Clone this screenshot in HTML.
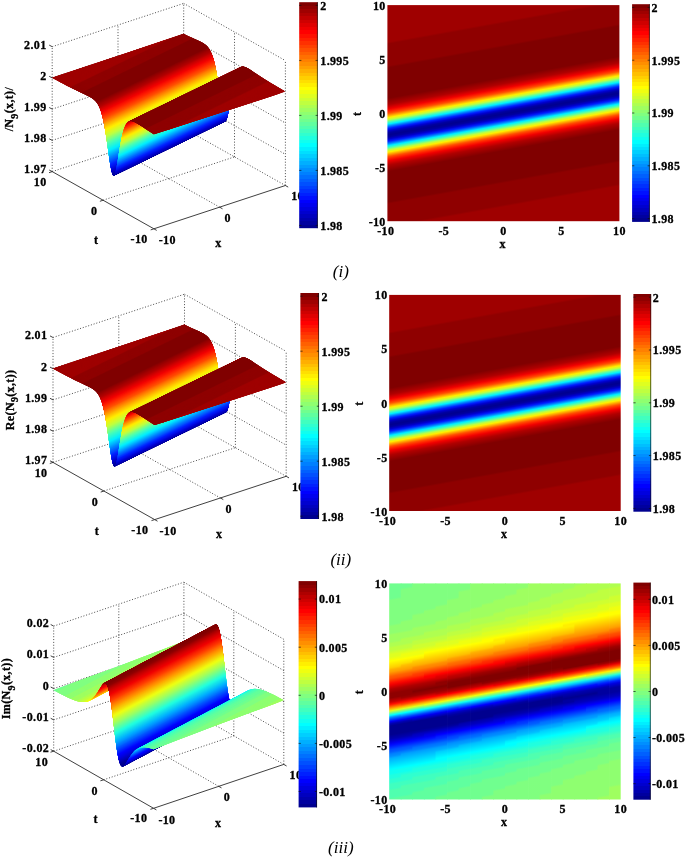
<!DOCTYPE html>
<html lang="en"><head><meta charset="utf-8"><title>Figure</title>
<style>html,body{margin:0;padding:0;background:#fff;overflow:hidden}svg{display:block;filter:blur(.4px)}text{font-family:"Liberation Serif", serif;fill:#000;stroke:#000;stroke-width:.3px;letter-spacing:.35px}.cap{stroke:none;letter-spacing:0}.gr{fill:none;stroke:#383838;stroke-width:.9;stroke-dasharray:1 1.85}.ax{fill:none;stroke:#2a2a2a;stroke-width:0.9}.cb{fill:none;stroke:#111;stroke-opacity:.75;stroke-width:0.9}path{stroke-width:0.6;stroke-linejoin:round}</style></head>
<body>
<svg width="685" height="859" viewBox="0 0 685 859">
<rect width="685" height="859" fill="#fff"/>
<defs><linearGradient id="jet" x1="0" y1="0" x2="0" y2="1"><stop offset="0.00000" stop-color="#800000"/><stop offset="0.01562" stop-color="#800000"/><stop offset="0.01562" stop-color="#8f0000"/><stop offset="0.03125" stop-color="#8f0000"/><stop offset="0.03125" stop-color="#9f0000"/><stop offset="0.04688" stop-color="#9f0000"/><stop offset="0.04688" stop-color="#af0000"/><stop offset="0.06250" stop-color="#af0000"/><stop offset="0.06250" stop-color="#bf0000"/><stop offset="0.07812" stop-color="#bf0000"/><stop offset="0.07812" stop-color="#cf0000"/><stop offset="0.09375" stop-color="#cf0000"/><stop offset="0.09375" stop-color="#df0000"/><stop offset="0.10938" stop-color="#df0000"/><stop offset="0.10938" stop-color="#ef0000"/><stop offset="0.12500" stop-color="#ef0000"/><stop offset="0.12500" stop-color="#ff0000"/><stop offset="0.14062" stop-color="#ff0000"/><stop offset="0.14062" stop-color="#ff1000"/><stop offset="0.15625" stop-color="#ff1000"/><stop offset="0.15625" stop-color="#ff2000"/><stop offset="0.17188" stop-color="#ff2000"/><stop offset="0.17188" stop-color="#ff3000"/><stop offset="0.18750" stop-color="#ff3000"/><stop offset="0.18750" stop-color="#ff4000"/><stop offset="0.20312" stop-color="#ff4000"/><stop offset="0.20312" stop-color="#ff5000"/><stop offset="0.21875" stop-color="#ff5000"/><stop offset="0.21875" stop-color="#ff6000"/><stop offset="0.23438" stop-color="#ff6000"/><stop offset="0.23438" stop-color="#ff7000"/><stop offset="0.25000" stop-color="#ff7000"/><stop offset="0.25000" stop-color="#ff8000"/><stop offset="0.26562" stop-color="#ff8000"/><stop offset="0.26562" stop-color="#ff8f00"/><stop offset="0.28125" stop-color="#ff8f00"/><stop offset="0.28125" stop-color="#ff9f00"/><stop offset="0.29688" stop-color="#ff9f00"/><stop offset="0.29688" stop-color="#ffaf00"/><stop offset="0.31250" stop-color="#ffaf00"/><stop offset="0.31250" stop-color="#ffbf00"/><stop offset="0.32812" stop-color="#ffbf00"/><stop offset="0.32812" stop-color="#ffcf00"/><stop offset="0.34375" stop-color="#ffcf00"/><stop offset="0.34375" stop-color="#ffdf00"/><stop offset="0.35938" stop-color="#ffdf00"/><stop offset="0.35938" stop-color="#ffef00"/><stop offset="0.37500" stop-color="#ffef00"/><stop offset="0.37500" stop-color="#ffff00"/><stop offset="0.39062" stop-color="#ffff00"/><stop offset="0.39062" stop-color="#efff10"/><stop offset="0.40625" stop-color="#efff10"/><stop offset="0.40625" stop-color="#dfff20"/><stop offset="0.42188" stop-color="#dfff20"/><stop offset="0.42188" stop-color="#cfff30"/><stop offset="0.43750" stop-color="#cfff30"/><stop offset="0.43750" stop-color="#bfff40"/><stop offset="0.45312" stop-color="#bfff40"/><stop offset="0.45312" stop-color="#afff50"/><stop offset="0.46875" stop-color="#afff50"/><stop offset="0.46875" stop-color="#9fff60"/><stop offset="0.48438" stop-color="#9fff60"/><stop offset="0.48438" stop-color="#8fff70"/><stop offset="0.50000" stop-color="#8fff70"/><stop offset="0.50000" stop-color="#80ff80"/><stop offset="0.51562" stop-color="#80ff80"/><stop offset="0.51562" stop-color="#70ff8f"/><stop offset="0.53125" stop-color="#70ff8f"/><stop offset="0.53125" stop-color="#60ff9f"/><stop offset="0.54688" stop-color="#60ff9f"/><stop offset="0.54688" stop-color="#50ffaf"/><stop offset="0.56250" stop-color="#50ffaf"/><stop offset="0.56250" stop-color="#40ffbf"/><stop offset="0.57812" stop-color="#40ffbf"/><stop offset="0.57812" stop-color="#30ffcf"/><stop offset="0.59375" stop-color="#30ffcf"/><stop offset="0.59375" stop-color="#20ffdf"/><stop offset="0.60938" stop-color="#20ffdf"/><stop offset="0.60938" stop-color="#10ffef"/><stop offset="0.62500" stop-color="#10ffef"/><stop offset="0.62500" stop-color="#00ffff"/><stop offset="0.64062" stop-color="#00ffff"/><stop offset="0.64062" stop-color="#00efff"/><stop offset="0.65625" stop-color="#00efff"/><stop offset="0.65625" stop-color="#00dfff"/><stop offset="0.67188" stop-color="#00dfff"/><stop offset="0.67188" stop-color="#00cfff"/><stop offset="0.68750" stop-color="#00cfff"/><stop offset="0.68750" stop-color="#00bfff"/><stop offset="0.70312" stop-color="#00bfff"/><stop offset="0.70312" stop-color="#00afff"/><stop offset="0.71875" stop-color="#00afff"/><stop offset="0.71875" stop-color="#009fff"/><stop offset="0.73438" stop-color="#009fff"/><stop offset="0.73438" stop-color="#008fff"/><stop offset="0.75000" stop-color="#008fff"/><stop offset="0.75000" stop-color="#0080ff"/><stop offset="0.76562" stop-color="#0080ff"/><stop offset="0.76562" stop-color="#0070ff"/><stop offset="0.78125" stop-color="#0070ff"/><stop offset="0.78125" stop-color="#0060ff"/><stop offset="0.79688" stop-color="#0060ff"/><stop offset="0.79688" stop-color="#0050ff"/><stop offset="0.81250" stop-color="#0050ff"/><stop offset="0.81250" stop-color="#0040ff"/><stop offset="0.82812" stop-color="#0040ff"/><stop offset="0.82812" stop-color="#0030ff"/><stop offset="0.84375" stop-color="#0030ff"/><stop offset="0.84375" stop-color="#0020ff"/><stop offset="0.85938" stop-color="#0020ff"/><stop offset="0.85938" stop-color="#0010ff"/><stop offset="0.87500" stop-color="#0010ff"/><stop offset="0.87500" stop-color="#0000ff"/><stop offset="0.89062" stop-color="#0000ff"/><stop offset="0.89062" stop-color="#0000ef"/><stop offset="0.90625" stop-color="#0000ef"/><stop offset="0.90625" stop-color="#0000df"/><stop offset="0.92188" stop-color="#0000df"/><stop offset="0.92188" stop-color="#0000cf"/><stop offset="0.93750" stop-color="#0000cf"/><stop offset="0.93750" stop-color="#0000bf"/><stop offset="0.95312" stop-color="#0000bf"/><stop offset="0.95312" stop-color="#0000af"/><stop offset="0.96875" stop-color="#0000af"/><stop offset="0.96875" stop-color="#00009f"/><stop offset="0.98438" stop-color="#00009f"/><stop offset="0.98438" stop-color="#00008f"/><stop offset="1.00000" stop-color="#00008f"/></linearGradient></defs>
<g>
<path class="gr" d="M52.2 171.6L52.2 46.7M285.4 185.5L285.4 60.6M219.7 207.2L118 150M103.1 200.2L234.5 156.9M118 150L118 25M234.5 156.9L234.5 32M285.4 185.5L183.7 128.3M52.2 171.6L183.7 128.3M183.7 128.3L183.7 3.4M52.2 140.4L183.7 97.1M183.7 97.1L285.4 154.3M52.2 109.1L183.7 65.8M183.7 65.8L285.4 123M52.2 77.9L183.7 34.6M183.7 34.6L285.4 91.8M52.2 46.7L183.7 3.4M183.7 3.4L285.4 60.6"/>
<path fill="#9f0000" d="M52.7 77.6L52.2 77.7L52.3 77.8Z"/>
<path fill="#9f0000" d="M56.1 76.5L52.2 77.7L52.8 78.1Z"/>
<path fill="#9f0000" d="M59.5 75.3L52.2 77.7L53.3 78.3Z"/>
<path fill="#9f0000" d="M62.9 74.2L52.2 77.7L53.8 78.6Z"/>
<path fill="#9f0000" d="M66.3 73.1L52.7 77.6L52.3 77.8L54.3 78.9Z"/>
<path fill="#9f0000" d="M69.7 72L56.1 76.5L52.8 78.1L54.8 79.2Z"/>
<path fill="#9f0000" d="M73 70.8L59.5 75.3L53.3 78.3L55.3 79.5Z"/>
<path fill="#9f0000" d="M76.4 69.7L62.9 74.2L53.8 78.6L55.8 79.7Z"/>
<path fill="#9f0000" d="M79.8 68.6L66.3 73.1L54.3 78.9L56.3 80Z"/>
<path fill="#9f0000" d="M83.2 67.5L69.7 72L54.8 79.2L56.9 80.3Z"/>
<path fill="#9f0000" d="M86.6 66.3L73 70.8L55.3 79.5L57.4 80.6Z"/>
<path fill="#9f0000" d="M90 65.2L76.4 69.7L55.8 79.7L57.9 80.8Z"/>
<path fill="#9f0000" d="M93.4 64.1L79.8 68.6L56.3 80L58.4 81.1Z"/>
<path fill="#9f0000" d="M96.8 63L83.2 67.5L56.9 80.3L58.9 81.4Z"/>
<path fill="#9f0000" d="M100.2 61.8L86.6 66.3L57.4 80.6L59.4 81.7Z"/>
<path fill="#9f0000" d="M103.5 60.7L90 65.2L57.9 80.8L59.9 81.9Z"/>
<path fill="#9f0000" d="M106.9 59.6L93.4 64.1L58.4 81.1L60.4 82.2Z"/>
<path fill="#9f0000" d="M110.3 58.4L96.8 63L58.9 81.4L60.9 82.5Z"/>
<path fill="#9f0000" d="M113.7 57.3L100.2 61.8L59.4 81.7L61.4 82.8Z"/>
<path fill="#9f0000" d="M117.1 56.2L103.5 60.7L59.9 81.9L61.9 83Z"/>
<path fill="#9f0000" d="M120.5 55L106.9 59.6L60.4 82.2L62.4 83.3Z"/>
<path fill="#9f0000" d="M123.9 53.9L110.3 58.4L60.9 82.5L63 83.6Z"/>
<path fill="#9f0000" d="M127.3 52.8L113.7 57.3L61.4 82.8L63.5 83.8Z"/>
<path fill="#9f0000" d="M130.7 51.7L117.1 56.2L61.9 83L64 84.1Z"/>
<path fill="#9f0000" d="M134 50.5L120.5 55L62.4 83.3L64.5 84.4Z"/>
<path fill="#9f0000" d="M137.4 49.4L123.9 53.9L63 83.6L65 84.6Z"/>
<path fill="#9f0000" d="M140.8 48.3L127.3 52.8L63.5 83.8L65.5 84.9Z"/>
<path fill="#9f0000" d="M144.2 47.1L130.7 51.7L64 84.1L66 85.2Z"/>
<path fill="#9f0000" d="M147.6 46L134 50.5L64.5 84.4L66.5 85.4Z"/>
<path fill="#9f0000" d="M151 44.8L137.4 49.4L65 84.6L67 85.7Z"/>
<path fill="#9f0000" d="M154.4 43.7L140.8 48.3L65.5 84.9L67.5 86Z"/>
<path fill="#9f0000" d="M157.8 42.6L144.2 47.1L66 85.2L68 86.2Z"/>
<path fill="#9f0000" d="M161.2 41.4L147.6 46L66.5 85.4L68.5 86.5Z"/>
<path fill="#9f0000" d="M164.6 40.3L151 44.8L67 85.7L69.1 86.8Z"/>
<path fill="#9f0000" d="M167.9 39.1L154.4 43.7L67.5 86L69.6 87Z"/>
<path fill="#9f0000" d="M171.3 38L157.8 42.6L68 86.2L70.1 87.3Z"/>
<path fill="#9f0000" d="M174.7 36.9L161.2 41.4L68.5 86.5L70.6 87.5Z"/>
<path fill="#9f0000" d="M178.1 35.7L164.6 40.3L69.1 86.8L71.1 87.8Z"/>
<path fill="#9c0000" d="M181.5 34.6L167.9 39.1L69.6 87L71.6 88.1Z"/>
<path fill="#940000" d="M183.9 33.9L183.7 33.8L171.3 38L70.1 87.3L72.1 88.3Z"/>
<path fill="#8f0000" d="M184.4 34.2L183.7 33.8L174.7 36.9L70.6 87.5L72.6 88.6Z"/>
<path fill="#8f0000" d="M184.9 34.4L183.7 33.8L178.1 35.7L71.1 87.8L73.1 88.8Z"/>
<path fill="#8f0000" d="M185.4 34.7L183.7 33.8L181.5 34.6L71.6 88.1L73.6 89.1Z"/>
<path fill="#8f0000" d="M185.9 34.9L183.9 33.9L72.1 88.3L74.1 89.3Z"/>
<path fill="#8f0000" d="M186.4 35.2L184.4 34.2L72.6 88.6L74.7 89.6Z"/>
<path fill="#8f0000" d="M186.9 35.4L184.9 34.4L73.1 88.8L75.2 89.8Z"/>
<path fill="#8f0000" d="M187.4 35.7L185.4 34.7L73.6 89.1L75.7 90.1Z"/>
<path fill="#8f0000" d="M187.9 35.9L185.9 34.9L74.1 89.3L76.2 90.3Z"/>
<path fill="#8f0000" d="M188.5 36.2L186.4 35.2L74.7 89.6L76.7 90.6Z"/>
<path fill="#8f0000" d="M189 36.4L186.9 35.4L75.2 89.8L77.2 90.8Z"/>
<path fill="#8f0000" d="M189.5 36.7L187.4 35.7L75.7 90.1L77.7 91Z"/>
<path fill="#8f0000" d="M190 36.9L187.9 35.9L76.2 90.3L78.2 91.3Z"/>
<path fill="#8f0000" d="M190.5 37.1L188.5 36.2L76.7 90.6L78.7 91.5Z"/>
<path fill="#8f0000" d="M191 37.4L189 36.4L77.2 90.8L79.2 91.8Z"/>
<path fill="#8f0000" d="M191.5 37.6L189.5 36.7L77.7 91L79.7 92Z"/>
<path fill="#8f0000" d="M192 37.8L190 36.9L78.2 91.3L80.2 92.2Z"/>
<path fill="#8f0000" d="M192.5 38.1L190.5 37.1L78.7 91.5L80.8 92.5Z"/>
<path fill="#8f0000" d="M193 38.3L191 37.4L79.2 91.8L81.3 92.7Z"/>
<path fill="#8f0000" d="M193.5 38.6L191.5 37.6L79.7 92L81.8 92.9Z"/>
<path fill="#8f0000" d="M194 38.8L192 37.8L80.2 92.2L82.3 93.2Z"/>
<path fill="#8c0000" d="M194.6 39L192.5 38.1L80.8 92.5L82.8 93.4Z"/>
<path fill="#840000" d="M195.1 39.2L193 38.3L81.3 92.7L83.3 93.6Z"/>
<path fill="#800000" d="M195.6 39.5L193.5 38.6L81.8 92.9L83.8 93.9Z"/>
<path fill="#800000" d="M196.1 39.7L194 38.8L82.3 93.2L84.3 94.1Z"/>
<path fill="#800000" d="M196.6 39.9L194.6 39L82.8 93.4L84.8 94.3Z"/>
<path fill="#800000" d="M197.1 40.2L195.1 39.2L83.3 93.6L85.3 94.6Z"/>
<path fill="#800000" d="M197.4 40.3L195.6 39.5L83.8 93.9L85.6 94.7Z"/>
<path fill="#800000" d="M197.6 40.4L195.8 39.6L84.1 94L85.8 94.8Z"/>
<path fill="#800000" d="M197.9 40.5L196.1 39.7L84.3 94.1L86.1 94.9Z"/>
<path fill="#800000" d="M198.1 40.7L196.3 39.8L84.6 94.2L86.3 95Z"/>
<path fill="#800000" d="M198.4 40.8L196.6 39.9L84.8 94.3L86.6 95.2Z"/>
<path fill="#800000" d="M198.6 40.9L196.8 40.1L85.1 94.5L86.9 95.3Z"/>
<path fill="#800000" d="M198.9 41L197.1 40.2L85.3 94.6L87.1 95.4Z"/>
<path fill="#800000" d="M199.1 41.1L197.4 40.3L85.6 94.7L87.4 95.5Z"/>
<path fill="#800000" d="M199.4 41.3L197.6 40.4L85.8 94.8L87.6 95.7Z"/>
<path fill="#800000" d="M199.6 41.4L197.9 40.5L86.1 94.9L87.9 95.8Z"/>
<path fill="#800000" d="M199.9 41.5L198.1 40.7L86.3 95L88.1 95.9Z"/>
<path fill="#800000" d="M200.1 41.6L198.4 40.8L86.6 95.2L88.4 96Z"/>
<path fill="#800000" d="M200.4 41.8L198.6 40.9L86.9 95.3L88.6 96.2Z"/>
<path fill="#800000" d="M200.7 41.9L198.9 41L87.1 95.4L88.9 96.3Z"/>
<path fill="#800000" d="M200.9 42L199.1 41.1L87.4 95.5L89.1 96.4Z"/>
<path fill="#800000" d="M201.2 42.1L199.4 41.3L87.6 95.7L89.4 96.5Z"/>
<path fill="#800000" d="M201.4 42.3L199.6 41.4L87.9 95.8L89.7 96.7Z"/>
<path fill="#800000" d="M201.7 42.4L199.9 41.5L88.1 95.9L89.9 96.8Z"/>
<path fill="#800000" d="M201.9 42.6L200.1 41.6L88.4 96L90.2 97Z"/>
<path fill="#800000" d="M202.2 42.7L200.4 41.8L88.6 96.2L90.4 97.1Z"/>
<path fill="#800000" d="M202.4 42.8L200.7 41.9L88.9 96.3L90.7 97.2Z"/>
<path fill="#800000" d="M202.7 43L200.9 42L89.1 96.4L90.9 97.4Z"/>
<path fill="#800000" d="M202.9 43.1L201.2 42.1L89.4 96.5L91.2 97.5Z"/>
<path fill="#800000" d="M203.2 43.3L201.4 42.3L89.7 96.7L91.4 97.7Z"/>
<path fill="#800000" d="M203.5 43.5L201.7 42.4L89.9 96.8L91.7 97.9Z"/>
<path fill="#800000" d="M203.7 43.6L201.9 42.6L90.2 97L91.9 98Z"/>
<path fill="#800000" d="M204 43.8L202.2 42.7L90.4 97.1L92.2 98.2Z"/>
<path fill="#800000" d="M204.2 44L202.4 42.8L90.7 97.2L92.4 98.4Z"/>
<path fill="#800000" d="M204.5 44.1L202.7 43L90.9 97.4L92.7 98.5Z"/>
<path fill="#800000" d="M204.7 44.3L202.9 43.1L91.2 97.5L93 98.7Z"/>
<path fill="#800000" d="M205 44.5L203.2 43.3L91.4 97.7L93.2 98.9Z"/>
<path fill="#800000" d="M205.2 44.7L203.5 43.5L91.7 97.9L93.5 99.1Z"/>
<path fill="#800000" d="M205.5 44.9L203.7 43.6L91.9 98L93.7 99.3Z"/>
<path fill="#800000" d="M205.7 45.1L204 43.8L92.2 98.2L94 99.5Z"/>
<path fill="#800000" d="M206 45.3L204.2 44L92.4 98.4L94.2 99.7Z"/>
<path fill="#800000" d="M206.3 45.6L204.5 44.1L92.7 98.5L94.5 100Z"/>
<path fill="#800000" d="M206.5 45.8L204.7 44.3L93 98.7L94.7 100.2Z"/>
<path fill="#800000" d="M206.8 46L205 44.5L93.2 98.9L95 100.4Z"/>
<path fill="#800000" d="M207 46.3L205.2 44.7L93.5 99.1L95.2 100.7Z"/>
<path fill="#800000" d="M207.3 46.6L205.5 44.9L93.7 99.3L95.5 101Z"/>
<path fill="#800000" d="M207.5 46.8L205.7 45.1L94 99.5L95.8 101.2Z"/>
<path fill="#800000" d="M207.8 47.1L206 45.3L94.2 99.7L96 101.5Z"/>
<path fill="#800000" d="M208 47.4L206.3 45.6L94.5 100L96.3 101.8Z"/>
<path fill="#800000" d="M208.3 47.8L206.5 45.8L94.7 100.2L96.5 102.1Z"/>
<path fill="#800000" d="M208.5 48.1L206.8 46L95 100.4L96.8 102.5Z"/>
<path fill="#800000" d="M208.8 48.4L207 46.3L95.2 100.7L97 102.8Z"/>
<path fill="#800000" d="M209 48.8L207.3 46.6L95.5 101L97.3 103.2Z"/>
<path fill="#800000" d="M209.3 49.2L207.5 46.8L95.8 101.2L97.5 103.6Z"/>
<path fill="#810000" d="M209.6 49.6L207.8 47.1L96 101.5L97.8 104Z"/>
<path fill="#850000" d="M209.8 50L208 47.4L96.3 101.8L98 104.4Z"/>
<path fill="#890000" d="M210.1 50.5L208.3 47.8L96.5 102.1L98.3 104.8Z"/>
<path fill="#8d0000" d="M210.3 50.9L208.5 48.1L96.8 102.5L98.5 105.3Z"/>
<path fill="#910000" d="M210.6 51.4L208.8 48.4L97 102.8L98.8 105.8Z"/>
<path fill="#950000" d="M210.8 51.9L209 48.8L97.3 103.2L99.1 106.3Z"/>
<path fill="#990000" d="M211.1 52.5L209.3 49.2L97.5 103.6L99.3 106.9Z"/>
<path fill="#9d0000" d="M211.3 53L209.6 49.6L97.8 104L99.6 107.4Z"/>
<path fill="#a10000" d="M211.6 53.6L209.8 50L98 104.4L99.8 108Z"/>
<path fill="#a50000" d="M211.8 54.3L210.1 50.5L98.3 104.8L100.1 108.7Z"/>
<path fill="#a90000" d="M212.1 54.9L210.3 50.9L98.5 105.3L100.3 109.3Z"/>
<path fill="#ad0000" d="M212.4 55.6L210.6 51.4L98.8 105.8L100.6 110Z"/>
<path fill="#b30000" d="M212.6 56.3L210.8 51.9L99.1 106.3L100.8 110.7Z"/>
<path fill="#ba0000" d="M212.9 57.1L211.1 52.5L99.3 106.9L101.1 111.5Z"/>
<path fill="#c20000" d="M213.1 57.9L211.3 53L99.6 107.4L101.3 112.3Z"/>
<path fill="#ca0000" d="M213.4 58.7L211.6 53.6L99.8 108L101.6 113.1Z"/>
<path fill="#d20000" d="M213.6 59.6L211.8 54.3L100.1 108.7L101.9 114Z"/>
<path fill="#da0000" d="M213.9 60.5L212.1 54.9L100.3 109.3L102.1 114.9Z"/>
<path fill="#e00000" d="M214 61L212.4 55.6L100.6 110L102.2 115.4Z"/>
<path fill="#e40000" d="M214.1 61.5L212.5 56L100.7 110.4L102.4 115.9Z"/>
<path fill="#e80000" d="M214.3 62L212.6 56.3L100.8 110.7L102.5 116.4Z"/>
<path fill="#ec0000" d="M214.4 62.5L212.7 56.7L101 111.1L102.6 116.9Z"/>
<path fill="#f00100" d="M214.5 63L212.9 57.1L101.1 111.5L102.7 117.4Z"/>
<path fill="#f20500" d="M214.6 63.6L213 57.5L101.2 111.9L102.9 118Z"/>
<path fill="#f40900" d="M214.8 64.1L213.1 57.9L101.3 112.3L103 118.5Z"/>
<path fill="#f60d00" d="M214.9 64.7L213.2 58.3L101.5 112.7L103.1 119.1Z"/>
<path fill="#f81100" d="M215 65.2L213.4 58.7L101.6 113.1L103.3 119.6Z"/>
<path fill="#fa1500" d="M215.2 65.8L213.5 59.2L101.7 113.6L103.4 120.2Z"/>
<path fill="#fc1900" d="M215.3 66.4L213.6 59.6L101.9 114L103.5 120.8Z"/>
<path fill="#fe1d00" d="M215.4 67L213.8 60.1L102 114.5L103.6 121.4Z"/>
<path fill="#ff2200" d="M215.5 67.6L213.9 60.5L102.1 114.9L103.8 122Z"/>
<path fill="#ff2800" d="M215.7 68.3L214 61L102.2 115.4L103.9 122.7Z"/>
<path fill="#ff2e00" d="M215.8 68.9L214.1 61.5L102.4 115.9L104 123.3Z"/>
<path fill="#ff3400" d="M215.9 69.6L214.3 62L102.5 116.4L104.1 124Z"/>
<path fill="#ff3a00" d="M216 70.2L214.4 62.5L102.6 116.9L104.3 124.6Z"/>
<path fill="#ff4000" d="M216.2 70.9L214.5 63L102.7 117.4L104.4 125.3Z"/>
<path fill="#ff4600" d="M216.3 71.6L214.6 63.6L102.9 118L104.5 126Z"/>
<path fill="#ff4c00" d="M216.4 72.3L214.8 64.1L103 118.5L104.7 126.7Z"/>
<path fill="#ff5300" d="M216.5 73L214.9 64.7L103.1 119.1L104.8 127.4Z"/>
<path fill="#ff5d00" d="M216.7 73.7L215 65.2L103.3 119.6L104.9 128.1Z"/>
<path fill="#ff6700" d="M216.8 74.5L215.2 65.8L103.4 120.2L105 128.9Z"/>
<path fill="#ff7100" d="M216.9 75.2L215.3 66.4L103.5 120.8L105.2 129.6Z"/>
<path fill="#ff7b00" d="M217.1 76L215.4 67L103.6 121.4L105.3 130.4Z"/>
<path fill="#ff8400" d="M217.2 76.8L215.5 67.6L103.8 122L105.4 131.2Z"/>
<path fill="#ff8e00" d="M217.3 77.6L215.7 68.3L103.9 122.7L105.5 132Z"/>
<path fill="#ff9800" d="M217.4 78.4L215.8 68.9L104 123.3L105.7 132.8Z"/>
<path fill="#ffa200" d="M217.6 79.2L215.9 69.6L104.1 124L105.8 133.6Z"/>
<path fill="#ffac00" d="M217.7 80L216 70.2L104.3 124.6L105.9 134.4Z"/>
<path fill="#ffb600" d="M217.8 80.8L216.2 70.9L104.4 125.3L106.1 135.2Z"/>
<path fill="#ffc000" d="M217.9 81.7L216.3 71.6L104.5 126L106.2 136.1Z"/>
<path fill="#ffca00" d="M218.1 82.5L216.4 72.3L104.7 126.7L106.3 136.9Z"/>
<path fill="#ffd400" d="M218.2 83.4L216.5 73L104.8 127.4L106.4 137.8Z"/>
<path fill="#ffde00" d="M218.3 84.2L216.7 73.7L104.9 128.1L106.6 138.6Z"/>
<path fill="#ffe800" d="M218.5 85.1L216.8 74.5L105 128.9L106.7 139.5Z"/>
<path fill="#fdf002" d="M218.6 86L216.9 75.2L105.2 129.6L106.8 140.4Z"/>
<path fill="#f5f20a" d="M218.7 86.9L217.1 76L105.3 130.4L106.9 141.3Z"/>
<path fill="#edf412" d="M218.8 87.8L217.2 76.8L105.4 131.2L107.1 142.2Z"/>
<path fill="#e5f61a" d="M219 88.7L217.3 77.6L105.5 132L107.2 143.1Z"/>
<path fill="#ddf822" d="M219.1 89.6L217.4 78.4L105.7 132.8L107.3 144Z"/>
<path fill="#d5fa2a" d="M219.2 90.5L217.6 79.2L105.8 133.6L107.4 144.9Z"/>
<path fill="#cdfc32" d="M219.3 91.4L217.7 80L105.9 134.4L107.6 145.8Z"/>
<path fill="#c5fe3a" d="M219.5 92.4L217.8 80.8L106.1 135.2L107.7 146.8Z"/>
<path fill="#bbff44" d="M219.6 93.3L217.9 81.7L106.2 136.1L107.8 147.7Z"/>
<path fill="#adff52" d="M219.7 94.2L218.1 82.5L106.3 136.9L108 148.6Z"/>
<path fill="#9fff60" d="M219.9 95.1L218.2 83.4L106.4 137.8L108.1 149.5Z"/>
<path fill="#91ff6e" d="M220 96.1L218.3 84.2L106.6 138.6L108.2 150.5Z"/>
<path fill="#83ff7c" d="M220.1 97L218.5 85.1L106.7 139.5L108.3 151.4Z"/>
<path fill="#75ff8a" d="M220.2 97.9L218.6 86L106.8 140.4L108.5 152.3Z"/>
<path fill="#67ff98" d="M220.4 98.8L218.7 86.9L106.9 141.3L108.6 153.2Z"/>
<path fill="#59ffa6" d="M220.5 99.8L218.8 87.8L107.1 142.2L108.7 154.2Z"/>
<path fill="#4dfeb2" d="M220.6 100.7L219 88.7L107.2 143.1L108.8 155.1Z"/>
<path fill="#43fcbc" d="M220.7 101.6L219.1 89.6L107.3 144L109 156Z"/>
<path fill="#39fac6" d="M220.9 102.5L219.2 90.5L107.4 144.9L109.1 156.9Z"/>
<path fill="#2ff8d0" d="M221 103.4L219.3 91.4L107.6 145.8L109.2 157.8Z"/>
<path fill="#25f6da" d="M221.1 104.3L219.5 92.4L107.7 146.8L109.4 158.7Z"/>
<path fill="#1bf4e4" d="M221.3 105.1L219.6 93.3L107.8 147.7L109.5 159.5Z"/>
<path fill="#11f2ee" d="M221.4 106L219.7 94.2L108 148.6L109.6 160.4Z"/>
<path fill="#07f0f8" d="M221.5 106.8L219.9 95.1L108.1 149.5L109.7 161.2Z"/>
<path fill="#00ebff" d="M221.6 107.7L220 96.1L108.2 150.5L109.9 162.1Z"/>
<path fill="#00ddff" d="M221.8 108.5L220.1 97L108.3 151.4L110 162.9Z"/>
<path fill="#00cfff" d="M221.9 109.3L220.2 97.9L108.5 152.3L110.1 163.7Z"/>
<path fill="#00c1ff" d="M222 110.1L220.4 98.8L108.6 153.2L110.2 164.5Z"/>
<path fill="#00b3ff" d="M222.1 110.9L220.5 99.8L108.7 154.2L110.4 165.3Z"/>
<path fill="#00a5ff" d="M222.3 111.6L220.6 100.7L108.8 155.1L110.5 166Z"/>
<path fill="#0097ff" d="M222.4 112.4L220.7 101.6L109 156L110.6 166.8Z"/>
<path fill="#0089ff" d="M222.5 113.1L220.9 102.5L109.1 156.9L110.8 167.5Z"/>
<path fill="#007cff" d="M222.7 113.8L221 103.4L109.2 157.8L110.9 168.1Z"/>
<path fill="#0070ff" d="M222.8 114.4L221.1 104.3L109.4 158.7L111 168.8Z"/>
<path fill="#0064ff" d="M222.9 115.1L221.3 105.1L109.5 159.5L111.1 169.5Z"/>
<path fill="#0058ff" d="M223 115.7L221.4 106L109.6 160.4L111.3 170.1Z"/>
<path fill="#004cff" d="M223.2 116.3L221.5 106.8L109.7 161.2L111.4 170.6Z"/>
<path fill="#0040ff" d="M223.3 116.8L221.6 107.7L109.9 162.1L111.5 171.2Z"/>
<path fill="#0034ff" d="M223.4 117.3L221.8 108.5L110 162.9L111.6 171.7Z"/>
<path fill="#0028ff" d="M223.5 117.8L221.9 109.3L110.1 163.7L111.8 172.2Z"/>
<path fill="#001ffd" d="M223.7 118.3L222 110.1L110.2 164.5L111.9 172.7Z"/>
<path fill="#001bf7" d="M223.8 118.7L222.1 110.9L110.4 165.3L112 173.1Z"/>
<path fill="#0017f1" d="M223.9 119.1L222.3 111.6L110.5 166L112.2 173.5Z"/>
<path fill="#0013eb" d="M224 119.5L222.4 112.4L110.6 166.8L112.3 173.9Z"/>
<path fill="#000fe5" d="M224.2 119.9L222.5 113.1L110.8 167.5L112.4 174.3Z"/>
<path fill="#000bdf" d="M224.3 120.2L222.7 113.8L110.9 168.1L112.5 174.6Z"/>
<path fill="#0007d9" d="M224.4 120.4L222.8 114.4L111 168.8L112.7 174.8Z"/>
<path fill="#0003d3" d="M224.6 120.7L222.9 115.1L111.1 169.5L112.8 175.1Z"/>
<path fill="#0000cd" d="M224.7 120.9L223 115.7L111.3 170.1L112.9 175.3Z"/>
<path fill="#0000c7" d="M224.8 121L223.2 116.3L111.4 170.6L113 175.4Z"/>
<path fill="#0000c1" d="M224.9 121.2L223.3 116.8L111.5 171.2L113.2 175.6Z"/>
<path fill="#0000bb" d="M225.1 121.3L223.4 117.3L111.6 171.7L113.3 175.7Z"/>
<path fill="#0000b5" d="M225.2 121.3L223.5 117.8L111.8 172.2L113.4 175.7Z"/>
<path fill="#0000b0" d="M225.3 121.4L223.7 118.3L111.9 172.7L113.6 175.8Z"/>
<path fill="#0000aa" d="M225.4 121.3L223.8 118.7L112 173.1L113.7 175.7Z"/>
<path fill="#0000a4" d="M225.6 121.3L223.9 119.1L112.2 173.5L113.8 175.7Z"/>
<path fill="#00009f" d="M225.7 121.2L224 119.5L112.3 173.9L113.9 175.6Z"/>
<path fill="#00009d" d="M225.8 121.1L224.2 119.9L112.4 174.3L114.1 175.5Z"/>
<path fill="#00009b" d="M226 121L224.3 120.2L112.5 174.6L114.2 175.4Z"/>
<path fill="#000099" d="M226.1 120.8L224.4 120.4L112.7 174.8L114.3 175.2Z"/>
<path fill="#000097" d="M226.2 120.6L224.6 120.7L112.8 175.1L114.4 175Z"/>
<path fill="#000095" d="M226.3 120.3L224.7 120.9L112.9 175.3L114.6 174.7Z"/>
<path fill="#000093" d="M226.5 120L224.8 121L113 175.4L114.7 174.4Z"/>
<path fill="#000091" d="M226.6 119.7L224.9 121.2L113.2 175.6L114.8 174.1Z"/>
<path fill="#000090" d="M226.7 119.4L225.1 121.3L113.3 175.7L114.9 173.8Z"/>
<path fill="#000092" d="M226.8 119L225.2 121.3L113.4 175.7L115.1 173.4Z"/>
<path fill="#000094" d="M227 118.6L225.3 121.4L113.6 175.8L115.2 173Z"/>
<path fill="#000096" d="M227.1 118.2L225.4 121.3L113.7 175.7L115.3 172.6Z"/>
<path fill="#000098" d="M227.2 117.7L225.6 121.3L113.8 175.7L115.5 172.1Z"/>
<path fill="#00009a" d="M227.4 117.2L225.7 121.2L113.9 175.6L115.6 171.6Z"/>
<path fill="#00009c" d="M227.5 116.7L225.8 121.1L114.1 175.5L115.7 171.1Z"/>
<path fill="#00009e" d="M227.6 116.2L226 121L114.2 175.4L115.8 170.6Z"/>
<path fill="#0000a1" d="M227.7 115.6L226.1 120.8L114.3 175.2L116 170Z"/>
<path fill="#0000a7" d="M227.9 115L226.2 120.6L114.4 175L116.1 169.4Z"/>
<path fill="#0000ad" d="M228 114.4L226.3 120.3L114.6 174.7L116.2 168.8Z"/>
<path fill="#0000b3" d="M228.1 113.8L226.5 120L114.7 174.4L116.3 168.2Z"/>
<path fill="#0000b9" d="M228.2 113.2L226.6 119.7L114.8 174.1L116.5 167.6Z"/>
<path fill="#0000bf" d="M228.4 112.5L226.7 119.4L114.9 173.8L116.6 166.9Z"/>
<path fill="#0000c5" d="M228.5 111.8L226.8 119L115.1 173.4L116.7 166.2Z"/>
<path fill="#0000cb" d="M228.6 111.2L227 118.6L115.2 173L116.9 165.6Z"/>
<path fill="#0001d1" d="M228.8 110.5L227.1 118.2L115.3 172.6L117 164.9Z"/>
<path fill="#0005d7" d="M228.9 109.7L227.2 117.7L115.5 172.1L117.1 164.1Z"/>
<path fill="#0009dd" d="M229 109L227.4 117.2L115.6 171.6L117.2 163.4Z"/>
<path fill="#000de3" d="M229.1 108.3L227.5 116.7L115.7 171.1L117.4 162.7Z"/>
<path fill="#0011e9" d="M229.3 107.5L227.6 116.2L115.8 170.6L117.5 161.9Z"/>
<path fill="#0015ef" d="M229.4 106.8L227.7 115.6L116 170L117.6 161.2Z"/>
<path fill="#0019f5" d="M229.5 106L227.9 115L116.1 169.4L117.7 160.4Z"/>
<path fill="#001dfb" d="M229.6 105.2L228 114.4L116.2 168.8L117.9 159.6Z"/>
<path fill="#0023ff" d="M229.8 104.5L228.1 113.8L116.3 168.2L118 158.9Z"/>
<path fill="#002fff" d="M229.9 103.7L228.2 113.2L116.5 167.6L118.1 158.1Z"/>
<path fill="#003bff" d="M230 102.9L228.4 112.5L116.6 166.9L118.3 157.3Z"/>
<path fill="#0047ff" d="M230.2 102.1L228.5 111.8L116.7 166.2L118.4 156.5Z"/>
<path fill="#0053ff" d="M230.3 101.3L228.6 111.2L116.9 165.6L118.5 155.7Z"/>
<path fill="#005fff" d="M230.4 100.6L228.8 110.5L117 164.9L118.6 155Z"/>
<path fill="#006bff" d="M230.5 99.8L228.9 109.7L117.1 164.1L118.8 154.2Z"/>
<path fill="#0077ff" d="M230.7 99L229 109L117.2 163.4L118.9 153.4Z"/>
<path fill="#0084ff" d="M230.8 98.2L229.1 108.3L117.4 162.7L119 152.6Z"/>
<path fill="#0092ff" d="M230.9 97.4L229.3 107.5L117.5 161.9L119.1 151.8Z"/>
<path fill="#00a0ff" d="M231 96.7L229.4 106.8L117.6 161.2L119.3 151.1Z"/>
<path fill="#00aeff" d="M231.2 95.9L229.5 106L117.7 160.4L119.4 150.3Z"/>
<path fill="#00bbff" d="M231.3 95.1L229.6 105.2L117.9 159.6L119.5 149.5Z"/>
<path fill="#00c9ff" d="M231.4 94.4L229.8 104.5L118 158.9L119.7 148.8Z"/>
<path fill="#00d7ff" d="M231.5 93.6L229.9 103.7L118.1 158.1L119.8 148Z"/>
<path fill="#00e5ff" d="M231.7 92.9L230 102.9L118.3 157.3L119.9 147.3Z"/>
<path fill="#03f0fc" d="M231.8 92.1L230.2 102.1L118.4 156.5L120 146.5Z"/>
<path fill="#0df2f2" d="M231.9 91.4L230.3 101.3L118.5 155.7L120.2 145.8Z"/>
<path fill="#17f4e8" d="M232.1 90.7L230.4 100.6L118.6 155L120.3 145.1Z"/>
<path fill="#21f6de" d="M232.2 90L230.5 99.8L118.8 154.2L120.4 144.4Z"/>
<path fill="#2bf8d4" d="M232.3 89.3L230.7 99L118.9 153.4L120.5 143.7Z"/>
<path fill="#35faca" d="M232.4 88.6L230.8 98.2L119 152.6L120.7 143Z"/>
<path fill="#3ffcc0" d="M232.6 87.9L230.9 97.4L119.1 151.8L120.8 142.3Z"/>
<path fill="#49feb6" d="M232.7 87.2L231 96.7L119.3 151.1L120.9 141.6Z"/>
<path fill="#54ffab" d="M232.8 86.6L231.2 95.9L119.4 150.3L121.1 141Z"/>
<path fill="#62ff9d" d="M232.9 85.9L231.3 95.1L119.5 149.5L121.2 140.3Z"/>
<path fill="#70ff8f" d="M233.1 85.3L231.4 94.4L119.7 148.8L121.3 139.7Z"/>
<path fill="#7eff81" d="M233.2 84.7L231.5 93.6L119.8 148L121.4 139.1Z"/>
<path fill="#8cff73" d="M233.3 84L231.7 92.9L119.9 147.3L121.6 138.4Z"/>
<path fill="#9aff65" d="M233.5 83.4L231.8 92.1L120 146.5L121.7 137.8Z"/>
<path fill="#a8ff57" d="M233.6 82.9L231.9 91.4L120.2 145.8L121.8 137.3Z"/>
<path fill="#b5ff4a" d="M233.7 82.3L232.1 90.7L120.3 145.1L121.9 136.7Z"/>
<path fill="#c2fe3d" d="M233.8 81.7L232.2 90L120.4 144.4L122.1 136.1Z"/>
<path fill="#cafc35" d="M234 81.2L232.3 89.3L120.5 143.7L122.2 135.6Z"/>
<path fill="#d2fa2d" d="M234.1 80.6L232.4 88.6L120.7 143L122.3 135Z"/>
<path fill="#daf825" d="M234.2 80.1L232.6 87.9L120.8 142.3L122.4 134.5Z"/>
<path fill="#e2f61d" d="M234.3 79.6L232.7 87.2L120.9 141.6L122.6 134Z"/>
<path fill="#e9f416" d="M234.5 79.1L232.8 86.6L121.1 141L122.7 133.5Z"/>
<path fill="#f1f20e" d="M234.6 78.6L232.9 85.9L121.2 140.3L122.8 133Z"/>
<path fill="#f9f006" d="M234.7 78.1L233.1 85.3L121.3 139.7L123 132.5Z"/>
<path fill="#ffec00" d="M234.9 77.6L233.2 84.7L121.4 139.1L123.1 132Z"/>
<path fill="#ffe200" d="M235 77.2L233.3 84L121.6 138.4L123.2 131.6Z"/>
<path fill="#ffd800" d="M235.1 76.7L233.5 83.4L121.7 137.8L123.3 131.1Z"/>
<path fill="#ffce00" d="M235.2 76.3L233.6 82.9L121.8 137.3L123.5 130.7Z"/>
<path fill="#ffc400" d="M235.4 75.9L233.7 82.3L121.9 136.7L123.6 130.3Z"/>
<path fill="#ffba00" d="M235.5 75.5L233.8 81.7L122.1 136.1L123.7 129.9Z"/>
<path fill="#ffb000" d="M235.6 75.1L234 81.2L122.2 135.6L123.8 129.5Z"/>
<path fill="#ffa600" d="M235.7 74.7L234.1 80.6L122.3 135L124 129.1Z"/>
<path fill="#ff9c00" d="M235.9 74.3L234.2 80.1L122.4 134.5L124.1 128.7Z"/>
<path fill="#ff9200" d="M236 74L234.3 79.6L122.6 134L124.2 128.4Z"/>
<path fill="#ff8800" d="M236.1 73.6L234.5 79.1L122.7 133.5L124.4 128Z"/>
<path fill="#ff7a00" d="M236.4 73L234.6 78.6L122.8 133L124.6 127.4Z"/>
<path fill="#ff6600" d="M236.6 72.3L234.9 77.6L123.1 132L124.9 126.7Z"/>
<path fill="#ff5200" d="M236.9 71.8L235.1 76.7L123.3 131.1L125.1 126.1Z"/>
<path fill="#ff4500" d="M237.1 71.2L235.4 75.9L123.6 130.3L125.4 125.6Z"/>
<path fill="#ff3900" d="M237.4 70.7L235.6 75.1L123.8 129.5L125.6 125.1Z"/>
<path fill="#ff2d00" d="M237.7 70.2L235.9 74.3L124.1 128.7L125.9 124.6Z"/>
<path fill="#ff2100" d="M237.9 69.8L236.1 73.6L124.4 128L126.1 124.2Z"/>
<path fill="#fb1900" d="M238.2 69.4L236.4 73L124.6 127.4L126.4 123.8Z"/>
<path fill="#f71100" d="M238.4 69.1L236.6 72.3L124.9 126.7L126.6 123.4Z"/>
<path fill="#f30900" d="M238.7 68.7L236.9 71.8L125.1 126.1L126.9 123.1Z"/>
<path fill="#ef0100" d="M238.9 68.4L237.1 71.2L125.4 125.6L127.2 122.8Z"/>
<path fill="#e80000" d="M239.2 68.1L237.4 70.7L125.6 125.1L127.4 122.5Z"/>
<path fill="#e00000" d="M239.4 67.9L237.7 70.2L125.9 124.6L127.7 122.3Z"/>
<path fill="#d80000" d="M239.7 67.7L237.9 69.8L126.1 124.2L127.9 122.1Z"/>
<path fill="#d00000" d="M239.9 67.5L238.2 69.4L126.4 123.8L128.2 121.9Z"/>
<path fill="#c80000" d="M240.2 67.3L238.4 69.1L126.6 123.4L128.4 121.7Z"/>
<path fill="#c00000" d="M240.4 67.2L238.7 68.7L126.9 123.1L128.7 121.5Z"/>
<path fill="#b80000" d="M240.7 67L238.9 68.4L127.2 122.8L128.9 121.4Z"/>
<path fill="#b00000" d="M241 66.9L239.2 68.1L127.4 122.5L129.2 121.3Z"/>
<path fill="#ac0000" d="M241.2 66.8L239.4 67.9L127.7 122.3L129.4 121.2Z"/>
<path fill="#a80000" d="M241.5 66.7L239.7 67.7L127.9 122.1L129.7 121.1Z"/>
<path fill="#a40000" d="M241.7 66.7L239.9 67.5L128.2 121.9L129.9 121.1Z"/>
<path fill="#a00000" d="M242 66.6L240.2 67.3L128.4 121.7L130.2 121Z"/>
<path fill="#9c0000" d="M242.2 66.6L240.4 67.2L128.7 121.5L130.5 121Z"/>
<path fill="#980000" d="M242.5 66.6L240.7 67L128.9 121.4L130.7 121Z"/>
<path fill="#940000" d="M242.7 66.6L241 66.9L129.2 121.3L131 121Z"/>
<path fill="#900000" d="M243 66.6L241.2 66.8L129.4 121.2L131.2 121Z"/>
<path fill="#8c0000" d="M243.2 66.6L241.5 66.7L129.7 121.1L131.5 121Z"/>
<path fill="#880000" d="M243.5 66.7L241.7 66.7L129.9 121.1L131.7 121.1Z"/>
<path fill="#840000" d="M243.8 66.7L242 66.6L130.2 121L132 121.1Z"/>
<path fill="#800000" d="M244 66.8L242.2 66.6L130.5 121L132.2 121.2Z"/>
<path fill="#800000" d="M244.3 66.8L242.5 66.6L130.7 121L132.5 121.2Z"/>
<path fill="#800000" d="M244.5 66.9L242.7 66.6L131 121L132.7 121.3Z"/>
<path fill="#800000" d="M244.8 67L243 66.6L131.2 121L133 121.4Z"/>
<path fill="#800000" d="M245 67.1L243.2 66.6L131.5 121L133.3 121.5Z"/>
<path fill="#800000" d="M245.3 67.2L243.5 66.7L131.7 121.1L133.5 121.6Z"/>
<path fill="#800000" d="M245.5 67.3L243.8 66.7L132 121.1L133.8 121.7Z"/>
<path fill="#800000" d="M245.8 67.4L244 66.8L132.2 121.2L134 121.8Z"/>
<path fill="#800000" d="M246 67.5L244.3 66.8L132.5 121.2L134.3 121.9Z"/>
<path fill="#800000" d="M246.3 67.6L244.5 66.9L132.7 121.3L134.5 122Z"/>
<path fill="#800000" d="M246.6 67.7L244.8 67L133 121.4L134.8 122.1Z"/>
<path fill="#800000" d="M246.8 67.8L245 67.1L133.3 121.5L135 122.2Z"/>
<path fill="#800000" d="M247.1 68L245.3 67.2L133.5 121.6L135.3 122.4Z"/>
<path fill="#800000" d="M247.3 68.1L245.5 67.3L133.8 121.7L135.5 122.5Z"/>
<path fill="#800000" d="M247.6 68.2L245.8 67.4L134 121.8L135.8 122.6Z"/>
<path fill="#800000" d="M247.8 68.4L246 67.5L134.3 121.9L136.1 122.8Z"/>
<path fill="#800000" d="M248.1 68.5L246.3 67.6L134.5 122L136.3 122.9Z"/>
<path fill="#800000" d="M248.3 68.7L246.6 67.7L134.8 122.1L136.6 123.1Z"/>
<path fill="#800000" d="M248.6 68.8L246.8 67.8L135 122.2L136.8 123.2Z"/>
<path fill="#800000" d="M248.8 69L247.1 68L135.3 122.4L137.1 123.4Z"/>
<path fill="#800000" d="M249.1 69.1L247.3 68.1L135.5 122.5L137.3 123.5Z"/>
<path fill="#800000" d="M249.3 69.3L247.6 68.2L135.8 122.6L137.6 123.7Z"/>
<path fill="#800000" d="M249.6 69.4L247.8 68.4L136.1 122.8L137.8 123.8Z"/>
<path fill="#800000" d="M249.9 69.6L248.1 68.5L136.3 122.9L138.1 124Z"/>
<path fill="#800000" d="M250.1 69.7L248.3 68.7L136.6 123.1L138.3 124.1Z"/>
<path fill="#800000" d="M250.4 69.9L248.6 68.8L136.8 123.2L138.6 124.3Z"/>
<path fill="#800000" d="M250.6 70.1L248.8 69L137.1 123.4L138.8 124.5Z"/>
<path fill="#800000" d="M250.9 70.2L249.1 69.1L137.3 123.5L139.1 124.6Z"/>
<path fill="#800000" d="M251.1 70.4L249.3 69.3L137.6 123.7L139.4 124.8Z"/>
<path fill="#800000" d="M251.4 70.5L249.6 69.4L137.8 123.8L139.6 124.9Z"/>
<path fill="#800000" d="M251.6 70.7L249.9 69.6L138.1 124L139.9 125.1Z"/>
<path fill="#800000" d="M251.9 70.9L250.1 69.7L138.3 124.1L140.1 125.3Z"/>
<path fill="#800000" d="M252.1 71L250.4 69.9L138.6 124.3L140.4 125.4Z"/>
<path fill="#800000" d="M252.4 71.2L250.6 70.1L138.8 124.5L140.6 125.6Z"/>
<path fill="#800000" d="M252.7 71.4L250.9 70.2L139.1 124.6L140.9 125.8Z"/>
<path fill="#800000" d="M252.9 71.6L251.1 70.4L139.4 124.8L141.1 125.9Z"/>
<path fill="#800000" d="M253.4 71.9L251.4 70.5L139.6 124.9L141.6 126.3Z"/>
<path fill="#800000" d="M253.9 72.2L251.9 70.9L140.1 125.3L142.2 126.6Z"/>
<path fill="#800000" d="M254.4 72.6L252.4 71.2L140.6 125.6L142.7 127Z"/>
<path fill="#800000" d="M254.9 72.9L252.9 71.6L141.1 125.9L143.2 127.3Z"/>
<path fill="#800000" d="M255.4 73.2L253.4 71.9L141.6 126.3L143.7 127.6Z"/>
<path fill="#800000" d="M256 73.6L253.9 72.2L142.2 126.6L144.2 128Z"/>
<path fill="#800000" d="M256.5 73.9L254.4 72.6L142.7 127L144.7 128.3Z"/>
<path fill="#800000" d="M257 74.3L254.9 72.9L143.2 127.3L145.2 128.7Z"/>
<path fill="#800000" d="M257.5 74.6L255.4 73.2L143.7 127.6L145.7 129Z"/>
<path fill="#800000" d="M258 74.9L256 73.6L144.2 128L146.2 129.3Z"/>
<path fill="#810000" d="M258.5 75.3L256.5 73.9L144.7 128.3L146.7 129.7Z"/>
<path fill="#890000" d="M259 75.6L257 74.3L145.2 128.7L147.2 130Z"/>
<path fill="#8f0000" d="M259.5 75.9L257.5 74.6L145.7 129L147.7 130.3Z"/>
<path fill="#8f0000" d="M260 76.3L258 74.9L146.2 129.3L148.3 130.7Z"/>
<path fill="#8f0000" d="M260.5 76.6L258.5 75.3L146.7 129.7L148.8 131Z"/>
<path fill="#8f0000" d="M261 76.9L259 75.6L147.2 130L149.3 131.3Z"/>
<path fill="#8f0000" d="M261.6 77.3L259.5 75.9L147.7 130.3L149.8 131.7Z"/>
<path fill="#8f0000" d="M262.1 77.6L260 76.3L148.3 130.7L150.3 132Z"/>
<path fill="#8f0000" d="M262.6 77.9L260.5 76.6L148.8 131L150.8 132.3Z"/>
<path fill="#8f0000" d="M263.1 78.2L261 76.9L149.3 131.3L151.3 132.6Z"/>
<path fill="#8f0000" d="M263.6 78.6L261.6 77.3L149.8 131.7L151.8 133Z"/>
<path fill="#8f0000" d="M264.1 78.9L262.1 77.6L150.3 132L152.3 133.3Z"/>
<path fill="#8f0000" d="M264.6 79.2L262.6 77.9L150.8 132.3L152.8 133.6Z"/>
<path fill="#8f0000" d="M265.1 79.5L263.1 78.2L151.3 132.6L153.3 133.9Z"/>
<path fill="#8f0000" d="M265.6 79.8L263.6 78.6L151.8 133L153.8 134.2Z"/>
<path fill="#8f0000" d="M153.9 134.3L157 133.3L266.1 80.2L264.1 78.9L152.3 133.3Z"/>
<path fill="#8f0000" d="M153.9 134.3L160.3 132.2L266.6 80.5L264.6 79.2L152.8 133.6Z"/>
<path fill="#8f0000" d="M153.9 134.3L163.7 131.1L267.1 80.8L265.1 79.5L153.3 133.9Z"/>
<path fill="#8f0000" d="M153.9 134.3L167.1 130L267.7 81.1L265.6 79.8L153.8 134.2Z"/>
<path fill="#8f0000" d="M157 133.3L170.5 129L268.2 81.4L266.1 80.2Z"/>
<path fill="#8f0000" d="M160.3 132.2L173.9 127.9L268.7 81.7L266.6 80.5Z"/>
<path fill="#8f0000" d="M163.7 131.1L177.3 126.8L269.2 82L267.1 80.8Z"/>
<path fill="#910000" d="M167.1 130L180.7 125.7L269.7 82.4L267.7 81.1Z"/>
<path fill="#990000" d="M170.5 129L184.1 124.6L270.2 82.7L268.2 81.4Z"/>
<path fill="#9f0000" d="M173.9 127.9L187.5 123.5L270.7 83L268.7 81.7Z"/>
<path fill="#9f0000" d="M177.3 126.8L190.8 122.4L271.2 83.3L269.2 82Z"/>
<path fill="#9f0000" d="M180.7 125.7L194.2 121.3L271.7 83.6L269.7 82.4Z"/>
<path fill="#9f0000" d="M184.1 124.6L197.6 120.2L272.2 83.9L270.2 82.7Z"/>
<path fill="#9f0000" d="M187.5 123.5L201 119.1L272.7 84.2L270.7 83Z"/>
<path fill="#9f0000" d="M190.8 122.4L204.4 118L273.2 84.5L271.2 83.3Z"/>
<path fill="#9f0000" d="M194.2 121.3L207.8 116.9L273.8 84.8L271.7 83.6Z"/>
<path fill="#9f0000" d="M197.6 120.2L211.2 115.8L274.3 85.1L272.2 83.9Z"/>
<path fill="#9f0000" d="M201 119.1L214.6 114.7L274.8 85.4L272.7 84.2Z"/>
<path fill="#9f0000" d="M204.4 118L218 113.6L275.3 85.7L273.2 84.5Z"/>
<path fill="#9f0000" d="M207.8 116.9L221.3 112.5L275.8 86L273.8 84.8Z"/>
<path fill="#9f0000" d="M211.2 115.8L224.7 111.4L276.3 86.3L274.3 85.1Z"/>
<path fill="#9f0000" d="M214.6 114.7L228.1 110.3L276.8 86.6L274.8 85.4Z"/>
<path fill="#9f0000" d="M218 113.6L231.5 109.2L277.3 86.9L275.3 85.7Z"/>
<path fill="#9f0000" d="M221.3 112.5L234.9 108.1L277.8 87.2L275.8 86Z"/>
<path fill="#9f0000" d="M224.7 111.4L238.3 107L278.3 87.5L276.3 86.3Z"/>
<path fill="#9f0000" d="M228.1 110.3L241.7 105.9L278.8 87.8L276.8 86.6Z"/>
<path fill="#9f0000" d="M231.5 109.2L245.1 104.8L279.3 88.1L277.3 86.9Z"/>
<path fill="#9f0000" d="M234.9 108.1L248.5 103.7L279.9 88.4L277.8 87.2Z"/>
<path fill="#9f0000" d="M238.3 107L251.8 102.6L280.4 88.7L278.3 87.5Z"/>
<path fill="#9f0000" d="M241.7 105.9L255.2 101.5L280.9 89L278.8 87.8Z"/>
<path fill="#9f0000" d="M245.1 104.8L258.6 100.4L281.4 89.3L279.3 88.1Z"/>
<path fill="#9f0000" d="M248.5 103.7L262 99.3L281.9 89.6L279.9 88.4Z"/>
<path fill="#9f0000" d="M251.8 102.6L265.4 98.2L282.4 89.9L280.4 88.7Z"/>
<path fill="#9f0000" d="M255.2 101.5L268.8 97.1L282.9 90.2L280.9 89Z"/>
<path fill="#9f0000" d="M258.6 100.4L272.2 96L283.4 90.5L281.4 89.3Z"/>
<path fill="#9f0000" d="M262 99.3L275.6 94.8L283.9 90.8L281.9 89.6Z"/>
<path fill="#9f0000" d="M265.4 98.2L279 93.7L284.4 91.1L282.4 89.9Z"/>
<path fill="#9f0000" d="M268.8 97.1L282.3 92.6L284.9 91.4L282.9 90.2Z"/>
<path fill="#9f0000" d="M272.2 96L285.4 91.6L283.4 90.5Z"/>
<path class="ax" d="M52.2 171.6L153.9 228.8"/>
<path class="ax" d="M153.9 228.8L285.4 185.5"/>
<path class="ax" d="M153.9 228.8L150.7 229.9M153.9 228.8L156.7 230.4M103.1 200.2L99.9 201.3M219.7 207.2L222.5 208.8M52.2 171.6L49 172.7M285.4 185.5L288.2 187.1M52.2 171.6L49.2 170M52.2 140.4L49.2 138.8M52.2 109.1L49.2 107.5M52.2 77.9L49.2 76.3M52.2 46.7L49.2 45.1"/>
<text x="46.5" y="173.4" font-size="12" text-anchor="end" font-weight="bold" font-style="normal">1.97</text>
<text x="46.5" y="142.2" font-size="12" text-anchor="end" font-weight="bold" font-style="normal">1.98</text>
<text x="46.5" y="110.9" font-size="12" text-anchor="end" font-weight="bold" font-style="normal">1.99</text>
<text x="46.5" y="79.7" font-size="12" text-anchor="end" font-weight="bold" font-style="normal">2</text>
<text x="46.5" y="48.5" font-size="12" text-anchor="end" font-weight="bold" font-style="normal">2.01</text>
<text x="40.2" y="185.9" font-size="12" text-anchor="middle" font-weight="bold" font-style="normal">10</text>
<text x="94.1" y="214.9" font-size="12" text-anchor="middle" font-weight="bold" font-style="normal">0</text>
<text x="147.6" y="242.8" font-size="12" text-anchor="end" font-weight="bold" font-style="normal">-10</text>
<text x="158.7" y="244.3" font-size="12" text-anchor="start" font-weight="bold" font-style="normal">-10</text>
<text x="227.8" y="222.2" font-size="12" text-anchor="middle" font-weight="bold" font-style="normal">0</text>
<text x="291.2" y="200.3" font-size="12" text-anchor="start" font-weight="bold" font-style="normal">10</text>
<text x="96.1" y="243.8" font-size="12" text-anchor="middle" font-weight="bold" font-style="normal">t</text>
<text x="218.5" y="247.3" font-size="12" text-anchor="middle" font-weight="bold" font-style="normal">x</text>
<text transform="translate(12.9 109.1) rotate(-90)" font-size="12" text-anchor="middle" font-weight="bold"><tspan font-weight="normal">/</tspan>N<tspan font-size="10" dy="4.6">9</tspan><tspan dy="-4.6">(x,t)</tspan><tspan font-weight="normal">/</tspan></text>
<rect x="299.2" y="2.2" width="18.6" height="226" fill="url(#jet)"/>
<path class="cb" d="M317.4 2.2V228.2"/>
<text x="320.3" y="9.7" font-size="12" text-anchor="start" font-weight="bold" font-style="normal">2</text>
<text x="320.3" y="64.7" font-size="12" text-anchor="start" font-weight="bold" font-style="normal">1.995</text>
<text x="320.3" y="119.7" font-size="12" text-anchor="start" font-weight="bold" font-style="normal">1.99</text>
<text x="320.3" y="174.7" font-size="12" text-anchor="start" font-weight="bold" font-style="normal">1.985</text>
<text x="320.3" y="229.7" font-size="12" text-anchor="start" font-weight="bold" font-style="normal">1.98</text>
<path class="cb" d="M299.2 5.4h2.2M317.8 5.4h-2.2M299.2 60.4h2.2M317.8 60.4h-2.2M299.2 115.4h2.2M317.8 115.4h-2.2M299.2 170.4h2.2M317.8 170.4h-2.2M299.2 225.4h2.2M317.8 225.4h-2.2"/>
<linearGradient id="hm0_0" gradientUnits="userSpaceOnUse" x1="526.62" y1="241.64" x2="480.11" y2="-15.76">
<stop offset="0.0000" stop-color="#9f0000"/>
<stop offset="0.1463" stop-color="#9f0000"/>
<stop offset="0.1545" stop-color="#8f0000"/>
<stop offset="0.2358" stop-color="#8f0000"/>
<stop offset="0.2439" stop-color="#800000"/>
<stop offset="0.3577" stop-color="#800000"/>
<stop offset="0.3821" stop-color="#af0000"/>
<stop offset="0.3984" stop-color="#ef0000"/>
<stop offset="0.4065" stop-color="#ff2000"/>
<stop offset="0.4146" stop-color="#ff5000"/>
<stop offset="0.4309" stop-color="#ffef00"/>
<stop offset="0.4390" stop-color="#bfff40"/>
<stop offset="0.4472" stop-color="#50ffaf"/>
<stop offset="0.4553" stop-color="#00efff"/>
<stop offset="0.4634" stop-color="#0080ff"/>
<stop offset="0.4715" stop-color="#0020ff"/>
<stop offset="0.4797" stop-color="#0000cf"/>
<stop offset="0.4878" stop-color="#00009f"/>
<stop offset="0.4959" stop-color="#00008f"/>
<stop offset="0.5041" stop-color="#00009f"/>
<stop offset="0.5122" stop-color="#0000cf"/>
<stop offset="0.5203" stop-color="#0020ff"/>
<stop offset="0.5285" stop-color="#0080ff"/>
<stop offset="0.5366" stop-color="#00efff"/>
<stop offset="0.5447" stop-color="#50ffaf"/>
<stop offset="0.5528" stop-color="#bfff40"/>
<stop offset="0.5610" stop-color="#ffef00"/>
<stop offset="0.5772" stop-color="#ff5000"/>
<stop offset="0.5854" stop-color="#ff2000"/>
<stop offset="0.5935" stop-color="#ef0000"/>
<stop offset="0.6098" stop-color="#af0000"/>
<stop offset="0.6341" stop-color="#800000"/>
<stop offset="0.7480" stop-color="#800000"/>
<stop offset="0.7561" stop-color="#8f0000"/>
<stop offset="0.8374" stop-color="#8f0000"/>
<stop offset="0.8455" stop-color="#9f0000"/>
<stop offset="1.0000" stop-color="#9f0000"/>
</linearGradient>
<rect x="387.40" y="5.1" width="232.00" height="216.1" fill="url(#hm0_0)"/>
<text x="385.7" y="225.7" font-size="12" text-anchor="end" font-weight="bold" font-style="normal">-10</text>
<text x="385.8" y="234.8" font-size="12" text-anchor="middle" font-weight="bold" font-style="normal">-10</text>
<text x="385.7" y="171.7" font-size="12" text-anchor="end" font-weight="bold" font-style="normal">-5</text>
<text x="443.8" y="234.8" font-size="12" text-anchor="middle" font-weight="bold" font-style="normal">-5</text>
<text x="385.7" y="117.6" font-size="12" text-anchor="end" font-weight="bold" font-style="normal">0</text>
<text x="503.4" y="234.8" font-size="12" text-anchor="middle" font-weight="bold" font-style="normal">0</text>
<text x="385.7" y="63.6" font-size="12" text-anchor="end" font-weight="bold" font-style="normal">5</text>
<text x="561.4" y="234.8" font-size="12" text-anchor="middle" font-weight="bold" font-style="normal">5</text>
<text x="385.7" y="9.6" font-size="12" text-anchor="end" font-weight="bold" font-style="normal">10</text>
<text x="619.4" y="234.8" font-size="12" text-anchor="middle" font-weight="bold" font-style="normal">10</text>
<text x="502.7" y="248" font-size="12" text-anchor="middle" font-weight="bold" font-style="normal">x</text>
<text transform="translate(361.4 113.8) rotate(-90)" font-size="12" text-anchor="middle" font-weight="bold">t</text>
<rect x="632.1" y="4.2" width="17.7" height="217.7" fill="url(#jet)"/>
<path class="cb" d="M649.4 4.2V221.9"/>
<text x="651.5" y="11.7" font-size="12" text-anchor="start" font-weight="bold" font-style="normal">2</text>
<text x="651.5" y="64.5" font-size="12" text-anchor="start" font-weight="bold" font-style="normal">1.995</text>
<text x="651.5" y="117.3" font-size="12" text-anchor="start" font-weight="bold" font-style="normal">1.99</text>
<text x="651.5" y="170.1" font-size="12" text-anchor="start" font-weight="bold" font-style="normal">1.985</text>
<text x="651.5" y="222.9" font-size="12" text-anchor="start" font-weight="bold" font-style="normal">1.98</text>
<path class="cb" d="M632.1 7.4h2.2M649.8 7.4h-2.2M632.1 60.2h2.2M649.8 60.2h-2.2M632.1 113h2.2M649.8 113h-2.2M632.1 165.8h2.2M649.8 165.8h-2.2M632.1 218.6h2.2M649.8 218.6h-2.2"/>
<text x="340.8" y="276.7" font-size="17" text-anchor="middle" font-weight="normal" font-style="italic" class="cap">(i)</text>
</g>
<g>
<path class="gr" d="M53 462.4L53 337.5M286.2 476.3L286.2 351.4M220.5 498L118.8 440.8M103.9 491L235.4 447.7M118.8 440.8L118.8 315.8M235.4 447.7L235.4 322.8M286.2 476.3L184.5 419.1M53 462.4L184.5 419.1M184.5 419.1L184.5 294.2M53 431.2L184.5 387.9M184.5 387.9L286.2 445.1M53 399.9L184.5 356.6M184.5 356.6L286.2 413.8M53 368.7L184.5 325.4M184.5 325.4L286.2 382.6M53 337.5L184.5 294.2M184.5 294.2L286.2 351.4"/>
<path fill="#9f0000" d="M53.5 368.4L53 368.5L53.1 368.6Z"/>
<path fill="#9f0000" d="M56.9 367.3L53 368.5L53.6 368.9Z"/>
<path fill="#9f0000" d="M60.3 366.1L53 368.5L54.1 369.1Z"/>
<path fill="#9f0000" d="M63.7 365L53 368.5L54.6 369.4Z"/>
<path fill="#9f0000" d="M67.1 363.9L53.5 368.4L53.1 368.6L55.1 369.7Z"/>
<path fill="#9f0000" d="M70.5 362.8L56.9 367.3L53.6 368.9L55.6 370Z"/>
<path fill="#9f0000" d="M73.8 361.6L60.3 366.1L54.1 369.1L56.1 370.3Z"/>
<path fill="#9f0000" d="M77.2 360.5L63.7 365L54.6 369.4L56.6 370.5Z"/>
<path fill="#9f0000" d="M80.6 359.4L67.1 363.9L55.1 369.7L57.1 370.8Z"/>
<path fill="#9f0000" d="M84 358.3L70.5 362.8L55.6 370L57.7 371.1Z"/>
<path fill="#9f0000" d="M87.4 357.1L73.8 361.6L56.1 370.3L58.2 371.4Z"/>
<path fill="#9f0000" d="M90.8 356L77.2 360.5L56.6 370.5L58.7 371.6Z"/>
<path fill="#9f0000" d="M94.2 354.9L80.6 359.4L57.1 370.8L59.2 371.9Z"/>
<path fill="#9f0000" d="M97.6 353.8L84 358.3L57.7 371.1L59.7 372.2Z"/>
<path fill="#9f0000" d="M101 352.6L87.4 357.1L58.2 371.4L60.2 372.5Z"/>
<path fill="#9f0000" d="M104.3 351.5L90.8 356L58.7 371.6L60.7 372.7Z"/>
<path fill="#9f0000" d="M107.7 350.4L94.2 354.9L59.2 371.9L61.2 373Z"/>
<path fill="#9f0000" d="M111.1 349.2L97.6 353.8L59.7 372.2L61.7 373.3Z"/>
<path fill="#9f0000" d="M114.5 348.1L101 352.6L60.2 372.5L62.2 373.6Z"/>
<path fill="#9f0000" d="M117.9 347L104.3 351.5L60.7 372.7L62.7 373.8Z"/>
<path fill="#9f0000" d="M121.3 345.8L107.7 350.4L61.2 373L63.2 374.1Z"/>
<path fill="#9f0000" d="M124.7 344.7L111.1 349.2L61.7 373.3L63.8 374.4Z"/>
<path fill="#9f0000" d="M128.1 343.6L114.5 348.1L62.2 373.6L64.3 374.6Z"/>
<path fill="#9f0000" d="M131.5 342.5L117.9 347L62.7 373.8L64.8 374.9Z"/>
<path fill="#9f0000" d="M134.8 341.3L121.3 345.8L63.2 374.1L65.3 375.2Z"/>
<path fill="#9f0000" d="M138.2 340.2L124.7 344.7L63.8 374.4L65.8 375.4Z"/>
<path fill="#9f0000" d="M141.6 339.1L128.1 343.6L64.3 374.6L66.3 375.7Z"/>
<path fill="#9f0000" d="M145 337.9L131.5 342.5L64.8 374.9L66.8 376Z"/>
<path fill="#9f0000" d="M148.4 336.8L134.8 341.3L65.3 375.2L67.3 376.2Z"/>
<path fill="#9f0000" d="M151.8 335.6L138.2 340.2L65.8 375.4L67.8 376.5Z"/>
<path fill="#9f0000" d="M155.2 334.5L141.6 339.1L66.3 375.7L68.3 376.8Z"/>
<path fill="#9f0000" d="M158.6 333.4L145 337.9L66.8 376L68.8 377Z"/>
<path fill="#9f0000" d="M162 332.2L148.4 336.8L67.3 376.2L69.3 377.3Z"/>
<path fill="#9f0000" d="M165.4 331.1L151.8 335.6L67.8 376.5L69.9 377.6Z"/>
<path fill="#9f0000" d="M168.7 329.9L155.2 334.5L68.3 376.8L70.4 377.8Z"/>
<path fill="#9f0000" d="M172.1 328.8L158.6 333.4L68.8 377L70.9 378.1Z"/>
<path fill="#9f0000" d="M175.5 327.7L162 332.2L69.3 377.3L71.4 378.3Z"/>
<path fill="#9f0000" d="M178.9 326.5L165.4 331.1L69.9 377.6L71.9 378.6Z"/>
<path fill="#9c0000" d="M182.3 325.4L168.7 329.9L70.4 377.8L72.4 378.9Z"/>
<path fill="#940000" d="M184.7 324.7L184.5 324.6L172.1 328.8L70.9 378.1L72.9 379.1Z"/>
<path fill="#8f0000" d="M185.2 325L184.5 324.6L175.5 327.7L71.4 378.3L73.4 379.4Z"/>
<path fill="#8f0000" d="M185.7 325.2L184.5 324.6L178.9 326.5L71.9 378.6L73.9 379.6Z"/>
<path fill="#8f0000" d="M186.2 325.5L184.5 324.6L182.3 325.4L72.4 378.9L74.4 379.9Z"/>
<path fill="#8f0000" d="M186.7 325.7L184.7 324.7L72.9 379.1L74.9 380.1Z"/>
<path fill="#8f0000" d="M187.2 326L185.2 325L73.4 379.4L75.5 380.4Z"/>
<path fill="#8f0000" d="M187.7 326.2L185.7 325.2L73.9 379.6L76 380.6Z"/>
<path fill="#8f0000" d="M188.2 326.5L186.2 325.5L74.4 379.9L76.5 380.9Z"/>
<path fill="#8f0000" d="M188.7 326.7L186.7 325.7L74.9 380.1L77 381.1Z"/>
<path fill="#8f0000" d="M189.3 327L187.2 326L75.5 380.4L77.5 381.4Z"/>
<path fill="#8f0000" d="M189.8 327.2L187.7 326.2L76 380.6L78 381.6Z"/>
<path fill="#8f0000" d="M190.3 327.5L188.2 326.5L76.5 380.9L78.5 381.8Z"/>
<path fill="#8f0000" d="M190.8 327.7L188.7 326.7L77 381.1L79 382.1Z"/>
<path fill="#8f0000" d="M191.3 327.9L189.3 327L77.5 381.4L79.5 382.3Z"/>
<path fill="#8f0000" d="M191.8 328.2L189.8 327.2L78 381.6L80 382.6Z"/>
<path fill="#8f0000" d="M192.3 328.4L190.3 327.5L78.5 381.8L80.5 382.8Z"/>
<path fill="#8f0000" d="M192.8 328.6L190.8 327.7L79 382.1L81 383Z"/>
<path fill="#8f0000" d="M193.3 328.9L191.3 327.9L79.5 382.3L81.6 383.3Z"/>
<path fill="#8f0000" d="M193.8 329.1L191.8 328.2L80 382.6L82.1 383.5Z"/>
<path fill="#8f0000" d="M194.3 329.4L192.3 328.4L80.5 382.8L82.6 383.7Z"/>
<path fill="#8f0000" d="M194.8 329.6L192.8 328.6L81 383L83.1 384Z"/>
<path fill="#8c0000" d="M195.4 329.8L193.3 328.9L81.6 383.3L83.6 384.2Z"/>
<path fill="#840000" d="M195.9 330L193.8 329.1L82.1 383.5L84.1 384.4Z"/>
<path fill="#800000" d="M196.4 330.3L194.3 329.4L82.6 383.7L84.6 384.7Z"/>
<path fill="#800000" d="M196.9 330.5L194.8 329.6L83.1 384L85.1 384.9Z"/>
<path fill="#800000" d="M197.4 330.7L195.4 329.8L83.6 384.2L85.6 385.1Z"/>
<path fill="#800000" d="M197.9 331L195.9 330L84.1 384.4L86.1 385.4Z"/>
<path fill="#800000" d="M198.2 331.1L196.4 330.3L84.6 384.7L86.4 385.5Z"/>
<path fill="#800000" d="M198.4 331.2L196.6 330.4L84.9 384.8L86.6 385.6Z"/>
<path fill="#800000" d="M198.7 331.3L196.9 330.5L85.1 384.9L86.9 385.7Z"/>
<path fill="#800000" d="M198.9 331.5L197.1 330.6L85.4 385L87.1 385.8Z"/>
<path fill="#800000" d="M199.2 331.6L197.4 330.7L85.6 385.1L87.4 386Z"/>
<path fill="#800000" d="M199.4 331.7L197.6 330.9L85.9 385.3L87.7 386.1Z"/>
<path fill="#800000" d="M199.7 331.8L197.9 331L86.1 385.4L87.9 386.2Z"/>
<path fill="#800000" d="M199.9 331.9L198.2 331.1L86.4 385.5L88.2 386.3Z"/>
<path fill="#800000" d="M200.2 332.1L198.4 331.2L86.6 385.6L88.4 386.5Z"/>
<path fill="#800000" d="M200.4 332.2L198.7 331.3L86.9 385.7L88.7 386.6Z"/>
<path fill="#800000" d="M200.7 332.3L198.9 331.5L87.1 385.8L88.9 386.7Z"/>
<path fill="#800000" d="M200.9 332.4L199.2 331.6L87.4 386L89.2 386.8Z"/>
<path fill="#800000" d="M201.2 332.6L199.4 331.7L87.7 386.1L89.4 387Z"/>
<path fill="#800000" d="M201.5 332.7L199.7 331.8L87.9 386.2L89.7 387.1Z"/>
<path fill="#800000" d="M201.7 332.8L199.9 331.9L88.2 386.3L89.9 387.2Z"/>
<path fill="#800000" d="M202 332.9L200.2 332.1L88.4 386.5L90.2 387.3Z"/>
<path fill="#800000" d="M202.2 333.1L200.4 332.2L88.7 386.6L90.5 387.5Z"/>
<path fill="#800000" d="M202.5 333.2L200.7 332.3L88.9 386.7L90.7 387.6Z"/>
<path fill="#800000" d="M202.7 333.4L200.9 332.4L89.2 386.8L91 387.8Z"/>
<path fill="#800000" d="M203 333.5L201.2 332.6L89.4 387L91.2 387.9Z"/>
<path fill="#800000" d="M203.2 333.6L201.5 332.7L89.7 387.1L91.5 388Z"/>
<path fill="#800000" d="M203.5 333.8L201.7 332.8L89.9 387.2L91.7 388.2Z"/>
<path fill="#800000" d="M203.7 333.9L202 332.9L90.2 387.3L92 388.3Z"/>
<path fill="#800000" d="M204 334.1L202.2 333.1L90.5 387.5L92.2 388.5Z"/>
<path fill="#800000" d="M204.3 334.3L202.5 333.2L90.7 387.6L92.5 388.7Z"/>
<path fill="#800000" d="M204.5 334.4L202.7 333.4L91 387.8L92.7 388.8Z"/>
<path fill="#800000" d="M204.8 334.6L203 333.5L91.2 387.9L93 389Z"/>
<path fill="#800000" d="M205 334.8L203.2 333.6L91.5 388L93.2 389.2Z"/>
<path fill="#800000" d="M205.3 334.9L203.5 333.8L91.7 388.2L93.5 389.3Z"/>
<path fill="#800000" d="M205.5 335.1L203.7 333.9L92 388.3L93.8 389.5Z"/>
<path fill="#800000" d="M205.8 335.3L204 334.1L92.2 388.5L94 389.7Z"/>
<path fill="#800000" d="M206 335.5L204.3 334.3L92.5 388.7L94.3 389.9Z"/>
<path fill="#800000" d="M206.3 335.7L204.5 334.4L92.7 388.8L94.5 390.1Z"/>
<path fill="#800000" d="M206.5 335.9L204.8 334.6L93 389L94.8 390.3Z"/>
<path fill="#800000" d="M206.8 336.1L205 334.8L93.2 389.2L95 390.5Z"/>
<path fill="#800000" d="M207.1 336.4L205.3 334.9L93.5 389.3L95.3 390.8Z"/>
<path fill="#800000" d="M207.3 336.6L205.5 335.1L93.8 389.5L95.5 391Z"/>
<path fill="#800000" d="M207.6 336.8L205.8 335.3L94 389.7L95.8 391.2Z"/>
<path fill="#800000" d="M207.8 337.1L206 335.5L94.3 389.9L96 391.5Z"/>
<path fill="#800000" d="M208.1 337.4L206.3 335.7L94.5 390.1L96.3 391.8Z"/>
<path fill="#800000" d="M208.3 337.6L206.5 335.9L94.8 390.3L96.6 392Z"/>
<path fill="#800000" d="M208.6 337.9L206.8 336.1L95 390.5L96.8 392.3Z"/>
<path fill="#800000" d="M208.8 338.2L207.1 336.4L95.3 390.8L97.1 392.6Z"/>
<path fill="#800000" d="M209.1 338.6L207.3 336.6L95.5 391L97.3 392.9Z"/>
<path fill="#800000" d="M209.3 338.9L207.6 336.8L95.8 391.2L97.6 393.3Z"/>
<path fill="#800000" d="M209.6 339.2L207.8 337.1L96 391.5L97.8 393.6Z"/>
<path fill="#800000" d="M209.8 339.6L208.1 337.4L96.3 391.8L98.1 394Z"/>
<path fill="#800000" d="M210.1 340L208.3 337.6L96.6 392L98.3 394.4Z"/>
<path fill="#810000" d="M210.4 340.4L208.6 337.9L96.8 392.3L98.6 394.8Z"/>
<path fill="#850000" d="M210.6 340.8L208.8 338.2L97.1 392.6L98.8 395.2Z"/>
<path fill="#890000" d="M210.9 341.3L209.1 338.6L97.3 392.9L99.1 395.6Z"/>
<path fill="#8d0000" d="M211.1 341.7L209.3 338.9L97.6 393.3L99.3 396.1Z"/>
<path fill="#910000" d="M211.4 342.2L209.6 339.2L97.8 393.6L99.6 396.6Z"/>
<path fill="#950000" d="M211.6 342.7L209.8 339.6L98.1 394L99.9 397.1Z"/>
<path fill="#990000" d="M211.9 343.3L210.1 340L98.3 394.4L100.1 397.7Z"/>
<path fill="#9d0000" d="M212.1 343.8L210.4 340.4L98.6 394.8L100.4 398.2Z"/>
<path fill="#a10000" d="M212.4 344.4L210.6 340.8L98.8 395.2L100.6 398.8Z"/>
<path fill="#a50000" d="M212.6 345.1L210.9 341.3L99.1 395.6L100.9 399.5Z"/>
<path fill="#a90000" d="M212.9 345.7L211.1 341.7L99.3 396.1L101.1 400.1Z"/>
<path fill="#ad0000" d="M213.2 346.4L211.4 342.2L99.6 396.6L101.4 400.8Z"/>
<path fill="#b30000" d="M213.4 347.1L211.6 342.7L99.9 397.1L101.6 401.5Z"/>
<path fill="#ba0000" d="M213.7 347.9L211.9 343.3L100.1 397.7L101.9 402.3Z"/>
<path fill="#c20000" d="M213.9 348.7L212.1 343.8L100.4 398.2L102.1 403.1Z"/>
<path fill="#ca0000" d="M214.2 349.5L212.4 344.4L100.6 398.8L102.4 403.9Z"/>
<path fill="#d20000" d="M214.4 350.4L212.6 345.1L100.9 399.5L102.7 404.8Z"/>
<path fill="#da0000" d="M214.7 351.3L212.9 345.7L101.1 400.1L102.9 405.7Z"/>
<path fill="#e00000" d="M214.8 351.8L213.2 346.4L101.4 400.8L103 406.2Z"/>
<path fill="#e40000" d="M214.9 352.3L213.3 346.8L101.5 401.2L103.2 406.7Z"/>
<path fill="#e80000" d="M215.1 352.8L213.4 347.1L101.6 401.5L103.3 407.2Z"/>
<path fill="#ec0000" d="M215.2 353.3L213.5 347.5L101.8 401.9L103.4 407.7Z"/>
<path fill="#f00100" d="M215.3 353.8L213.7 347.9L101.9 402.3L103.5 408.2Z"/>
<path fill="#f20500" d="M215.4 354.4L213.8 348.3L102 402.7L103.7 408.8Z"/>
<path fill="#f40900" d="M215.6 354.9L213.9 348.7L102.1 403.1L103.8 409.3Z"/>
<path fill="#f60d00" d="M215.7 355.5L214 349.1L102.3 403.5L103.9 409.9Z"/>
<path fill="#f81100" d="M215.8 356L214.2 349.5L102.4 403.9L104.1 410.4Z"/>
<path fill="#fa1500" d="M216 356.6L214.3 350L102.5 404.4L104.2 411Z"/>
<path fill="#fc1900" d="M216.1 357.2L214.4 350.4L102.7 404.8L104.3 411.6Z"/>
<path fill="#fe1d00" d="M216.2 357.8L214.6 350.9L102.8 405.3L104.4 412.2Z"/>
<path fill="#ff2200" d="M216.3 358.4L214.7 351.3L102.9 405.7L104.6 412.8Z"/>
<path fill="#ff2800" d="M216.5 359.1L214.8 351.8L103 406.2L104.7 413.5Z"/>
<path fill="#ff2e00" d="M216.6 359.7L214.9 352.3L103.2 406.7L104.8 414.1Z"/>
<path fill="#ff3400" d="M216.7 360.4L215.1 352.8L103.3 407.2L104.9 414.8Z"/>
<path fill="#ff3a00" d="M216.8 361L215.2 353.3L103.4 407.7L105.1 415.4Z"/>
<path fill="#ff4000" d="M217 361.7L215.3 353.8L103.5 408.2L105.2 416.1Z"/>
<path fill="#ff4600" d="M217.1 362.4L215.4 354.4L103.7 408.8L105.3 416.8Z"/>
<path fill="#ff4c00" d="M217.2 363.1L215.6 354.9L103.8 409.3L105.5 417.5Z"/>
<path fill="#ff5300" d="M217.3 363.8L215.7 355.5L103.9 409.9L105.6 418.2Z"/>
<path fill="#ff5d00" d="M217.5 364.5L215.8 356L104.1 410.4L105.7 418.9Z"/>
<path fill="#ff6700" d="M217.6 365.3L216 356.6L104.2 411L105.8 419.7Z"/>
<path fill="#ff7100" d="M217.7 366L216.1 357.2L104.3 411.6L106 420.4Z"/>
<path fill="#ff7b00" d="M217.9 366.8L216.2 357.8L104.4 412.2L106.1 421.2Z"/>
<path fill="#ff8400" d="M218 367.6L216.3 358.4L104.6 412.8L106.2 422Z"/>
<path fill="#ff8e00" d="M218.1 368.4L216.5 359.1L104.7 413.5L106.3 422.8Z"/>
<path fill="#ff9800" d="M218.2 369.2L216.6 359.7L104.8 414.1L106.5 423.6Z"/>
<path fill="#ffa200" d="M218.4 370L216.7 360.4L104.9 414.8L106.6 424.4Z"/>
<path fill="#ffac00" d="M218.5 370.8L216.8 361L105.1 415.4L106.7 425.2Z"/>
<path fill="#ffb600" d="M218.6 371.6L217 361.7L105.2 416.1L106.9 426Z"/>
<path fill="#ffc000" d="M218.7 372.5L217.1 362.4L105.3 416.8L107 426.9Z"/>
<path fill="#ffca00" d="M218.9 373.3L217.2 363.1L105.5 417.5L107.1 427.7Z"/>
<path fill="#ffd400" d="M219 374.2L217.3 363.8L105.6 418.2L107.2 428.6Z"/>
<path fill="#ffde00" d="M219.1 375L217.5 364.5L105.7 418.9L107.4 429.4Z"/>
<path fill="#ffe800" d="M219.3 375.9L217.6 365.3L105.8 419.7L107.5 430.3Z"/>
<path fill="#fdf002" d="M219.4 376.8L217.7 366L106 420.4L107.6 431.2Z"/>
<path fill="#f5f20a" d="M219.5 377.7L217.9 366.8L106.1 421.2L107.7 432.1Z"/>
<path fill="#edf412" d="M219.6 378.6L218 367.6L106.2 422L107.9 433Z"/>
<path fill="#e5f61a" d="M219.8 379.5L218.1 368.4L106.3 422.8L108 433.9Z"/>
<path fill="#ddf822" d="M219.9 380.4L218.2 369.2L106.5 423.6L108.1 434.8Z"/>
<path fill="#d5fa2a" d="M220 381.3L218.4 370L106.6 424.4L108.2 435.7Z"/>
<path fill="#cdfc32" d="M220.1 382.2L218.5 370.8L106.7 425.2L108.4 436.6Z"/>
<path fill="#c5fe3a" d="M220.3 383.2L218.6 371.6L106.9 426L108.5 437.6Z"/>
<path fill="#bbff44" d="M220.4 384.1L218.7 372.5L107 426.9L108.6 438.5Z"/>
<path fill="#adff52" d="M220.5 385L218.9 373.3L107.1 427.7L108.8 439.4Z"/>
<path fill="#9fff60" d="M220.7 385.9L219 374.2L107.2 428.6L108.9 440.3Z"/>
<path fill="#91ff6e" d="M220.8 386.9L219.1 375L107.4 429.4L109 441.3Z"/>
<path fill="#83ff7c" d="M220.9 387.8L219.3 375.9L107.5 430.3L109.1 442.2Z"/>
<path fill="#75ff8a" d="M221 388.7L219.4 376.8L107.6 431.2L109.3 443.1Z"/>
<path fill="#67ff98" d="M221.2 389.6L219.5 377.7L107.7 432.1L109.4 444Z"/>
<path fill="#59ffa6" d="M221.3 390.6L219.6 378.6L107.9 433L109.5 445Z"/>
<path fill="#4dfeb2" d="M221.4 391.5L219.8 379.5L108 433.9L109.6 445.9Z"/>
<path fill="#43fcbc" d="M221.5 392.4L219.9 380.4L108.1 434.8L109.8 446.8Z"/>
<path fill="#39fac6" d="M221.7 393.3L220 381.3L108.2 435.7L109.9 447.7Z"/>
<path fill="#2ff8d0" d="M221.8 394.2L220.1 382.2L108.4 436.6L110 448.6Z"/>
<path fill="#25f6da" d="M221.9 395.1L220.3 383.2L108.5 437.6L110.2 449.5Z"/>
<path fill="#1bf4e4" d="M222.1 395.9L220.4 384.1L108.6 438.5L110.3 450.3Z"/>
<path fill="#11f2ee" d="M222.2 396.8L220.5 385L108.8 439.4L110.4 451.2Z"/>
<path fill="#07f0f8" d="M222.3 397.6L220.7 385.9L108.9 440.3L110.5 452Z"/>
<path fill="#00ebff" d="M222.4 398.5L220.8 386.9L109 441.3L110.7 452.9Z"/>
<path fill="#00ddff" d="M222.6 399.3L220.9 387.8L109.1 442.2L110.8 453.7Z"/>
<path fill="#00cfff" d="M222.7 400.1L221 388.7L109.3 443.1L110.9 454.5Z"/>
<path fill="#00c1ff" d="M222.8 400.9L221.2 389.6L109.4 444L111 455.3Z"/>
<path fill="#00b3ff" d="M222.9 401.7L221.3 390.6L109.5 445L111.2 456.1Z"/>
<path fill="#00a5ff" d="M223.1 402.4L221.4 391.5L109.6 445.9L111.3 456.8Z"/>
<path fill="#0097ff" d="M223.2 403.2L221.5 392.4L109.8 446.8L111.4 457.6Z"/>
<path fill="#0089ff" d="M223.3 403.9L221.7 393.3L109.9 447.7L111.6 458.3Z"/>
<path fill="#007cff" d="M223.5 404.6L221.8 394.2L110 448.6L111.7 458.9Z"/>
<path fill="#0070ff" d="M223.6 405.2L221.9 395.1L110.2 449.5L111.8 459.6Z"/>
<path fill="#0064ff" d="M223.7 405.9L222.1 395.9L110.3 450.3L111.9 460.3Z"/>
<path fill="#0058ff" d="M223.8 406.5L222.2 396.8L110.4 451.2L112.1 460.9Z"/>
<path fill="#004cff" d="M224 407.1L222.3 397.6L110.5 452L112.2 461.4Z"/>
<path fill="#0040ff" d="M224.1 407.6L222.4 398.5L110.7 452.9L112.3 462Z"/>
<path fill="#0034ff" d="M224.2 408.1L222.6 399.3L110.8 453.7L112.4 462.5Z"/>
<path fill="#0028ff" d="M224.3 408.6L222.7 400.1L110.9 454.5L112.6 463Z"/>
<path fill="#001ffd" d="M224.5 409.1L222.8 400.9L111 455.3L112.7 463.5Z"/>
<path fill="#001bf7" d="M224.6 409.5L222.9 401.7L111.2 456.1L112.8 463.9Z"/>
<path fill="#0017f1" d="M224.7 409.9L223.1 402.4L111.3 456.8L113 464.3Z"/>
<path fill="#0013eb" d="M224.8 410.3L223.2 403.2L111.4 457.6L113.1 464.7Z"/>
<path fill="#000fe5" d="M225 410.7L223.3 403.9L111.6 458.3L113.2 465.1Z"/>
<path fill="#000bdf" d="M225.1 411L223.5 404.6L111.7 458.9L113.3 465.4Z"/>
<path fill="#0007d9" d="M225.2 411.2L223.6 405.2L111.8 459.6L113.5 465.6Z"/>
<path fill="#0003d3" d="M225.4 411.5L223.7 405.9L111.9 460.3L113.6 465.9Z"/>
<path fill="#0000cd" d="M225.5 411.7L223.8 406.5L112.1 460.9L113.7 466.1Z"/>
<path fill="#0000c7" d="M225.6 411.8L224 407.1L112.2 461.4L113.8 466.2Z"/>
<path fill="#0000c1" d="M225.7 412L224.1 407.6L112.3 462L114 466.4Z"/>
<path fill="#0000bb" d="M225.9 412.1L224.2 408.1L112.4 462.5L114.1 466.5Z"/>
<path fill="#0000b5" d="M226 412.1L224.3 408.6L112.6 463L114.2 466.5Z"/>
<path fill="#0000b0" d="M226.1 412.2L224.5 409.1L112.7 463.5L114.4 466.6Z"/>
<path fill="#0000aa" d="M226.2 412.1L224.6 409.5L112.8 463.9L114.5 466.5Z"/>
<path fill="#0000a4" d="M226.4 412.1L224.7 409.9L113 464.3L114.6 466.5Z"/>
<path fill="#00009f" d="M226.5 412L224.8 410.3L113.1 464.7L114.7 466.4Z"/>
<path fill="#00009d" d="M226.6 411.9L225 410.7L113.2 465.1L114.9 466.3Z"/>
<path fill="#00009b" d="M226.8 411.8L225.1 411L113.3 465.4L115 466.2Z"/>
<path fill="#000099" d="M226.9 411.6L225.2 411.2L113.5 465.6L115.1 466Z"/>
<path fill="#000097" d="M227 411.4L225.4 411.5L113.6 465.9L115.2 465.8Z"/>
<path fill="#000095" d="M227.1 411.1L225.5 411.7L113.7 466.1L115.4 465.5Z"/>
<path fill="#000093" d="M227.3 410.8L225.6 411.8L113.8 466.2L115.5 465.2Z"/>
<path fill="#000091" d="M227.4 410.5L225.7 412L114 466.4L115.6 464.9Z"/>
<path fill="#000090" d="M227.5 410.2L225.9 412.1L114.1 466.5L115.7 464.6Z"/>
<path fill="#000092" d="M227.6 409.8L226 412.1L114.2 466.5L115.9 464.2Z"/>
<path fill="#000094" d="M227.8 409.4L226.1 412.2L114.4 466.6L116 463.8Z"/>
<path fill="#000096" d="M227.9 409L226.2 412.1L114.5 466.5L116.1 463.4Z"/>
<path fill="#000098" d="M228 408.5L226.4 412.1L114.6 466.5L116.3 462.9Z"/>
<path fill="#00009a" d="M228.2 408L226.5 412L114.7 466.4L116.4 462.4Z"/>
<path fill="#00009c" d="M228.3 407.5L226.6 411.9L114.9 466.3L116.5 461.9Z"/>
<path fill="#00009e" d="M228.4 407L226.8 411.8L115 466.2L116.6 461.4Z"/>
<path fill="#0000a1" d="M228.5 406.4L226.9 411.6L115.1 466L116.8 460.8Z"/>
<path fill="#0000a7" d="M228.7 405.8L227 411.4L115.2 465.8L116.9 460.2Z"/>
<path fill="#0000ad" d="M228.8 405.2L227.1 411.1L115.4 465.5L117 459.6Z"/>
<path fill="#0000b3" d="M228.9 404.6L227.3 410.8L115.5 465.2L117.1 459Z"/>
<path fill="#0000b9" d="M229 404L227.4 410.5L115.6 464.9L117.3 458.4Z"/>
<path fill="#0000bf" d="M229.2 403.3L227.5 410.2L115.7 464.6L117.4 457.7Z"/>
<path fill="#0000c5" d="M229.3 402.6L227.6 409.8L115.9 464.2L117.5 457Z"/>
<path fill="#0000cb" d="M229.4 402L227.8 409.4L116 463.8L117.7 456.4Z"/>
<path fill="#0001d1" d="M229.6 401.3L227.9 409L116.1 463.4L117.8 455.7Z"/>
<path fill="#0005d7" d="M229.7 400.5L228 408.5L116.3 462.9L117.9 454.9Z"/>
<path fill="#0009dd" d="M229.8 399.8L228.2 408L116.4 462.4L118 454.2Z"/>
<path fill="#000de3" d="M229.9 399.1L228.3 407.5L116.5 461.9L118.2 453.5Z"/>
<path fill="#0011e9" d="M230.1 398.3L228.4 407L116.6 461.4L118.3 452.7Z"/>
<path fill="#0015ef" d="M230.2 397.6L228.5 406.4L116.8 460.8L118.4 452Z"/>
<path fill="#0019f5" d="M230.3 396.8L228.7 405.8L116.9 460.2L118.5 451.2Z"/>
<path fill="#001dfb" d="M230.4 396L228.8 405.2L117 459.6L118.7 450.4Z"/>
<path fill="#0023ff" d="M230.6 395.3L228.9 404.6L117.1 459L118.8 449.7Z"/>
<path fill="#002fff" d="M230.7 394.5L229 404L117.3 458.4L118.9 448.9Z"/>
<path fill="#003bff" d="M230.8 393.7L229.2 403.3L117.4 457.7L119.1 448.1Z"/>
<path fill="#0047ff" d="M231 392.9L229.3 402.6L117.5 457L119.2 447.3Z"/>
<path fill="#0053ff" d="M231.1 392.1L229.4 402L117.7 456.4L119.3 446.5Z"/>
<path fill="#005fff" d="M231.2 391.4L229.6 401.3L117.8 455.7L119.4 445.8Z"/>
<path fill="#006bff" d="M231.3 390.6L229.7 400.5L117.9 454.9L119.6 445Z"/>
<path fill="#0077ff" d="M231.5 389.8L229.8 399.8L118 454.2L119.7 444.2Z"/>
<path fill="#0084ff" d="M231.6 389L229.9 399.1L118.2 453.5L119.8 443.4Z"/>
<path fill="#0092ff" d="M231.7 388.2L230.1 398.3L118.3 452.7L119.9 442.6Z"/>
<path fill="#00a0ff" d="M231.8 387.5L230.2 397.6L118.4 452L120.1 441.9Z"/>
<path fill="#00aeff" d="M232 386.7L230.3 396.8L118.5 451.2L120.2 441.1Z"/>
<path fill="#00bbff" d="M232.1 385.9L230.4 396L118.7 450.4L120.3 440.3Z"/>
<path fill="#00c9ff" d="M232.2 385.2L230.6 395.3L118.8 449.7L120.5 439.6Z"/>
<path fill="#00d7ff" d="M232.3 384.4L230.7 394.5L118.9 448.9L120.6 438.8Z"/>
<path fill="#00e5ff" d="M232.5 383.7L230.8 393.7L119.1 448.1L120.7 438.1Z"/>
<path fill="#03f0fc" d="M232.6 382.9L231 392.9L119.2 447.3L120.8 437.3Z"/>
<path fill="#0df2f2" d="M232.7 382.2L231.1 392.1L119.3 446.5L121 436.6Z"/>
<path fill="#17f4e8" d="M232.9 381.5L231.2 391.4L119.4 445.8L121.1 435.9Z"/>
<path fill="#21f6de" d="M233 380.8L231.3 390.6L119.6 445L121.2 435.2Z"/>
<path fill="#2bf8d4" d="M233.1 380.1L231.5 389.8L119.7 444.2L121.3 434.5Z"/>
<path fill="#35faca" d="M233.2 379.4L231.6 389L119.8 443.4L121.5 433.8Z"/>
<path fill="#3ffcc0" d="M233.4 378.7L231.7 388.2L119.9 442.6L121.6 433.1Z"/>
<path fill="#49feb6" d="M233.5 378L231.8 387.5L120.1 441.9L121.7 432.4Z"/>
<path fill="#54ffab" d="M233.6 377.4L232 386.7L120.2 441.1L121.9 431.8Z"/>
<path fill="#62ff9d" d="M233.7 376.7L232.1 385.9L120.3 440.3L122 431.1Z"/>
<path fill="#70ff8f" d="M233.9 376.1L232.2 385.2L120.5 439.6L122.1 430.5Z"/>
<path fill="#7eff81" d="M234 375.5L232.3 384.4L120.6 438.8L122.2 429.9Z"/>
<path fill="#8cff73" d="M234.1 374.8L232.5 383.7L120.7 438.1L122.4 429.2Z"/>
<path fill="#9aff65" d="M234.3 374.2L232.6 382.9L120.8 437.3L122.5 428.6Z"/>
<path fill="#a8ff57" d="M234.4 373.7L232.7 382.2L121 436.6L122.6 428.1Z"/>
<path fill="#b5ff4a" d="M234.5 373.1L232.9 381.5L121.1 435.9L122.7 427.5Z"/>
<path fill="#c2fe3d" d="M234.6 372.5L233 380.8L121.2 435.2L122.9 426.9Z"/>
<path fill="#cafc35" d="M234.8 372L233.1 380.1L121.3 434.5L123 426.4Z"/>
<path fill="#d2fa2d" d="M234.9 371.4L233.2 379.4L121.5 433.8L123.1 425.8Z"/>
<path fill="#daf825" d="M235 370.9L233.4 378.7L121.6 433.1L123.2 425.3Z"/>
<path fill="#e2f61d" d="M235.1 370.4L233.5 378L121.7 432.4L123.4 424.8Z"/>
<path fill="#e9f416" d="M235.3 369.9L233.6 377.4L121.9 431.8L123.5 424.3Z"/>
<path fill="#f1f20e" d="M235.4 369.4L233.7 376.7L122 431.1L123.6 423.8Z"/>
<path fill="#f9f006" d="M235.5 368.9L233.9 376.1L122.1 430.5L123.8 423.3Z"/>
<path fill="#ffec00" d="M235.7 368.4L234 375.5L122.2 429.9L123.9 422.8Z"/>
<path fill="#ffe200" d="M235.8 368L234.1 374.8L122.4 429.2L124 422.4Z"/>
<path fill="#ffd800" d="M235.9 367.5L234.3 374.2L122.5 428.6L124.1 421.9Z"/>
<path fill="#ffce00" d="M236 367.1L234.4 373.7L122.6 428.1L124.3 421.5Z"/>
<path fill="#ffc400" d="M236.2 366.7L234.5 373.1L122.7 427.5L124.4 421.1Z"/>
<path fill="#ffba00" d="M236.3 366.3L234.6 372.5L122.9 426.9L124.5 420.7Z"/>
<path fill="#ffb000" d="M236.4 365.9L234.8 372L123 426.4L124.6 420.3Z"/>
<path fill="#ffa600" d="M236.5 365.5L234.9 371.4L123.1 425.8L124.8 419.9Z"/>
<path fill="#ff9c00" d="M236.7 365.1L235 370.9L123.2 425.3L124.9 419.5Z"/>
<path fill="#ff9200" d="M236.8 364.8L235.1 370.4L123.4 424.8L125 419.2Z"/>
<path fill="#ff8800" d="M236.9 364.4L235.3 369.9L123.5 424.3L125.2 418.8Z"/>
<path fill="#ff7a00" d="M237.2 363.8L235.4 369.4L123.6 423.8L125.4 418.2Z"/>
<path fill="#ff6600" d="M237.4 363.1L235.7 368.4L123.9 422.8L125.7 417.5Z"/>
<path fill="#ff5200" d="M237.7 362.6L235.9 367.5L124.1 421.9L125.9 416.9Z"/>
<path fill="#ff4500" d="M237.9 362L236.2 366.7L124.4 421.1L126.2 416.4Z"/>
<path fill="#ff3900" d="M238.2 361.5L236.4 365.9L124.6 420.3L126.4 415.9Z"/>
<path fill="#ff2d00" d="M238.5 361L236.7 365.1L124.9 419.5L126.7 415.4Z"/>
<path fill="#ff2100" d="M238.7 360.6L236.9 364.4L125.2 418.8L126.9 415Z"/>
<path fill="#fb1900" d="M239 360.2L237.2 363.8L125.4 418.2L127.2 414.6Z"/>
<path fill="#f71100" d="M239.2 359.9L237.4 363.1L125.7 417.5L127.4 414.2Z"/>
<path fill="#f30900" d="M239.5 359.5L237.7 362.6L125.9 416.9L127.7 413.9Z"/>
<path fill="#ef0100" d="M239.7 359.2L237.9 362L126.2 416.4L128 413.6Z"/>
<path fill="#e80000" d="M240 358.9L238.2 361.5L126.4 415.9L128.2 413.3Z"/>
<path fill="#e00000" d="M240.2 358.7L238.5 361L126.7 415.4L128.5 413.1Z"/>
<path fill="#d80000" d="M240.5 358.5L238.7 360.6L126.9 415L128.7 412.9Z"/>
<path fill="#d00000" d="M240.7 358.3L239 360.2L127.2 414.6L129 412.7Z"/>
<path fill="#c80000" d="M241 358.1L239.2 359.9L127.4 414.2L129.2 412.5Z"/>
<path fill="#c00000" d="M241.2 358L239.5 359.5L127.7 413.9L129.5 412.3Z"/>
<path fill="#b80000" d="M241.5 357.8L239.7 359.2L128 413.6L129.7 412.2Z"/>
<path fill="#b00000" d="M241.8 357.7L240 358.9L128.2 413.3L130 412.1Z"/>
<path fill="#ac0000" d="M242 357.6L240.2 358.7L128.5 413.1L130.2 412Z"/>
<path fill="#a80000" d="M242.3 357.5L240.5 358.5L128.7 412.9L130.5 411.9Z"/>
<path fill="#a40000" d="M242.5 357.5L240.7 358.3L129 412.7L130.7 411.9Z"/>
<path fill="#a00000" d="M242.8 357.4L241 358.1L129.2 412.5L131 411.8Z"/>
<path fill="#9c0000" d="M243 357.4L241.2 358L129.5 412.3L131.3 411.8Z"/>
<path fill="#980000" d="M243.3 357.4L241.5 357.8L129.7 412.2L131.5 411.8Z"/>
<path fill="#940000" d="M243.5 357.4L241.8 357.7L130 412.1L131.8 411.8Z"/>
<path fill="#900000" d="M243.8 357.4L242 357.6L130.2 412L132 411.8Z"/>
<path fill="#8c0000" d="M244 357.4L242.3 357.5L130.5 411.9L132.3 411.8Z"/>
<path fill="#880000" d="M244.3 357.5L242.5 357.5L130.7 411.9L132.5 411.9Z"/>
<path fill="#840000" d="M244.6 357.5L242.8 357.4L131 411.8L132.8 411.9Z"/>
<path fill="#800000" d="M244.8 357.6L243 357.4L131.3 411.8L133 412Z"/>
<path fill="#800000" d="M245.1 357.6L243.3 357.4L131.5 411.8L133.3 412Z"/>
<path fill="#800000" d="M245.3 357.7L243.5 357.4L131.8 411.8L133.5 412.1Z"/>
<path fill="#800000" d="M245.6 357.8L243.8 357.4L132 411.8L133.8 412.2Z"/>
<path fill="#800000" d="M245.8 357.9L244 357.4L132.3 411.8L134.1 412.3Z"/>
<path fill="#800000" d="M246.1 358L244.3 357.5L132.5 411.9L134.3 412.4Z"/>
<path fill="#800000" d="M246.3 358.1L244.6 357.5L132.8 411.9L134.6 412.5Z"/>
<path fill="#800000" d="M246.6 358.2L244.8 357.6L133 412L134.8 412.6Z"/>
<path fill="#800000" d="M246.8 358.3L245.1 357.6L133.3 412L135.1 412.7Z"/>
<path fill="#800000" d="M247.1 358.4L245.3 357.7L133.5 412.1L135.3 412.8Z"/>
<path fill="#800000" d="M247.4 358.5L245.6 357.8L133.8 412.2L135.6 412.9Z"/>
<path fill="#800000" d="M247.6 358.6L245.8 357.9L134.1 412.3L135.8 413Z"/>
<path fill="#800000" d="M247.9 358.8L246.1 358L134.3 412.4L136.1 413.2Z"/>
<path fill="#800000" d="M248.1 358.9L246.3 358.1L134.6 412.5L136.3 413.3Z"/>
<path fill="#800000" d="M248.4 359L246.6 358.2L134.8 412.6L136.6 413.4Z"/>
<path fill="#800000" d="M248.6 359.2L246.8 358.3L135.1 412.7L136.9 413.6Z"/>
<path fill="#800000" d="M248.9 359.3L247.1 358.4L135.3 412.8L137.1 413.7Z"/>
<path fill="#800000" d="M249.1 359.5L247.4 358.5L135.6 412.9L137.4 413.9Z"/>
<path fill="#800000" d="M249.4 359.6L247.6 358.6L135.8 413L137.6 414Z"/>
<path fill="#800000" d="M249.6 359.8L247.9 358.8L136.1 413.2L137.9 414.2Z"/>
<path fill="#800000" d="M249.9 359.9L248.1 358.9L136.3 413.3L138.1 414.3Z"/>
<path fill="#800000" d="M250.1 360.1L248.4 359L136.6 413.4L138.4 414.5Z"/>
<path fill="#800000" d="M250.4 360.2L248.6 359.2L136.9 413.6L138.6 414.6Z"/>
<path fill="#800000" d="M250.7 360.4L248.9 359.3L137.1 413.7L138.9 414.8Z"/>
<path fill="#800000" d="M250.9 360.5L249.1 359.5L137.4 413.9L139.1 414.9Z"/>
<path fill="#800000" d="M251.2 360.7L249.4 359.6L137.6 414L139.4 415.1Z"/>
<path fill="#800000" d="M251.4 360.9L249.6 359.8L137.9 414.2L139.6 415.3Z"/>
<path fill="#800000" d="M251.7 361L249.9 359.9L138.1 414.3L139.9 415.4Z"/>
<path fill="#800000" d="M251.9 361.2L250.1 360.1L138.4 414.5L140.2 415.6Z"/>
<path fill="#800000" d="M252.2 361.3L250.4 360.2L138.6 414.6L140.4 415.7Z"/>
<path fill="#800000" d="M252.4 361.5L250.7 360.4L138.9 414.8L140.7 415.9Z"/>
<path fill="#800000" d="M252.7 361.7L250.9 360.5L139.1 414.9L140.9 416.1Z"/>
<path fill="#800000" d="M252.9 361.8L251.2 360.7L139.4 415.1L141.2 416.2Z"/>
<path fill="#800000" d="M253.2 362L251.4 360.9L139.6 415.3L141.4 416.4Z"/>
<path fill="#800000" d="M253.5 362.2L251.7 361L139.9 415.4L141.7 416.6Z"/>
<path fill="#800000" d="M253.7 362.4L251.9 361.2L140.2 415.6L141.9 416.7Z"/>
<path fill="#800000" d="M254.2 362.7L252.2 361.3L140.4 415.7L142.4 417.1Z"/>
<path fill="#800000" d="M254.7 363L252.7 361.7L140.9 416.1L143 417.4Z"/>
<path fill="#800000" d="M255.2 363.4L253.2 362L141.4 416.4L143.5 417.8Z"/>
<path fill="#800000" d="M255.7 363.7L253.7 362.4L141.9 416.7L144 418.1Z"/>
<path fill="#800000" d="M256.2 364L254.2 362.7L142.4 417.1L144.5 418.4Z"/>
<path fill="#800000" d="M256.8 364.4L254.7 363L143 417.4L145 418.8Z"/>
<path fill="#800000" d="M257.3 364.7L255.2 363.4L143.5 417.8L145.5 419.1Z"/>
<path fill="#800000" d="M257.8 365.1L255.7 363.7L144 418.1L146 419.5Z"/>
<path fill="#800000" d="M258.3 365.4L256.2 364L144.5 418.4L146.5 419.8Z"/>
<path fill="#800000" d="M258.8 365.7L256.8 364.4L145 418.8L147 420.1Z"/>
<path fill="#810000" d="M259.3 366.1L257.3 364.7L145.5 419.1L147.5 420.5Z"/>
<path fill="#890000" d="M259.8 366.4L257.8 365.1L146 419.5L148 420.8Z"/>
<path fill="#8f0000" d="M260.3 366.7L258.3 365.4L146.5 419.8L148.5 421.1Z"/>
<path fill="#8f0000" d="M260.8 367.1L258.8 365.7L147 420.1L149.1 421.5Z"/>
<path fill="#8f0000" d="M261.3 367.4L259.3 366.1L147.5 420.5L149.6 421.8Z"/>
<path fill="#8f0000" d="M261.8 367.7L259.8 366.4L148 420.8L150.1 422.1Z"/>
<path fill="#8f0000" d="M262.4 368.1L260.3 366.7L148.5 421.1L150.6 422.5Z"/>
<path fill="#8f0000" d="M262.9 368.4L260.8 367.1L149.1 421.5L151.1 422.8Z"/>
<path fill="#8f0000" d="M263.4 368.7L261.3 367.4L149.6 421.8L151.6 423.1Z"/>
<path fill="#8f0000" d="M263.9 369L261.8 367.7L150.1 422.1L152.1 423.4Z"/>
<path fill="#8f0000" d="M264.4 369.4L262.4 368.1L150.6 422.5L152.6 423.8Z"/>
<path fill="#8f0000" d="M264.9 369.7L262.9 368.4L151.1 422.8L153.1 424.1Z"/>
<path fill="#8f0000" d="M265.4 370L263.4 368.7L151.6 423.1L153.6 424.4Z"/>
<path fill="#8f0000" d="M265.9 370.3L263.9 369L152.1 423.4L154.1 424.7Z"/>
<path fill="#8f0000" d="M266.4 370.6L264.4 369.4L152.6 423.8L154.6 425Z"/>
<path fill="#8f0000" d="M154.7 425.1L157.8 424.1L266.9 371L264.9 369.7L153.1 424.1Z"/>
<path fill="#8f0000" d="M154.7 425.1L161.1 423L267.4 371.3L265.4 370L153.6 424.4Z"/>
<path fill="#8f0000" d="M154.7 425.1L164.5 421.9L267.9 371.6L265.9 370.3L154.1 424.7Z"/>
<path fill="#8f0000" d="M154.7 425.1L167.9 420.8L268.5 371.9L266.4 370.6L154.6 425Z"/>
<path fill="#8f0000" d="M157.8 424.1L171.3 419.8L269 372.2L266.9 371Z"/>
<path fill="#8f0000" d="M161.1 423L174.7 418.7L269.5 372.5L267.4 371.3Z"/>
<path fill="#8f0000" d="M164.5 421.9L178.1 417.6L270 372.8L267.9 371.6Z"/>
<path fill="#910000" d="M167.9 420.8L181.5 416.5L270.5 373.2L268.5 371.9Z"/>
<path fill="#990000" d="M171.3 419.8L184.9 415.4L271 373.5L269 372.2Z"/>
<path fill="#9f0000" d="M174.7 418.7L188.3 414.3L271.5 373.8L269.5 372.5Z"/>
<path fill="#9f0000" d="M178.1 417.6L191.6 413.2L272 374.1L270 372.8Z"/>
<path fill="#9f0000" d="M181.5 416.5L195 412.1L272.5 374.4L270.5 373.2Z"/>
<path fill="#9f0000" d="M184.9 415.4L198.4 411L273 374.7L271 373.5Z"/>
<path fill="#9f0000" d="M188.3 414.3L201.8 409.9L273.5 375L271.5 373.8Z"/>
<path fill="#9f0000" d="M191.6 413.2L205.2 408.8L274 375.3L272 374.1Z"/>
<path fill="#9f0000" d="M195 412.1L208.6 407.7L274.6 375.6L272.5 374.4Z"/>
<path fill="#9f0000" d="M198.4 411L212 406.6L275.1 375.9L273 374.7Z"/>
<path fill="#9f0000" d="M201.8 409.9L215.4 405.5L275.6 376.2L273.5 375Z"/>
<path fill="#9f0000" d="M205.2 408.8L218.8 404.4L276.1 376.5L274 375.3Z"/>
<path fill="#9f0000" d="M208.6 407.7L222.1 403.3L276.6 376.8L274.6 375.6Z"/>
<path fill="#9f0000" d="M212 406.6L225.5 402.2L277.1 377.1L275.1 375.9Z"/>
<path fill="#9f0000" d="M215.4 405.5L228.9 401.1L277.6 377.4L275.6 376.2Z"/>
<path fill="#9f0000" d="M218.8 404.4L232.3 400L278.1 377.7L276.1 376.5Z"/>
<path fill="#9f0000" d="M222.1 403.3L235.7 398.9L278.6 378L276.6 376.8Z"/>
<path fill="#9f0000" d="M225.5 402.2L239.1 397.8L279.1 378.3L277.1 377.1Z"/>
<path fill="#9f0000" d="M228.9 401.1L242.5 396.7L279.6 378.6L277.6 377.4Z"/>
<path fill="#9f0000" d="M232.3 400L245.9 395.6L280.1 378.9L278.1 377.7Z"/>
<path fill="#9f0000" d="M235.7 398.9L249.3 394.5L280.7 379.2L278.6 378Z"/>
<path fill="#9f0000" d="M239.1 397.8L252.6 393.4L281.2 379.5L279.1 378.3Z"/>
<path fill="#9f0000" d="M242.5 396.7L256 392.3L281.7 379.8L279.6 378.6Z"/>
<path fill="#9f0000" d="M245.9 395.6L259.4 391.2L282.2 380.1L280.1 378.9Z"/>
<path fill="#9f0000" d="M249.3 394.5L262.8 390.1L282.7 380.4L280.7 379.2Z"/>
<path fill="#9f0000" d="M252.6 393.4L266.2 389L283.2 380.7L281.2 379.5Z"/>
<path fill="#9f0000" d="M256 392.3L269.6 387.9L283.7 381L281.7 379.8Z"/>
<path fill="#9f0000" d="M259.4 391.2L273 386.8L284.2 381.3L282.2 380.1Z"/>
<path fill="#9f0000" d="M262.8 390.1L276.4 385.6L284.7 381.6L282.7 380.4Z"/>
<path fill="#9f0000" d="M266.2 389L279.8 384.5L285.2 381.9L283.2 380.7Z"/>
<path fill="#9f0000" d="M269.6 387.9L283.1 383.4L285.7 382.2L283.7 381Z"/>
<path fill="#9f0000" d="M273 386.8L286.2 382.4L284.2 381.3Z"/>
<path class="ax" d="M53 462.4L154.7 519.6"/>
<path class="ax" d="M154.7 519.6L286.2 476.3"/>
<path class="ax" d="M154.7 519.6L151.5 520.6M154.7 519.6L157.5 521.2M103.9 491L100.7 492.1M220.5 498L223.3 499.6M53 462.4L49.8 463.5M286.2 476.3L289 477.9M53 462.4L50 460.8M53 431.2L50 429.6M53 399.9L50 398.3M53 368.7L50 367.1M53 337.5L50 335.9"/>
<text x="47.3" y="464.2" font-size="12" text-anchor="end" font-weight="bold" font-style="normal">1.97</text>
<text x="47.3" y="433" font-size="12" text-anchor="end" font-weight="bold" font-style="normal">1.98</text>
<text x="47.3" y="401.7" font-size="12" text-anchor="end" font-weight="bold" font-style="normal">1.99</text>
<text x="47.3" y="370.5" font-size="12" text-anchor="end" font-weight="bold" font-style="normal">2</text>
<text x="47.3" y="339.3" font-size="12" text-anchor="end" font-weight="bold" font-style="normal">2.01</text>
<text x="41" y="476.7" font-size="12" text-anchor="middle" font-weight="bold" font-style="normal">10</text>
<text x="94.9" y="505.7" font-size="12" text-anchor="middle" font-weight="bold" font-style="normal">0</text>
<text x="148.4" y="533.6" font-size="12" text-anchor="end" font-weight="bold" font-style="normal">-10</text>
<text x="159.5" y="535.1" font-size="12" text-anchor="start" font-weight="bold" font-style="normal">-10</text>
<text x="228.7" y="513" font-size="12" text-anchor="middle" font-weight="bold" font-style="normal">0</text>
<text x="292" y="491.1" font-size="12" text-anchor="start" font-weight="bold" font-style="normal">10</text>
<text x="96.9" y="534.6" font-size="12" text-anchor="middle" font-weight="bold" font-style="normal">t</text>
<text x="219.3" y="538.1" font-size="12" text-anchor="middle" font-weight="bold" font-style="normal">x</text>
<text transform="translate(13.7 399.9) rotate(-90)" font-size="12" text-anchor="middle" font-weight="bold">Re(N<tspan font-size="10" dy="4.6">9</tspan><tspan dy="-4.6">(x,t))</tspan></text>
<rect x="300.4" y="293" width="18.6" height="226" fill="url(#jet)"/>
<path class="cb" d="M318.6 293V519"/>
<text x="321.5" y="300.5" font-size="12" text-anchor="start" font-weight="bold" font-style="normal">2</text>
<text x="321.5" y="355.5" font-size="12" text-anchor="start" font-weight="bold" font-style="normal">1.995</text>
<text x="321.5" y="410.5" font-size="12" text-anchor="start" font-weight="bold" font-style="normal">1.99</text>
<text x="321.5" y="465.5" font-size="12" text-anchor="start" font-weight="bold" font-style="normal">1.985</text>
<text x="321.5" y="520.5" font-size="12" text-anchor="start" font-weight="bold" font-style="normal">1.98</text>
<path class="cb" d="M300.4 296.2h2.2M319 296.2h-2.2M300.4 351.2h2.2M319 351.2h-2.2M300.4 406.2h2.2M319 406.2h-2.2M300.4 461.2h2.2M319 461.2h-2.2M300.4 516.2h2.2M319 516.2h-2.2"/>
<linearGradient id="hm1_0" gradientUnits="userSpaceOnUse" x1="528.22" y1="531.42" x2="481.61" y2="274.06">
<stop offset="0.0000" stop-color="#9f0000"/>
<stop offset="0.1463" stop-color="#9f0000"/>
<stop offset="0.1545" stop-color="#8f0000"/>
<stop offset="0.2358" stop-color="#8f0000"/>
<stop offset="0.2439" stop-color="#800000"/>
<stop offset="0.3577" stop-color="#800000"/>
<stop offset="0.3821" stop-color="#af0000"/>
<stop offset="0.3984" stop-color="#ef0000"/>
<stop offset="0.4065" stop-color="#ff2000"/>
<stop offset="0.4146" stop-color="#ff5000"/>
<stop offset="0.4309" stop-color="#ffef00"/>
<stop offset="0.4390" stop-color="#bfff40"/>
<stop offset="0.4472" stop-color="#50ffaf"/>
<stop offset="0.4553" stop-color="#00efff"/>
<stop offset="0.4634" stop-color="#0080ff"/>
<stop offset="0.4715" stop-color="#0020ff"/>
<stop offset="0.4797" stop-color="#0000cf"/>
<stop offset="0.4878" stop-color="#00009f"/>
<stop offset="0.4959" stop-color="#00008f"/>
<stop offset="0.5041" stop-color="#00009f"/>
<stop offset="0.5122" stop-color="#0000cf"/>
<stop offset="0.5203" stop-color="#0020ff"/>
<stop offset="0.5285" stop-color="#0080ff"/>
<stop offset="0.5366" stop-color="#00efff"/>
<stop offset="0.5447" stop-color="#50ffaf"/>
<stop offset="0.5528" stop-color="#bfff40"/>
<stop offset="0.5610" stop-color="#ffef00"/>
<stop offset="0.5772" stop-color="#ff5000"/>
<stop offset="0.5854" stop-color="#ff2000"/>
<stop offset="0.5935" stop-color="#ef0000"/>
<stop offset="0.6098" stop-color="#af0000"/>
<stop offset="0.6341" stop-color="#800000"/>
<stop offset="0.7480" stop-color="#800000"/>
<stop offset="0.7561" stop-color="#8f0000"/>
<stop offset="0.8374" stop-color="#8f0000"/>
<stop offset="0.8455" stop-color="#9f0000"/>
<stop offset="1.0000" stop-color="#9f0000"/>
</linearGradient>
<rect x="389.20" y="294.9" width="231.50" height="216.1" fill="url(#hm1_0)"/>
<text x="387.5" y="515.5" font-size="12" text-anchor="end" font-weight="bold" font-style="normal">-10</text>
<text x="387.6" y="524.6" font-size="12" text-anchor="middle" font-weight="bold" font-style="normal">-10</text>
<text x="387.5" y="461.5" font-size="12" text-anchor="end" font-weight="bold" font-style="normal">-5</text>
<text x="445.5" y="524.6" font-size="12" text-anchor="middle" font-weight="bold" font-style="normal">-5</text>
<text x="387.5" y="407.5" font-size="12" text-anchor="end" font-weight="bold" font-style="normal">0</text>
<text x="504.9" y="524.6" font-size="12" text-anchor="middle" font-weight="bold" font-style="normal">0</text>
<text x="387.5" y="353.4" font-size="12" text-anchor="end" font-weight="bold" font-style="normal">5</text>
<text x="562.8" y="524.6" font-size="12" text-anchor="middle" font-weight="bold" font-style="normal">5</text>
<text x="387.5" y="299.4" font-size="12" text-anchor="end" font-weight="bold" font-style="normal">10</text>
<text x="620.7" y="524.6" font-size="12" text-anchor="middle" font-weight="bold" font-style="normal">10</text>
<text x="504.2" y="537.8" font-size="12" text-anchor="middle" font-weight="bold" font-style="normal">x</text>
<text transform="translate(363.2 403.7) rotate(-90)" font-size="12" text-anchor="middle" font-weight="bold">t</text>
<rect x="633.4" y="294" width="17.7" height="217.7" fill="url(#jet)"/>
<path class="cb" d="M650.7 294V511.7"/>
<text x="652.8" y="301.5" font-size="12" text-anchor="start" font-weight="bold" font-style="normal">2</text>
<text x="652.8" y="354.3" font-size="12" text-anchor="start" font-weight="bold" font-style="normal">1.995</text>
<text x="652.8" y="407.1" font-size="12" text-anchor="start" font-weight="bold" font-style="normal">1.99</text>
<text x="652.8" y="459.9" font-size="12" text-anchor="start" font-weight="bold" font-style="normal">1.985</text>
<text x="652.8" y="512.7" font-size="12" text-anchor="start" font-weight="bold" font-style="normal">1.98</text>
<path class="cb" d="M633.4 297.2h2.2M651.1 297.2h-2.2M633.4 350h2.2M651.1 350h-2.2M633.4 402.8h2.2M651.1 402.8h-2.2M633.4 455.6h2.2M651.1 455.6h-2.2M633.4 508.4h2.2M651.1 508.4h-2.2"/>
<text x="340.8" y="565.1" font-size="17" text-anchor="middle" font-weight="normal" font-style="italic" class="cap">(ii)</text>
</g>
<g>
<path class="gr" d="M53.7 751.2L53.7 626.1M283.8 764.4L283.8 639.3M218.7 786.3L118.8 729.2M103.6 779.8L233.8 735.9M118.8 729.2L118.8 604.1M233.8 735.9L233.8 610.7M283.8 764.4L183.9 707.3M53.7 751.2L183.9 707.3M183.9 707.3L183.9 582.2M53.7 719.9L183.9 676M183.9 676L283.8 733.1M53.7 688.6L183.9 644.7M183.9 644.7L283.8 701.8M53.7 657.4L183.9 613.5M183.9 613.5L283.8 670.6M53.7 626.1L183.9 582.2M183.9 582.2L283.8 639.3"/>
<path fill="#70ff8f" d="M54.2 690L53.7 690.2L53.8 690.2Z"/>
<path fill="#70ff8f" d="M57.6 688.7L53.7 690.2L54.3 690.5Z"/>
<path fill="#70ff8f" d="M60.9 687.5L53.7 690.2L54.8 690.7Z"/>
<path fill="#70ff8f" d="M64.3 686.3L53.7 690.2L55.3 691Z"/>
<path fill="#70ff8f" d="M67.6 685L54.2 690L53.8 690.2L55.8 691.3Z"/>
<path fill="#70ff8f" d="M71 683.8L57.6 688.7L54.3 690.5L56.3 691.6Z"/>
<path fill="#70ff8f" d="M74.3 682.6L60.9 687.5L54.8 690.7L56.8 691.8Z"/>
<path fill="#70ff8f" d="M77.7 681.3L64.3 686.3L55.3 691L57.3 692.1Z"/>
<path fill="#70ff8f" d="M81 680.1L67.6 685L55.8 691.3L57.8 692.4Z"/>
<path fill="#80ff80" d="M84.4 678.9L71 683.8L56.3 691.6L58.3 692.6Z"/>
<path fill="#80ff80" d="M87.8 677.6L74.3 682.6L56.8 691.8L58.8 692.9Z"/>
<path fill="#80ff80" d="M91.1 676.4L77.7 681.3L57.3 692.1L59.3 693.2Z"/>
<path fill="#80ff80" d="M94.5 675.1L81 680.1L57.8 692.4L59.8 693.4Z"/>
<path fill="#80ff80" d="M97.8 673.9L84.4 678.9L58.3 692.6L60.3 693.7Z"/>
<path fill="#80ff80" d="M101.2 672.7L87.8 677.6L58.8 692.9L60.8 694Z"/>
<path fill="#80ff80" d="M104.5 671.4L91.1 676.4L59.3 693.2L61.3 694.2Z"/>
<path fill="#80ff80" d="M107.9 670.2L94.5 675.1L59.8 693.4L61.8 694.5Z"/>
<path fill="#80ff80" d="M111.2 668.9L97.8 673.9L60.3 693.7L62.3 694.7Z"/>
<path fill="#80ff80" d="M114.6 667.7L101.2 672.7L60.8 694L62.8 695Z"/>
<path fill="#80ff80" d="M118 666.4L104.5 671.4L61.3 694.2L63.3 695.3Z"/>
<path fill="#80ff80" d="M121.3 665.2L107.9 670.2L61.8 694.5L63.8 695.5Z"/>
<path fill="#80ff80" d="M124.7 663.9L111.2 668.9L62.3 694.7L64.3 695.8Z"/>
<path fill="#80ff80" d="M128 662.7L114.6 667.7L62.8 695L64.8 696Z"/>
<path fill="#80ff80" d="M131.4 661.4L118 666.4L63.3 695.3L65.3 696.3Z"/>
<path fill="#80ff80" d="M134.7 660.1L121.3 665.2L63.8 695.5L65.8 696.5Z"/>
<path fill="#80ff80" d="M138.1 658.9L124.7 663.9L64.3 695.8L66.3 696.7Z"/>
<path fill="#8fff70" d="M141.5 657.6L128 662.7L64.8 696L66.8 697Z"/>
<path fill="#8fff70" d="M144.8 656.3L131.4 661.4L65.3 696.3L67.3 697.2Z"/>
<path fill="#8fff70" d="M148.2 655.1L134.7 660.1L65.8 696.5L67.8 697.5Z"/>
<path fill="#8fff70" d="M151.5 653.8L138.1 658.9L66.3 696.7L68.3 697.7Z"/>
<path fill="#8fff70" d="M154.9 652.5L141.5 657.6L66.8 697L68.8 697.9Z"/>
<path fill="#8fff70" d="M158.2 651.2L144.8 656.3L67.3 697.2L69.3 698.1Z"/>
<path fill="#8fff70" d="M161.6 650L148.2 655.1L67.8 697.5L69.8 698.4Z"/>
<path fill="#8fff70" d="M164.9 648.7L151.5 653.8L68.3 697.7L70.3 698.6Z"/>
<path fill="#8fff70" d="M168.3 647.4L154.9 652.5L68.8 697.9L70.8 698.8Z"/>
<path fill="#8fff70" d="M171.7 646.1L158.2 651.2L69.3 698.1L71.3 699Z"/>
<path fill="#8fff70" d="M175 644.8L161.6 650L69.8 698.4L71.8 699.2Z"/>
<path fill="#8fff70" d="M178.4 643.5L164.9 648.7L70.3 698.6L72.3 699.4Z"/>
<path fill="#9fff60" d="M181.7 642.2L168.3 647.4L70.8 698.8L72.8 699.6Z"/>
<path fill="#9fff60" d="M184.1 641.4L183.9 641.3L171.7 646.1L71.3 699L73.3 699.8Z"/>
<path fill="#9fff60" d="M184.6 641.6L183.9 641.3L175 644.8L71.8 699.2L73.8 700Z"/>
<path fill="#9fff60" d="M185.1 641.8L183.9 641.3L178.4 643.5L72.3 699.4L74.3 700.2Z"/>
<path fill="#9fff60" d="M185.6 642L183.9 641.3L181.7 642.2L72.8 699.6L74.8 700.4Z"/>
<path fill="#9fff60" d="M186.1 642.1L184.1 641.4L73.3 699.8L75.3 700.5Z"/>
<path fill="#9fff60" d="M186.6 642.3L184.6 641.6L73.8 700L75.8 700.7Z"/>
<path fill="#9fff60" d="M187.1 642.4L185.1 641.8L74.3 700.2L76.3 700.9Z"/>
<path fill="#9fff60" d="M187.6 642.6L185.6 642L74.8 700.4L76.8 701Z"/>
<path fill="#9fff60" d="M188.1 642.7L186.1 642.1L75.3 700.5L77.3 701.2Z"/>
<path fill="#a3ff5c" d="M188.6 642.9L186.6 642.3L75.8 700.7L77.8 701.3Z"/>
<path fill="#abff54" d="M189.1 643L187.1 642.4L76.3 700.9L78.3 701.4Z"/>
<path fill="#afff50" d="M189.6 643.1L187.6 642.6L76.8 701L78.7 701.5Z"/>
<path fill="#afff50" d="M190.1 643.2L188.1 642.7L77.3 701.2L79.2 701.6Z"/>
<path fill="#afff50" d="M190.6 643.3L188.6 642.9L77.8 701.3L79.7 701.7Z"/>
<path fill="#afff50" d="M191.1 643.4L189.1 643L78.3 701.4L80.2 701.8Z"/>
<path fill="#b3ff4c" d="M191.6 643.5L189.6 643.1L78.7 701.5L80.7 701.9Z"/>
<path fill="#bbff44" d="M192.1 643.6L190.1 643.2L79.2 701.6L81.2 702Z"/>
<path fill="#bfff40" d="M192.6 643.6L190.6 643.3L79.7 701.7L81.7 702Z"/>
<path fill="#bfff40" d="M193.1 643.6L191.1 643.4L80.2 701.8L82.2 702.1Z"/>
<path fill="#bfff40" d="M193.6 643.7L191.6 643.5L80.7 701.9L82.7 702.1Z"/>
<path fill="#bfff40" d="M194.1 643.7L192.1 643.6L81.2 702L83.2 702.1Z"/>
<path fill="#c3ff3c" d="M194.6 643.7L192.6 643.6L81.7 702L83.7 702.1Z"/>
<path fill="#cbff34" d="M195.1 643.7L193.1 643.6L82.2 702.1L84.2 702.1Z"/>
<path fill="#cfff30" d="M195.6 643.6L193.6 643.7L82.7 702.1L84.7 702Z"/>
<path fill="#cfff30" d="M196.1 643.6L194.1 643.7L83.2 702.1L85.2 702Z"/>
<path fill="#d3ff2c" d="M196.6 643.5L194.6 643.7L83.7 702.1L85.7 701.9Z"/>
<path fill="#dbff24" d="M197.1 643.4L195.1 643.7L84.2 702.1L86.2 701.8Z"/>
<path fill="#dfff20" d="M197.3 643.4L195.6 643.6L84.7 702L86.5 701.8Z"/>
<path fill="#dfff20" d="M197.6 643.3L195.8 643.6L85 702L86.7 701.7Z"/>
<path fill="#dfff20" d="M197.8 643.2L196.1 643.6L85.2 702L87 701.7Z"/>
<path fill="#dfff20" d="M198.1 643.2L196.3 643.5L85.5 702L87.2 701.6Z"/>
<path fill="#e1ff1e" d="M198.3 643.1L196.6 643.5L85.7 701.9L87.5 701.5Z"/>
<path fill="#e5ff1a" d="M198.6 643L196.8 643.5L86 701.9L87.7 701.4Z"/>
<path fill="#e9ff16" d="M198.8 642.9L197.1 643.4L86.2 701.8L88 701.3Z"/>
<path fill="#edff12" d="M199.1 642.8L197.3 643.4L86.5 701.8L88.2 701.3Z"/>
<path fill="#f1ff0e" d="M199.3 642.7L197.6 643.3L86.7 701.7L88.5 701.2Z"/>
<path fill="#f5ff0a" d="M199.6 642.6L197.8 643.2L87 701.7L88.7 701.1Z"/>
<path fill="#f9ff06" d="M199.8 642.5L198.1 643.2L87.2 701.6L89 700.9Z"/>
<path fill="#fdff02" d="M200.1 642.4L198.3 643.1L87.5 701.5L89.2 700.8Z"/>
<path fill="#fffd00" d="M200.3 642.3L198.6 643L87.7 701.4L89.5 700.7Z"/>
<path fill="#fff900" d="M200.6 642.1L198.8 642.9L88 701.3L89.7 700.6Z"/>
<path fill="#fff500" d="M200.8 642L199.1 642.8L88.2 701.3L90 700.4Z"/>
<path fill="#fff100" d="M201.1 641.9L199.3 642.7L88.5 701.2L90.2 700.3Z"/>
<path fill="#ffed00" d="M201.3 641.7L199.6 642.6L88.7 701.1L90.5 700.1Z"/>
<path fill="#ffe900" d="M201.6 641.6L199.8 642.5L89 700.9L90.7 700Z"/>
<path fill="#ffe500" d="M201.8 641.4L200.1 642.4L89.2 700.8L91 699.8Z"/>
<path fill="#ffe200" d="M202.1 641.2L200.3 642.3L89.5 700.7L91.2 699.6Z"/>
<path fill="#ffde00" d="M202.3 641L200.6 642.1L89.7 700.6L91.5 699.4Z"/>
<path fill="#ffda00" d="M202.6 640.8L200.8 642L90 700.4L91.7 699.3Z"/>
<path fill="#ffd600" d="M202.8 640.6L201.1 641.9L90.2 700.3L92 699.1Z"/>
<path fill="#ffd200" d="M203.1 640.4L201.3 641.7L90.5 700.1L92.2 698.9Z"/>
<path fill="#ffce00" d="M203.3 640.2L201.6 641.6L90.7 700L92.5 698.6Z"/>
<path fill="#ffca00" d="M203.6 640L201.8 641.4L91 699.8L92.7 698.4Z"/>
<path fill="#ffc600" d="M203.8 639.8L202.1 641.2L91.2 699.6L93 698.2Z"/>
<path fill="#ffc200" d="M204.1 639.5L202.3 641L91.5 699.4L93.2 698Z"/>
<path fill="#ffbe00" d="M204.3 639.3L202.6 640.8L91.7 699.3L93.5 697.7Z"/>
<path fill="#ffba00" d="M204.6 639L202.8 640.6L92 699.1L93.7 697.4Z"/>
<path fill="#ffb600" d="M204.8 638.8L203.1 640.4L92.2 698.9L94 697.2Z"/>
<path fill="#ffb200" d="M205.1 638.5L203.3 640.2L92.5 698.6L94.2 696.9Z"/>
<path fill="#ffae00" d="M205.3 638.2L203.6 640L92.7 698.4L94.5 696.6Z"/>
<path fill="#ffaa00" d="M205.6 637.9L203.8 639.8L93 698.2L94.7 696.3Z"/>
<path fill="#ffa600" d="M205.8 637.6L204.1 639.5L93.2 698L95 696Z"/>
<path fill="#ffa200" d="M206.1 637.3L204.3 639.3L93.5 697.7L95.2 695.7Z"/>
<path fill="#ff9c00" d="M206.3 637L204.6 639L93.7 697.4L95.5 695.4Z"/>
<path fill="#ff9400" d="M206.6 636.7L204.8 638.8L94 697.2L95.7 695.1Z"/>
<path fill="#ff8c00" d="M206.8 636.3L205.1 638.5L94.2 696.9L96 694.8Z"/>
<path fill="#ff8400" d="M207.1 636L205.3 638.2L94.5 696.6L96.2 694.4Z"/>
<path fill="#ff7e00" d="M207.3 635.7L205.6 637.9L94.7 696.3L96.5 694.1Z"/>
<path fill="#ff7a00" d="M207.6 635.3L205.8 637.6L95 696L96.7 693.7Z"/>
<path fill="#ff7600" d="M207.8 634.9L206.1 637.3L95.2 695.7L97 693.4Z"/>
<path fill="#ff7200" d="M208.1 634.6L206.3 637L95.5 695.4L97.2 693Z"/>
<path fill="#ff6c00" d="M208.3 634.2L206.6 636.7L95.7 695.1L97.5 692.6Z"/>
<path fill="#ff6400" d="M208.6 633.8L206.8 636.3L96 694.8L97.7 692.2Z"/>
<path fill="#ff5c00" d="M208.8 633.4L207.1 636L96.2 694.4L98 691.8Z"/>
<path fill="#ff5400" d="M209 633L207.3 635.7L96.5 694.1L98.2 691.4Z"/>
<path fill="#ff4c00" d="M209.3 632.6L207.6 635.3L96.7 693.7L98.5 691Z"/>
<path fill="#ff4500" d="M209.5 632.2L207.8 634.9L97 693.4L98.7 690.6Z"/>
<path fill="#ff3d00" d="M209.8 631.8L208.1 634.6L97.2 693L99 690.2Z"/>
<path fill="#ff3500" d="M210 631.4L208.3 634.2L97.5 692.6L99.2 689.8Z"/>
<path fill="#ff2d00" d="M210.3 631L208.6 633.8L97.7 692.2L99.5 689.4Z"/>
<path fill="#ff2500" d="M210.5 630.6L208.8 633.4L98 691.8L99.7 689Z"/>
<path fill="#ff1d00" d="M210.8 630.2L209 633L98.2 691.4L100 688.6Z"/>
<path fill="#ff1500" d="M211 629.8L209.3 632.6L98.5 691L100.2 688.2Z"/>
<path fill="#fd0e00" d="M211.3 629.4L209.5 632.2L98.7 690.6L100.5 687.8Z"/>
<path fill="#f90a00" d="M211.5 629L209.8 631.8L99 690.2L100.7 687.4Z"/>
<path fill="#f50600" d="M211.8 628.6L210 631.4L99.2 689.8L101 687Z"/>
<path fill="#f10200" d="M212 628.2L210.3 631L99.5 689.4L101.2 686.6Z"/>
<path fill="#ed0000" d="M212.3 627.8L210.5 630.6L99.7 689L101.5 686.2Z"/>
<path fill="#e90000" d="M212.5 627.4L210.8 630.2L100 688.6L101.7 685.8Z"/>
<path fill="#e50000" d="M212.8 627L211 629.8L100.2 688.2L102 685.5Z"/>
<path fill="#e20000" d="M213 626.7L211.3 629.4L100.5 687.8L102.2 685.1Z"/>
<path fill="#dc0000" d="M213.3 626.4L211.5 629L100.7 687.4L102.5 684.8Z"/>
<path fill="#d40000" d="M213.5 626L211.8 628.6L101 687L102.7 684.5Z"/>
<path fill="#ce0000" d="M213.7 625.9L212 628.2L101.2 686.6L102.9 684.3Z"/>
<path fill="#ca0000" d="M213.8 625.7L212.2 628L101.4 686.4L103 684.2Z"/>
<path fill="#c60000" d="M213.9 625.6L212.3 627.8L101.5 686.2L103.1 684Z"/>
<path fill="#c20000" d="M214 625.5L212.4 627.6L101.6 686L103.2 683.9Z"/>
<path fill="#be0000" d="M214.2 625.3L212.5 627.4L101.7 685.8L103.4 683.8Z"/>
<path fill="#ba0000" d="M214.3 625.2L212.7 627.2L101.9 685.6L103.5 683.6Z"/>
<path fill="#b60000" d="M214.4 625.1L212.8 627L102 685.5L103.6 683.5Z"/>
<path fill="#b20000" d="M214.5 625L212.9 626.9L102.1 685.3L103.7 683.4Z"/>
<path fill="#ae0000" d="M214.7 624.9L213 626.7L102.2 685.1L103.8 683.3Z"/>
<path fill="#aa0000" d="M214.8 624.8L213.2 626.5L102.4 684.9L104 683.2Z"/>
<path fill="#a60000" d="M214.9 624.7L213.3 626.4L102.5 684.8L104.1 683.2Z"/>
<path fill="#a20000" d="M215 624.7L213.4 626.2L102.6 684.6L104.2 683.1Z"/>
<path fill="#9f0000" d="M215.2 624.6L213.5 626L102.7 684.5L104.3 683Z"/>
<path fill="#9d0000" d="M215.3 624.5L213.7 625.9L102.9 684.3L104.5 683Z"/>
<path fill="#9b0000" d="M215.4 624.5L213.8 625.7L103 684.2L104.6 682.9Z"/>
<path fill="#990000" d="M215.5 624.5L213.9 625.6L103.1 684L104.7 682.9Z"/>
<path fill="#970000" d="M215.7 624.4L214 625.5L103.2 683.9L104.8 682.9Z"/>
<path fill="#950000" d="M215.8 624.4L214.2 625.3L103.4 683.8L105 682.8Z"/>
<path fill="#930000" d="M215.9 624.4L214.3 625.2L103.5 683.6L105.1 682.8Z"/>
<path fill="#910000" d="M216 624.4L214.4 625.1L103.6 683.5L105.2 682.9Z"/>
<path fill="#8f0000" d="M216.2 624.5L214.5 625L103.7 683.4L105.3 682.9Z"/>
<path fill="#8d0000" d="M216.3 624.5L214.7 624.9L103.8 683.3L105.5 682.9Z"/>
<path fill="#8b0000" d="M216.4 624.5L214.8 624.8L104 683.2L105.6 683Z"/>
<path fill="#890000" d="M216.5 624.6L214.9 624.7L104.1 683.2L105.7 683Z"/>
<path fill="#870000" d="M216.7 624.7L215 624.7L104.2 683.1L105.8 683.1Z"/>
<path fill="#850000" d="M216.8 624.8L215.2 624.6L104.3 683L106 683.2Z"/>
<path fill="#830000" d="M216.9 624.9L215.3 624.5L104.5 683L106.1 683.3Z"/>
<path fill="#810000" d="M217 625L215.4 624.5L104.6 682.9L106.2 683.4Z"/>
<path fill="#800000" d="M217.2 625.1L215.5 624.5L104.7 682.9L106.3 683.6Z"/>
<path fill="#800000" d="M217.3 625.3L215.7 624.4L104.8 682.9L106.5 683.7Z"/>
<path fill="#800000" d="M217.4 625.5L215.8 624.4L105 682.8L106.6 683.9Z"/>
<path fill="#800000" d="M217.5 625.7L215.9 624.4L105.1 682.8L106.7 684.1Z"/>
<path fill="#800000" d="M217.7 625.9L216 624.4L105.2 682.9L106.8 684.3Z"/>
<path fill="#800000" d="M217.8 626.1L216.2 624.5L105.3 682.9L107 684.5Z"/>
<path fill="#800000" d="M217.9 626.3L216.3 624.5L105.5 682.9L107.1 684.7Z"/>
<path fill="#800000" d="M218 626.6L216.4 624.5L105.6 683L107.2 685Z"/>
<path fill="#800000" d="M218.2 626.8L216.5 624.6L105.7 683L107.3 685.3Z"/>
<path fill="#800000" d="M218.3 627.1L216.7 624.7L105.8 683.1L107.5 685.6Z"/>
<path fill="#800000" d="M218.4 627.5L216.8 624.8L106 683.2L107.6 685.9Z"/>
<path fill="#800000" d="M218.5 627.8L216.9 624.9L106.1 683.3L107.7 686.2Z"/>
<path fill="#800000" d="M218.7 628.1L217 625L106.2 683.4L107.8 686.6Z"/>
<path fill="#800000" d="M218.8 628.5L217.2 625.1L106.3 683.6L108 686.9Z"/>
<path fill="#800000" d="M218.9 628.9L217.3 625.3L106.5 683.7L108.1 687.3Z"/>
<path fill="#800000" d="M219 629.3L217.4 625.5L106.6 683.9L108.2 687.7Z"/>
<path fill="#800000" d="M219.2 629.8L217.5 625.7L106.7 684.1L108.3 688.2Z"/>
<path fill="#820000" d="M219.3 630.2L217.7 625.9L106.8 684.3L108.5 688.6Z"/>
<path fill="#840000" d="M219.4 630.7L217.8 626.1L107 684.5L108.6 689.1Z"/>
<path fill="#860000" d="M219.5 631.2L217.9 626.3L107.1 684.7L108.7 689.6Z"/>
<path fill="#880000" d="M219.7 631.7L218 626.6L107.2 685L108.8 690.1Z"/>
<path fill="#8a0000" d="M219.8 632.2L218.2 626.8L107.3 685.3L109 690.7Z"/>
<path fill="#8c0000" d="M219.9 632.8L218.3 627.1L107.5 685.6L109.1 691.2Z"/>
<path fill="#8e0000" d="M220 633.4L218.4 627.5L107.6 685.9L109.2 691.8Z"/>
<path fill="#910000" d="M220.2 634L218.5 627.8L107.7 686.2L109.3 692.4Z"/>
<path fill="#970000" d="M220.3 634.6L218.7 628.1L107.8 686.6L109.5 693Z"/>
<path fill="#9d0000" d="M220.4 635.3L218.8 628.5L108 686.9L109.6 693.7Z"/>
<path fill="#a30000" d="M220.5 635.9L218.9 628.9L108.1 687.3L109.7 694.3Z"/>
<path fill="#a90000" d="M220.7 636.6L219 629.3L108.2 687.7L109.8 695Z"/>
<path fill="#af0000" d="M220.8 637.3L219.2 629.8L108.3 688.2L110 695.7Z"/>
<path fill="#b50000" d="M220.9 638L219.3 630.2L108.5 688.6L110.1 696.5Z"/>
<path fill="#bb0000" d="M221 638.8L219.4 630.7L108.6 689.1L110.2 697.2Z"/>
<path fill="#c10000" d="M221.2 639.6L219.5 631.2L108.7 689.6L110.3 698Z"/>
<path fill="#c70000" d="M221.3 640.4L219.7 631.7L108.8 690.1L110.5 698.8Z"/>
<path fill="#cd0000" d="M221.4 641.2L219.8 632.2L109 690.7L110.6 699.6Z"/>
<path fill="#d30000" d="M221.5 642L219.9 632.8L109.1 691.2L110.7 700.4Z"/>
<path fill="#d90000" d="M221.7 642.8L220 633.4L109.2 691.8L110.8 701.3Z"/>
<path fill="#df0000" d="M221.8 643.7L220.2 634L109.3 692.4L111 702.1Z"/>
<path fill="#e50000" d="M221.9 644.6L220.3 634.6L109.5 693L111.1 703Z"/>
<path fill="#eb0000" d="M222 645.5L220.4 635.3L109.6 693.7L111.2 703.9Z"/>
<path fill="#f00200" d="M222.2 646.4L220.5 635.9L109.7 694.3L111.3 704.8Z"/>
<path fill="#f20a00" d="M222.3 647.3L220.7 636.6L109.8 695L111.5 705.8Z"/>
<path fill="#f41200" d="M222.4 648.3L220.8 637.3L110 695.7L111.6 706.7Z"/>
<path fill="#f61a00" d="M222.5 649.3L220.9 638L110.1 696.5L111.7 707.7Z"/>
<path fill="#f82200" d="M222.7 650.2L221 638.8L110.2 697.2L111.8 708.6Z"/>
<path fill="#fa2a00" d="M222.8 651.2L221.2 639.6L110.3 698L112 709.6Z"/>
<path fill="#fc3200" d="M222.9 652.2L221.3 640.4L110.5 698.8L112.1 710.6Z"/>
<path fill="#fe3a00" d="M223 653.2L221.4 641.2L110.6 699.6L112.2 711.7Z"/>
<path fill="#ff4300" d="M223.2 654.3L221.5 642L110.7 700.4L112.3 712.7Z"/>
<path fill="#ff4f00" d="M223.3 655.3L221.7 642.8L110.8 701.3L112.5 713.7Z"/>
<path fill="#ff5b00" d="M223.4 656.3L221.8 643.7L111 702.1L112.6 714.8Z"/>
<path fill="#ff6700" d="M223.5 657.4L221.9 644.6L111.1 703L112.7 715.8Z"/>
<path fill="#ff7300" d="M223.7 658.5L222 645.5L111.2 703.9L112.8 716.9Z"/>
<path fill="#ff7f00" d="M223.8 659.5L222.2 646.4L111.3 704.8L113 718Z"/>
<path fill="#ff8b00" d="M223.9 660.6L222.3 647.3L111.5 705.8L113.1 719Z"/>
<path fill="#ff9700" d="M224 661.7L222.4 648.3L111.6 706.7L113.2 720.1Z"/>
<path fill="#fea301" d="M224.2 662.8L222.5 649.3L111.7 707.7L113.3 721.2Z"/>
<path fill="#fcaf03" d="M224.3 663.9L222.7 650.2L111.8 708.6L113.5 722.3Z"/>
<path fill="#fabb05" d="M224.4 665L222.8 651.2L112 709.6L113.6 723.4Z"/>
<path fill="#f8c707" d="M224.5 666L222.9 652.2L112.1 710.6L113.7 724.5Z"/>
<path fill="#f6d309" d="M224.7 667.1L223 653.2L112.2 711.7L113.8 725.5Z"/>
<path fill="#f4df0b" d="M224.8 668.2L223.2 654.3L112.3 712.7L114 726.6Z"/>
<path fill="#f2eb0d" d="M224.9 669.3L223.3 655.3L112.5 713.7L114.1 727.7Z"/>
<path fill="#f0f70f" d="M225 670.4L223.4 656.3L112.6 714.8L114.2 728.8Z"/>
<path fill="#ebff14" d="M225.2 671.5L223.5 657.4L112.7 715.8L114.3 729.9Z"/>
<path fill="#e0ff1f" d="M225.3 672.6L223.7 658.5L112.8 716.9L114.5 731Z"/>
<path fill="#d4ff2b" d="M225.4 673.6L223.8 659.5L113 718L114.6 732Z"/>
<path fill="#c8ff37" d="M225.5 674.7L223.9 660.6L113.1 719L114.7 733.1Z"/>
<path fill="#bcff43" d="M225.7 675.7L224 661.7L113.2 720.1L114.8 734.2Z"/>
<path fill="#b0ff4f" d="M225.8 676.8L224.2 662.8L113.3 721.2L115 735.2Z"/>
<path fill="#a4ff5b" d="M225.9 677.8L224.3 663.9L113.5 722.3L115.1 736.3Z"/>
<path fill="#98ff67" d="M226 678.9L224.4 665L113.6 723.4L115.2 737.3Z"/>
<path fill="#8bff74" d="M226.2 679.9L224.5 666L113.7 724.5L115.3 738.3Z"/>
<path fill="#7dff82" d="M226.3 680.9L224.7 667.1L113.8 725.5L115.5 739.3Z"/>
<path fill="#6fff90" d="M226.4 681.9L224.8 668.2L114 726.6L115.6 740.3Z"/>
<path fill="#61ff9e" d="M226.5 682.9L224.9 669.3L114.1 727.7L115.7 741.3Z"/>
<path fill="#53ffac" d="M226.7 683.8L225 670.4L114.2 728.8L115.8 742.3Z"/>
<path fill="#46ffb9" d="M226.8 684.8L225.2 671.5L114.3 729.9L116 743.2Z"/>
<path fill="#38ffc7" d="M226.9 685.7L225.3 672.6L114.5 731L116.1 744.2Z"/>
<path fill="#2affd5" d="M227 686.7L225.4 673.6L114.6 732L116.2 745.1Z"/>
<path fill="#1ffce0" d="M227.2 687.6L225.5 674.7L114.7 733.1L116.3 746Z"/>
<path fill="#1bf2e4" d="M227.3 688.5L225.7 675.7L114.8 734.2L116.5 746.9Z"/>
<path fill="#17e8e8" d="M227.4 689.3L225.8 676.8L115 735.2L116.6 747.8Z"/>
<path fill="#13deec" d="M227.5 690.2L225.9 677.8L115.1 736.3L116.7 748.6Z"/>
<path fill="#0fd4f0" d="M227.7 691L226 678.9L115.2 737.3L116.8 749.4Z"/>
<path fill="#0bcaf4" d="M227.8 691.8L226.2 679.9L115.3 738.3L117 750.3Z"/>
<path fill="#07c0f8" d="M227.9 692.6L226.3 680.9L115.5 739.3L117.1 751.1Z"/>
<path fill="#03b6fc" d="M228 693.4L226.4 681.9L115.6 740.3L117.2 751.8Z"/>
<path fill="#00acff" d="M228.2 694.2L226.5 682.9L115.7 741.3L117.3 752.6Z"/>
<path fill="#00a0ff" d="M228.3 694.9L226.7 683.8L115.8 742.3L117.5 753.3Z"/>
<path fill="#0094ff" d="M228.4 695.6L226.8 684.8L116 743.2L117.6 754Z"/>
<path fill="#0088ff" d="M228.5 696.3L226.9 685.7L116.1 744.2L117.7 754.7Z"/>
<path fill="#007cff" d="M228.7 697L227 686.7L116.2 745.1L117.8 755.4Z"/>
<path fill="#0070ff" d="M228.8 697.7L227.2 687.6L116.3 746L118 756.1Z"/>
<path fill="#0064ff" d="M228.9 698.3L227.3 688.5L116.5 746.9L118.1 756.7Z"/>
<path fill="#0058ff" d="M229 698.9L227.4 689.3L116.6 747.8L118.2 757.3Z"/>
<path fill="#004dff" d="M229.2 699.5L227.5 690.2L116.7 748.6L118.3 757.9Z"/>
<path fill="#0043ff" d="M229.3 700.1L227.7 691L116.8 749.4L118.5 758.5Z"/>
<path fill="#0039ff" d="M229.4 700.6L227.8 691.8L117 750.3L118.6 759Z"/>
<path fill="#002fff" d="M229.5 701.1L227.9 692.6L117.1 751.1L118.7 759.6Z"/>
<path fill="#0025ff" d="M229.7 701.6L228 693.4L117.2 751.8L118.8 760.1Z"/>
<path fill="#001bff" d="M229.8 702.1L228.2 694.2L117.3 752.6L119 760.5Z"/>
<path fill="#0011ff" d="M229.9 702.6L228.3 694.9L117.5 753.3L119.1 761Z"/>
<path fill="#0007ff" d="M230 703L228.4 695.6L117.6 754L119.2 761.4Z"/>
<path fill="#0000fd" d="M230.2 703.5L228.5 696.3L117.7 754.7L119.3 761.9Z"/>
<path fill="#0000f7" d="M230.3 703.9L228.7 697L117.8 755.4L119.5 762.3Z"/>
<path fill="#0000f1" d="M230.4 704.2L228.8 697.7L118 756.1L119.6 762.7Z"/>
<path fill="#0000eb" d="M230.5 704.6L228.9 698.3L118.1 756.7L119.7 763Z"/>
<path fill="#0000e5" d="M230.7 704.9L229 698.9L118.2 757.3L119.8 763.4Z"/>
<path fill="#0000df" d="M230.8 705.3L229.2 699.5L118.3 757.9L120 763.7Z"/>
<path fill="#0000d9" d="M230.9 705.6L229.3 700.1L118.5 758.5L120.1 764Z"/>
<path fill="#0000d3" d="M231 705.8L229.4 700.6L118.6 759L120.2 764.3Z"/>
<path fill="#0000cd" d="M231.2 706.1L229.5 701.1L118.7 759.6L120.3 764.5Z"/>
<path fill="#0000c7" d="M231.3 706.3L229.7 701.6L118.8 760.1L120.5 764.8Z"/>
<path fill="#0000c1" d="M231.4 706.6L229.8 702.1L119 760.5L120.6 765Z"/>
<path fill="#0000bb" d="M231.5 706.8L229.9 702.6L119.1 761L120.7 765.2Z"/>
<path fill="#0000b5" d="M231.7 707L230 703L119.2 761.4L120.8 765.4Z"/>
<path fill="#0000b0" d="M231.8 707.2L230.2 703.5L119.3 761.9L121 765.6Z"/>
<path fill="#0000aa" d="M231.9 707.3L230.3 703.9L119.5 762.3L121.1 765.7Z"/>
<path fill="#0000a4" d="M232 707.5L230.4 704.2L119.6 762.7L121.2 765.9Z"/>
<path fill="#00009f" d="M232.2 707.6L230.5 704.6L119.7 763L121.3 766Z"/>
<path fill="#00009d" d="M232.3 707.7L230.7 704.9L119.8 763.4L121.5 766.1Z"/>
<path fill="#00009b" d="M232.4 707.8L230.8 705.3L120 763.7L121.6 766.2Z"/>
<path fill="#000099" d="M232.5 707.9L230.9 705.6L120.1 764L121.7 766.3Z"/>
<path fill="#000097" d="M232.7 707.9L231 705.8L120.2 764.3L121.8 766.4Z"/>
<path fill="#000095" d="M232.8 708L231.2 706.1L120.3 764.5L122 766.4Z"/>
<path fill="#000093" d="M232.9 708L231.3 706.3L120.5 764.8L122.1 766.5Z"/>
<path fill="#000091" d="M233 708.1L231.4 706.6L120.6 765L122.2 766.5Z"/>
<path fill="#00008f" d="M233.2 708.1L231.5 706.8L120.7 765.2L122.3 766.5Z"/>
<path fill="#00008f" d="M233.3 708.1L231.7 707L120.8 765.4L122.5 766.5Z"/>
<path fill="#00008f" d="M233.4 708.1L231.8 707.2L121 765.6L122.6 766.5Z"/>
<path fill="#00008f" d="M233.5 708.1L231.9 707.3L121.1 765.7L122.7 766.5Z"/>
<path fill="#00008f" d="M233.7 708L232 707.5L121.2 765.9L122.8 766.5Z"/>
<path fill="#00008f" d="M233.8 708L232.2 707.6L121.3 766L123 766.4Z"/>
<path fill="#00008f" d="M233.9 707.9L232.3 707.7L121.5 766.1L123.1 766.4Z"/>
<path fill="#00008f" d="M234 707.9L232.4 707.8L121.6 766.2L123.2 766.3Z"/>
<path fill="#00008f" d="M234.1 707.8L232.5 707.9L121.7 766.3L123.3 766.2Z"/>
<path fill="#00008f" d="M234.3 707.7L232.7 707.9L121.8 766.4L123.5 766.2Z"/>
<path fill="#00008f" d="M234.4 707.7L232.8 708L122 766.4L123.6 766.1Z"/>
<path fill="#00008f" d="M234.5 707.6L232.9 708L122.1 766.5L123.7 766Z"/>
<path fill="#00008f" d="M234.6 707.5L233 708.1L122.2 766.5L123.8 765.9Z"/>
<path fill="#00008f" d="M234.8 707.3L233.2 708.1L122.3 766.5L124 765.8Z"/>
<path fill="#00008f" d="M234.9 707.2L233.3 708.1L122.5 766.5L124.1 765.6Z"/>
<path fill="#00008f" d="M235 707.1L233.4 708.1L122.6 766.5L124.2 765.5Z"/>
<path fill="#000090" d="M235.1 707L233.5 708.1L122.7 766.5L124.3 765.4Z"/>
<path fill="#000092" d="M235.3 706.8L233.7 708L122.8 766.5L124.5 765.3Z"/>
<path fill="#000094" d="M235.4 706.7L233.8 708L123 766.4L124.6 765.1Z"/>
<path fill="#000097" d="M235.6 706.4L233.9 707.9L123.1 766.4L124.8 764.8Z"/>
<path fill="#00009b" d="M235.9 706.1L234.1 707.8L123.3 766.2L125.1 764.5Z"/>
<path fill="#00009f" d="M236.1 705.7L234.4 707.7L123.6 766.1L125.3 764.1Z"/>
<path fill="#0000a3" d="M236.4 705.4L234.6 707.5L123.8 765.9L125.6 763.8Z"/>
<path fill="#0000a7" d="M236.6 705L234.9 707.2L124.1 765.6L125.8 763.4Z"/>
<path fill="#0000ab" d="M236.9 704.6L235.1 707L124.3 765.4L126.1 763Z"/>
<path fill="#0000af" d="M237.1 704.2L235.4 706.7L124.6 765.1L126.3 762.7Z"/>
<path fill="#0000b6" d="M237.4 703.8L235.6 706.4L124.8 764.8L126.6 762.3Z"/>
<path fill="#0000be" d="M237.6 703.4L235.9 706.1L125.1 764.5L126.8 761.9Z"/>
<path fill="#0000c6" d="M237.9 703L236.1 705.7L125.3 764.1L127.1 761.5Z"/>
<path fill="#0000ce" d="M238.1 702.6L236.4 705.4L125.6 763.8L127.3 761Z"/>
<path fill="#0000d6" d="M238.4 702.2L236.6 705L125.8 763.4L127.6 760.6Z"/>
<path fill="#0000de" d="M238.6 701.8L236.9 704.6L126.1 763L127.8 760.2Z"/>
<path fill="#0000e6" d="M238.9 701.4L237.1 704.2L126.3 762.7L128.1 759.8Z"/>
<path fill="#0000ee" d="M239.1 701L237.4 703.8L126.6 762.3L128.3 759.4Z"/>
<path fill="#0000f3" d="M239.4 700.6L237.6 703.4L126.8 761.9L128.6 759Z"/>
<path fill="#0000f7" d="M239.6 700.2L237.9 703L127.1 761.5L128.8 758.6Z"/>
<path fill="#0000fb" d="M239.9 699.8L238.1 702.6L127.3 761L129.1 758.2Z"/>
<path fill="#0000ff" d="M240.1 699.4L238.4 702.2L127.6 760.6L129.3 757.8Z"/>
<path fill="#0007ff" d="M240.4 699L238.6 701.8L127.8 760.2L129.6 757.4Z"/>
<path fill="#000fff" d="M240.6 698.6L238.9 701.4L128.1 759.8L129.8 757Z"/>
<path fill="#0017ff" d="M240.9 698.2L239.1 701L128.3 759.4L130.1 756.6Z"/>
<path fill="#001fff" d="M241.1 697.8L239.4 700.6L128.6 759L130.3 756.3Z"/>
<path fill="#0027ff" d="M241.4 697.5L239.6 700.2L128.8 758.6L130.6 755.9Z"/>
<path fill="#002fff" d="M241.6 697.1L239.9 699.8L129.1 758.2L130.8 755.5Z"/>
<path fill="#0037ff" d="M241.9 696.8L240.1 699.4L129.3 757.8L131.1 755.2Z"/>
<path fill="#003fff" d="M242.1 696.4L240.4 699L129.6 757.4L131.3 754.8Z"/>
<path fill="#0047ff" d="M242.4 696.1L240.6 698.6L129.8 757L131.6 754.5Z"/>
<path fill="#004fff" d="M242.6 695.7L240.9 698.2L130.1 756.6L131.8 754.2Z"/>
<path fill="#0057ff" d="M242.9 695.4L241.1 697.8L130.3 756.3L132.1 753.8Z"/>
<path fill="#005fff" d="M243.1 695.1L241.4 697.5L130.6 755.9L132.3 753.5Z"/>
<path fill="#0067ff" d="M243.4 694.8L241.6 697.1L130.8 755.5L132.6 753.2Z"/>
<path fill="#006fff" d="M243.6 694.5L241.9 696.8L131.1 755.2L132.8 752.9Z"/>
<path fill="#0077ff" d="M243.9 694.2L242.1 696.4L131.3 754.8L133.1 752.6Z"/>
<path fill="#007fff" d="M244.1 693.9L242.4 696.1L131.6 754.5L133.3 752.4Z"/>
<path fill="#0083ff" d="M244.4 693.7L242.6 695.7L131.8 754.2L133.6 752.1Z"/>
<path fill="#0087ff" d="M244.6 693.4L242.9 695.4L132.1 753.8L133.8 751.8Z"/>
<path fill="#008bff" d="M244.9 693.2L243.1 695.1L132.3 753.5L134.1 751.6Z"/>
<path fill="#008fff" d="M245.1 692.9L243.4 694.8L132.6 753.2L134.3 751.3Z"/>
<path fill="#0097ff" d="M245.4 692.7L243.6 694.5L132.8 752.9L134.6 751.1Z"/>
<path fill="#009fff" d="M245.6 692.4L243.9 694.2L133.1 752.6L134.8 750.9Z"/>
<path fill="#00a7ff" d="M245.9 692.2L244.1 693.9L133.3 752.4L135.1 750.6Z"/>
<path fill="#00afff" d="M246.1 692L244.4 693.7L133.6 752.1L135.3 750.4Z"/>
<path fill="#00b3ff" d="M246.4 691.8L244.6 693.4L133.8 751.8L135.6 750.2Z"/>
<path fill="#00b7ff" d="M246.6 691.6L244.9 693.2L134.1 751.6L135.8 750Z"/>
<path fill="#00bbff" d="M246.9 691.4L245.1 692.9L134.3 751.3L136.1 749.9Z"/>
<path fill="#00bfff" d="M247.1 691.3L245.4 692.7L134.6 751.1L136.3 749.7Z"/>
<path fill="#00c3ff" d="M247.4 691.1L245.6 692.4L134.8 750.9L136.6 749.5Z"/>
<path fill="#00c7ff" d="M247.6 690.9L245.9 692.2L135.1 750.6L136.8 749.3Z"/>
<path fill="#00cbff" d="M247.9 690.8L246.1 692L135.3 750.4L137.1 749.2Z"/>
<path fill="#00cfff" d="M248.1 690.6L246.4 691.8L135.6 750.2L137.3 749Z"/>
<path fill="#00d3ff" d="M248.4 690.5L246.6 691.6L135.8 750L137.6 748.9Z"/>
<path fill="#00d7ff" d="M248.6 690.3L246.9 691.4L136.1 749.9L137.8 748.7Z"/>
<path fill="#00dbff" d="M248.9 690.2L247.1 691.3L136.3 749.7L138.1 748.6Z"/>
<path fill="#00dfff" d="M249.1 690.1L247.4 691.1L136.6 749.5L138.3 748.5Z"/>
<path fill="#00e3ff" d="M249.4 690L247.6 690.9L136.8 749.3L138.6 748.4Z"/>
<path fill="#00e7ff" d="M249.6 689.9L247.9 690.8L137.1 749.2L138.8 748.3Z"/>
<path fill="#00ebff" d="M249.9 689.8L248.1 690.6L137.3 749L139.1 748.2Z"/>
<path fill="#00efff" d="M250.1 689.7L248.4 690.5L137.6 748.9L139.3 748.1Z"/>
<path fill="#00f3ff" d="M250.4 689.6L248.6 690.3L137.8 748.7L139.6 748Z"/>
<path fill="#00f7ff" d="M250.6 689.5L248.9 690.2L138.1 748.6L139.8 747.9Z"/>
<path fill="#00fbff" d="M250.9 689.4L249.1 690.1L138.3 748.5L140.1 747.8Z"/>
<path fill="#00ffff" d="M251.1 689.3L249.4 690L138.6 748.4L140.3 747.7Z"/>
<path fill="#04fffb" d="M251.4 689.3L249.6 689.9L138.8 748.3L140.6 747.7Z"/>
<path fill="#08fff7" d="M251.6 689.2L249.9 689.8L139.1 748.2L140.8 747.6Z"/>
<path fill="#0cfff3" d="M251.9 689.1L250.1 689.7L139.3 748.1L141.1 747.6Z"/>
<path fill="#12ffed" d="M252.4 689L250.4 689.6L139.6 748L141.6 747.5Z"/>
<path fill="#1affe5" d="M252.9 689L250.9 689.4L140.1 747.8L142.1 747.4Z"/>
<path fill="#21ffde" d="M253.4 688.9L251.4 689.3L140.6 747.7L142.6 747.3Z"/>
<path fill="#29ffd6" d="M253.9 688.9L251.9 689.1L141.1 747.6L143.1 747.3Z"/>
<path fill="#30ffcf" d="M254.4 688.8L252.4 689L141.6 747.5L143.6 747.3Z"/>
<path fill="#30ffcf" d="M254.9 688.8L252.9 689L142.1 747.4L144.1 747.2Z"/>
<path fill="#31ffce" d="M255.4 688.8L253.4 688.9L142.6 747.3L144.6 747.3Z"/>
<path fill="#39ffc6" d="M255.9 688.9L253.9 688.9L143.1 747.3L145.1 747.3Z"/>
<path fill="#40ffbf" d="M256.4 688.9L254.4 688.8L143.6 747.3L145.6 747.3Z"/>
<path fill="#40ffbf" d="M256.9 688.9L254.9 688.8L144.1 747.2L146.1 747.4Z"/>
<path fill="#41ffbe" d="M257.4 689L255.4 688.8L144.6 747.3L146.6 747.4Z"/>
<path fill="#49ffb6" d="M257.9 689.1L255.9 688.9L145.1 747.3L147.1 747.5Z"/>
<path fill="#50ffaf" d="M258.4 689.2L256.4 688.9L145.6 747.3L147.6 747.6Z"/>
<path fill="#50ffaf" d="M258.9 689.3L256.9 688.9L146.1 747.4L148.1 747.7Z"/>
<path fill="#50ffaf" d="M259.4 689.4L257.4 689L146.6 747.4L148.6 747.8Z"/>
<path fill="#50ffaf" d="M259.9 689.5L257.9 689.1L147.1 747.5L149.1 747.9Z"/>
<path fill="#51ffae" d="M260.4 689.6L258.4 689.2L147.6 747.6L149.6 748Z"/>
<path fill="#59ffa6" d="M260.9 689.7L258.9 689.3L148.1 747.7L150.1 748.2Z"/>
<path fill="#60ff9f" d="M261.4 689.9L259.4 689.4L148.6 747.8L150.6 748.3Z"/>
<path fill="#60ff9f" d="M261.9 690L259.9 689.5L149.1 747.9L151.1 748.4Z"/>
<path fill="#60ff9f" d="M262.4 690.2L260.4 689.6L149.6 748L151.6 748.6Z"/>
<path fill="#60ff9f" d="M262.9 690.3L260.9 689.7L150.1 748.2L152.1 748.8Z"/>
<path fill="#61ff9e" d="M263.4 690.5L261.4 689.9L150.6 748.3L152.6 748.9Z"/>
<path fill="#69ff96" d="M263.9 690.7L261.9 690L151.1 748.4L153.1 749.1Z"/>
<path fill="#70ff8f" d="M264.4 690.9L262.4 690.2L151.6 748.6L153.6 749.3Z"/>
<path fill="#60ff9f" d="M153.6 749.3L156.6 748.1L264.9 691L262.9 690.3L152.1 748.8Z"/>
<path fill="#61ff9e" d="M153.6 749.3L160 746.8L265.4 691.2L263.4 690.5L152.6 748.9Z"/>
<path fill="#69ff96" d="M153.6 749.3L163.3 745.5L265.9 691.4L263.9 690.7L153.1 749.1Z"/>
<path fill="#70ff8f" d="M153.6 749.3L166.7 744.2L266.4 691.6L264.4 690.9L153.6 749.3Z"/>
<path fill="#70ff8f" d="M156.6 748.1L170 742.9L266.9 691.8L264.9 691Z"/>
<path fill="#70ff8f" d="M160 746.8L173.4 741.6L267.4 692.1L265.4 691.2Z"/>
<path fill="#70ff8f" d="M163.3 745.5L176.8 740.3L267.9 692.3L265.9 691.4Z"/>
<path fill="#71ff8e" d="M166.7 744.2L180.1 739L268.4 692.5L266.4 691.6Z"/>
<path fill="#79ff86" d="M170 742.9L183.5 737.7L268.9 692.7L266.9 691.8Z"/>
<path fill="#80ff80" d="M173.4 741.6L186.8 736.4L269.4 692.9L267.4 692.1Z"/>
<path fill="#80ff80" d="M176.8 740.3L190.2 735.2L269.9 693.2L267.9 692.3Z"/>
<path fill="#80ff80" d="M180.1 739L193.5 733.9L270.4 693.4L268.4 692.5Z"/>
<path fill="#80ff80" d="M183.5 737.7L196.9 732.6L270.9 693.6L268.9 692.7Z"/>
<path fill="#80ff80" d="M186.8 736.4L200.2 731.4L271.4 693.9L269.4 692.9Z"/>
<path fill="#80ff80" d="M190.2 735.2L203.6 730.1L271.9 694.1L269.9 693.2Z"/>
<path fill="#80ff80" d="M193.5 733.9L207 728.8L272.4 694.3L270.4 693.4Z"/>
<path fill="#80ff80" d="M196.9 732.6L210.3 727.6L272.9 694.6L270.9 693.6Z"/>
<path fill="#80ff80" d="M200.2 731.4L213.7 726.3L273.4 694.8L271.4 693.9Z"/>
<path fill="#80ff80" d="M203.6 730.1L217 725.1L273.9 695.1L271.9 694.1Z"/>
<path fill="#8fff70" d="M207 728.8L220.4 723.8L274.4 695.3L272.4 694.3Z"/>
<path fill="#8fff70" d="M210.3 727.6L223.7 722.5L274.9 695.6L272.9 694.6Z"/>
<path fill="#8fff70" d="M213.7 726.3L227.1 721.3L275.4 695.8L273.4 694.8Z"/>
<path fill="#8fff70" d="M217 725.1L230.4 720L275.9 696.1L273.9 695.1Z"/>
<path fill="#8fff70" d="M220.4 723.8L233.8 718.8L276.4 696.4L274.4 695.3Z"/>
<path fill="#8fff70" d="M223.7 722.5L237.2 717.5L276.9 696.6L274.9 695.6Z"/>
<path fill="#8fff70" d="M227.1 721.3L240.5 716.3L277.4 696.9L275.4 695.8Z"/>
<path fill="#8fff70" d="M230.4 720L243.9 715.1L277.9 697.1L275.9 696.1Z"/>
<path fill="#8fff70" d="M233.8 718.8L247.2 713.8L278.4 697.4L276.4 696.4Z"/>
<path fill="#8fff70" d="M237.2 717.5L250.6 712.6L278.9 697.7L276.9 696.6Z"/>
<path fill="#8fff70" d="M240.5 716.3L253.9 711.3L279.4 697.9L277.4 696.9Z"/>
<path fill="#8fff70" d="M243.9 715.1L257.3 710.1L279.9 698.2L277.9 697.1Z"/>
<path fill="#8fff70" d="M247.2 713.8L260.6 708.9L280.4 698.5L278.4 697.4Z"/>
<path fill="#8fff70" d="M250.6 712.6L264 707.6L280.9 698.7L278.9 697.7Z"/>
<path fill="#8fff70" d="M253.9 711.3L267.4 706.4L281.4 699L279.4 697.9Z"/>
<path fill="#8fff70" d="M257.3 710.1L270.7 705.1L281.9 699.3L279.9 698.2Z"/>
<path fill="#9fff60" d="M260.6 708.9L274.1 703.9L282.4 699.5L280.4 698.5Z"/>
<path fill="#9fff60" d="M264 707.6L277.4 702.7L282.9 699.8L280.9 698.7Z"/>
<path fill="#9fff60" d="M267.4 706.4L280.8 701.4L283.4 700.1L281.4 699Z"/>
<path fill="#9fff60" d="M270.7 705.1L283.8 700.3L281.9 699.3Z"/>
<path class="ax" d="M53.7 751.2L153.6 808.3"/>
<path class="ax" d="M153.6 808.3L283.8 764.4"/>
<path class="ax" d="M153.6 808.3L150.4 809.3M153.6 808.3L156.4 809.9M103.6 779.8L100.4 780.8M218.7 786.3L221.5 787.9M53.7 751.2L50.5 752.2M283.8 764.4L286.6 766M53.7 751.2L50.7 749.6M53.7 719.9L50.7 718.3M53.7 688.6L50.7 687M53.7 657.4L50.7 655.8M53.7 626.1L50.7 624.5"/>
<text x="49.1" y="752.2" font-size="12" text-anchor="end" font-weight="bold" font-style="normal">-0.02</text>
<text x="49.1" y="720.9" font-size="12" text-anchor="end" font-weight="bold" font-style="normal">-0.01</text>
<text x="49.1" y="689.6" font-size="12" text-anchor="end" font-weight="bold" font-style="normal">0</text>
<text x="49.1" y="658.4" font-size="12" text-anchor="end" font-weight="bold" font-style="normal">0.01</text>
<text x="49.1" y="627.1" font-size="12" text-anchor="end" font-weight="bold" font-style="normal">0.02</text>
<text x="41.7" y="765.5" font-size="12" text-anchor="middle" font-weight="bold" font-style="normal">10</text>
<text x="94.6" y="794.5" font-size="12" text-anchor="middle" font-weight="bold" font-style="normal">0</text>
<text x="147.3" y="822.3" font-size="12" text-anchor="end" font-weight="bold" font-style="normal">-10</text>
<text x="158.4" y="823.8" font-size="12" text-anchor="start" font-weight="bold" font-style="normal">-10</text>
<text x="226.9" y="801.3" font-size="12" text-anchor="middle" font-weight="bold" font-style="normal">0</text>
<text x="289.6" y="779.2" font-size="12" text-anchor="start" font-weight="bold" font-style="normal">10</text>
<text x="95.8" y="823.3" font-size="12" text-anchor="middle" font-weight="bold" font-style="normal">t</text>
<text x="218.2" y="826.8" font-size="12" text-anchor="middle" font-weight="bold" font-style="normal">x</text>
<text transform="translate(10.4 688.6) rotate(-90)" font-size="12" text-anchor="middle" font-weight="bold">Im(N<tspan font-size="10" dy="4.6">9</tspan><tspan dy="-4.6">(x,t))</tspan></text>
<rect x="298.6" y="581.1" width="18.4" height="226.3" fill="url(#jet)"/>
<path class="cb" d="M316.6 581.1V807.4"/>
<text x="318.9" y="603.4" font-size="12" text-anchor="start" font-weight="bold" font-style="normal">0.01</text>
<text x="318.9" y="651.5" font-size="12" text-anchor="start" font-weight="bold" font-style="normal">0.005</text>
<text x="318.9" y="699.6" font-size="12" text-anchor="start" font-weight="bold" font-style="normal">0</text>
<text x="318.9" y="747.7" font-size="12" text-anchor="start" font-weight="bold" font-style="normal">-0.005</text>
<text x="318.9" y="795.8" font-size="12" text-anchor="start" font-weight="bold" font-style="normal">-0.01</text>
<path class="cb" d="M298.6 599.1h2.2M317 599.1h-2.2M298.6 647.2h2.2M317 647.2h-2.2M298.6 695.3h2.2M317 695.3h-2.2M298.6 743.4h2.2M317 743.4h-2.2M298.6 791.5h2.2M317 791.5h-2.2"/>
<linearGradient id="hm2_0" gradientUnits="userSpaceOnUse" x1="528.22" y1="819.92" x2="481.61" y2="562.56">
<stop offset="0.0000" stop-color="#70ff8f"/>
<stop offset="0.0894" stop-color="#70ff8f"/>
<stop offset="0.0976" stop-color="#60ff9f"/>
<stop offset="0.1707" stop-color="#60ff9f"/>
<stop offset="0.1789" stop-color="#50ffaf"/>
<stop offset="0.2033" stop-color="#50ffaf"/>
<stop offset="0.2114" stop-color="#40ffbf"/>
<stop offset="0.2276" stop-color="#40ffbf"/>
<stop offset="0.2358" stop-color="#30ffcf"/>
<stop offset="0.2439" stop-color="#30ffcf"/>
<stop offset="0.2520" stop-color="#20ffdf"/>
<stop offset="0.2602" stop-color="#20ffdf"/>
<stop offset="0.2683" stop-color="#10ffef"/>
<stop offset="0.2764" stop-color="#10ffef"/>
<stop offset="0.2846" stop-color="#00ffff"/>
<stop offset="0.3252" stop-color="#00afff"/>
<stop offset="0.3333" stop-color="#008fff"/>
<stop offset="0.3415" stop-color="#0080ff"/>
<stop offset="0.3496" stop-color="#0060ff"/>
<stop offset="0.3577" stop-color="#0050ff"/>
<stop offset="0.3740" stop-color="#0010ff"/>
<stop offset="0.3821" stop-color="#0000ef"/>
<stop offset="0.3984" stop-color="#0000af"/>
<stop offset="0.4146" stop-color="#00008f"/>
<stop offset="0.4472" stop-color="#00008f"/>
<stop offset="0.4553" stop-color="#0000af"/>
<stop offset="0.4634" stop-color="#0000ef"/>
<stop offset="0.4715" stop-color="#0040ff"/>
<stop offset="0.4797" stop-color="#008fff"/>
<stop offset="0.4878" stop-color="#00ffff"/>
<stop offset="0.5041" stop-color="#dfff20"/>
<stop offset="0.5122" stop-color="#ffaf00"/>
<stop offset="0.5285" stop-color="#ff1000"/>
<stop offset="0.5366" stop-color="#cf0000"/>
<stop offset="0.5528" stop-color="#8f0000"/>
<stop offset="0.5691" stop-color="#8f0000"/>
<stop offset="0.5854" stop-color="#af0000"/>
<stop offset="0.6016" stop-color="#ef0000"/>
<stop offset="0.6098" stop-color="#ff1000"/>
<stop offset="0.6260" stop-color="#ff5000"/>
<stop offset="0.6341" stop-color="#ff6000"/>
<stop offset="0.6504" stop-color="#ff9f00"/>
<stop offset="0.6585" stop-color="#ffaf00"/>
<stop offset="0.6667" stop-color="#ffcf00"/>
<stop offset="0.6911" stop-color="#ffff00"/>
<stop offset="0.7073" stop-color="#dfff20"/>
<stop offset="0.7154" stop-color="#dfff20"/>
<stop offset="0.7317" stop-color="#bfff40"/>
<stop offset="0.7398" stop-color="#bfff40"/>
<stop offset="0.7480" stop-color="#afff50"/>
<stop offset="0.7561" stop-color="#afff50"/>
<stop offset="0.7642" stop-color="#9fff60"/>
<stop offset="0.7886" stop-color="#9fff60"/>
<stop offset="0.7967" stop-color="#8fff70"/>
<stop offset="0.8211" stop-color="#8fff70"/>
<stop offset="0.8293" stop-color="#80ff80"/>
<stop offset="0.9187" stop-color="#80ff80"/>
<stop offset="0.9268" stop-color="#70ff8f"/>
<stop offset="1.0000" stop-color="#70ff8f"/>
</linearGradient>
<rect x="389.20" y="583.4" width="12.27" height="216.1" fill="url(#hm2_0)"/>
<linearGradient id="hm2_1" gradientUnits="userSpaceOnUse" x1="528.22" y1="819.92" x2="481.61" y2="562.56">
<stop offset="0.0000" stop-color="#70ff8f"/>
<stop offset="0.1138" stop-color="#70ff8f"/>
<stop offset="0.1220" stop-color="#60ff9f"/>
<stop offset="0.1707" stop-color="#60ff9f"/>
<stop offset="0.1789" stop-color="#50ffaf"/>
<stop offset="0.2114" stop-color="#50ffaf"/>
<stop offset="0.2195" stop-color="#40ffbf"/>
<stop offset="0.2276" stop-color="#40ffbf"/>
<stop offset="0.2358" stop-color="#30ffcf"/>
<stop offset="0.2520" stop-color="#30ffcf"/>
<stop offset="0.2683" stop-color="#10ffef"/>
<stop offset="0.2764" stop-color="#10ffef"/>
<stop offset="0.2846" stop-color="#00ffff"/>
<stop offset="0.3333" stop-color="#009fff"/>
<stop offset="0.3496" stop-color="#0060ff"/>
<stop offset="0.3577" stop-color="#0050ff"/>
<stop offset="0.3740" stop-color="#0010ff"/>
<stop offset="0.3821" stop-color="#0000ef"/>
<stop offset="0.3984" stop-color="#0000af"/>
<stop offset="0.4146" stop-color="#00008f"/>
<stop offset="0.4472" stop-color="#00008f"/>
<stop offset="0.4553" stop-color="#0000af"/>
<stop offset="0.4634" stop-color="#0000ef"/>
<stop offset="0.4715" stop-color="#0040ff"/>
<stop offset="0.4878" stop-color="#00ffff"/>
<stop offset="0.5041" stop-color="#dfff20"/>
<stop offset="0.5122" stop-color="#ffaf00"/>
<stop offset="0.5203" stop-color="#ff5000"/>
<stop offset="0.5285" stop-color="#ff1000"/>
<stop offset="0.5366" stop-color="#cf0000"/>
<stop offset="0.5447" stop-color="#9f0000"/>
<stop offset="0.5528" stop-color="#8f0000"/>
<stop offset="0.5691" stop-color="#8f0000"/>
<stop offset="0.5854" stop-color="#af0000"/>
<stop offset="0.6016" stop-color="#ef0000"/>
<stop offset="0.6098" stop-color="#ff1000"/>
<stop offset="0.6260" stop-color="#ff5000"/>
<stop offset="0.6341" stop-color="#ff6000"/>
<stop offset="0.6504" stop-color="#ff9f00"/>
<stop offset="0.6667" stop-color="#ffbf00"/>
<stop offset="0.6748" stop-color="#ffdf00"/>
<stop offset="0.6911" stop-color="#ffff00"/>
<stop offset="0.6992" stop-color="#efff10"/>
<stop offset="0.7073" stop-color="#efff10"/>
<stop offset="0.7317" stop-color="#bfff40"/>
<stop offset="0.7398" stop-color="#bfff40"/>
<stop offset="0.7480" stop-color="#afff50"/>
<stop offset="0.7642" stop-color="#afff50"/>
<stop offset="0.7724" stop-color="#9fff60"/>
<stop offset="0.7886" stop-color="#9fff60"/>
<stop offset="0.7967" stop-color="#8fff70"/>
<stop offset="0.8293" stop-color="#8fff70"/>
<stop offset="0.8374" stop-color="#80ff80"/>
<stop offset="0.9512" stop-color="#80ff80"/>
<stop offset="0.9593" stop-color="#70ff8f"/>
<stop offset="1.0000" stop-color="#70ff8f"/>
</linearGradient>
<rect x="400.77" y="583.4" width="12.27" height="216.1" fill="url(#hm2_1)"/>
<linearGradient id="hm2_2" gradientUnits="userSpaceOnUse" x1="528.22" y1="819.92" x2="481.61" y2="562.56">
<stop offset="0.0000" stop-color="#70ff8f"/>
<stop offset="0.1220" stop-color="#70ff8f"/>
<stop offset="0.1301" stop-color="#60ff9f"/>
<stop offset="0.1789" stop-color="#60ff9f"/>
<stop offset="0.1870" stop-color="#50ffaf"/>
<stop offset="0.2114" stop-color="#50ffaf"/>
<stop offset="0.2195" stop-color="#40ffbf"/>
<stop offset="0.2358" stop-color="#40ffbf"/>
<stop offset="0.2439" stop-color="#30ffcf"/>
<stop offset="0.2520" stop-color="#30ffcf"/>
<stop offset="0.2602" stop-color="#20ffdf"/>
<stop offset="0.2683" stop-color="#20ffdf"/>
<stop offset="0.2846" stop-color="#00ffff"/>
<stop offset="0.3333" stop-color="#009fff"/>
<stop offset="0.3415" stop-color="#0080ff"/>
<stop offset="0.3496" stop-color="#0070ff"/>
<stop offset="0.3740" stop-color="#0010ff"/>
<stop offset="0.3821" stop-color="#0000ef"/>
<stop offset="0.3902" stop-color="#0000cf"/>
<stop offset="0.3984" stop-color="#0000bf"/>
<stop offset="0.4065" stop-color="#00009f"/>
<stop offset="0.4146" stop-color="#00008f"/>
<stop offset="0.4472" stop-color="#00008f"/>
<stop offset="0.4634" stop-color="#0000ef"/>
<stop offset="0.4715" stop-color="#0040ff"/>
<stop offset="0.4878" stop-color="#00ffff"/>
<stop offset="0.5041" stop-color="#dfff20"/>
<stop offset="0.5122" stop-color="#ffaf00"/>
<stop offset="0.5203" stop-color="#ff5000"/>
<stop offset="0.5285" stop-color="#ff0000"/>
<stop offset="0.5447" stop-color="#9f0000"/>
<stop offset="0.5610" stop-color="#800000"/>
<stop offset="0.5854" stop-color="#af0000"/>
<stop offset="0.6016" stop-color="#ef0000"/>
<stop offset="0.6098" stop-color="#ff1000"/>
<stop offset="0.6179" stop-color="#ff3000"/>
<stop offset="0.6260" stop-color="#ff4000"/>
<stop offset="0.6423" stop-color="#ff8000"/>
<stop offset="0.6504" stop-color="#ff8f00"/>
<stop offset="0.6585" stop-color="#ffaf00"/>
<stop offset="0.6748" stop-color="#ffcf00"/>
<stop offset="0.6829" stop-color="#ffef00"/>
<stop offset="0.6911" stop-color="#ffff00"/>
<stop offset="0.6992" stop-color="#efff10"/>
<stop offset="0.7073" stop-color="#efff10"/>
<stop offset="0.7236" stop-color="#cfff30"/>
<stop offset="0.7317" stop-color="#cfff30"/>
<stop offset="0.7398" stop-color="#bfff40"/>
<stop offset="0.7480" stop-color="#bfff40"/>
<stop offset="0.7561" stop-color="#afff50"/>
<stop offset="0.7642" stop-color="#afff50"/>
<stop offset="0.7724" stop-color="#9fff60"/>
<stop offset="0.7967" stop-color="#9fff60"/>
<stop offset="0.8049" stop-color="#8fff70"/>
<stop offset="0.8455" stop-color="#8fff70"/>
<stop offset="0.8537" stop-color="#80ff80"/>
<stop offset="1.0000" stop-color="#80ff80"/>
</linearGradient>
<rect x="412.35" y="583.4" width="12.27" height="216.1" fill="url(#hm2_2)"/>
<linearGradient id="hm2_3" gradientUnits="userSpaceOnUse" x1="528.22" y1="819.92" x2="481.61" y2="562.56">
<stop offset="0.0000" stop-color="#70ff8f"/>
<stop offset="0.1382" stop-color="#70ff8f"/>
<stop offset="0.1463" stop-color="#60ff9f"/>
<stop offset="0.1870" stop-color="#60ff9f"/>
<stop offset="0.1951" stop-color="#50ffaf"/>
<stop offset="0.2114" stop-color="#50ffaf"/>
<stop offset="0.2195" stop-color="#40ffbf"/>
<stop offset="0.2358" stop-color="#40ffbf"/>
<stop offset="0.2439" stop-color="#30ffcf"/>
<stop offset="0.2520" stop-color="#30ffcf"/>
<stop offset="0.2602" stop-color="#20ffdf"/>
<stop offset="0.2683" stop-color="#20ffdf"/>
<stop offset="0.2846" stop-color="#00ffff"/>
<stop offset="0.3333" stop-color="#009fff"/>
<stop offset="0.3415" stop-color="#0080ff"/>
<stop offset="0.3496" stop-color="#0070ff"/>
<stop offset="0.3740" stop-color="#0010ff"/>
<stop offset="0.3821" stop-color="#0000ef"/>
<stop offset="0.3902" stop-color="#0000df"/>
<stop offset="0.4065" stop-color="#00009f"/>
<stop offset="0.4146" stop-color="#00008f"/>
<stop offset="0.4472" stop-color="#00008f"/>
<stop offset="0.4634" stop-color="#0000ef"/>
<stop offset="0.4715" stop-color="#0040ff"/>
<stop offset="0.4797" stop-color="#009fff"/>
<stop offset="0.4878" stop-color="#10ffef"/>
<stop offset="0.5041" stop-color="#efff10"/>
<stop offset="0.5122" stop-color="#ffaf00"/>
<stop offset="0.5203" stop-color="#ff5000"/>
<stop offset="0.5285" stop-color="#ff0000"/>
<stop offset="0.5447" stop-color="#9f0000"/>
<stop offset="0.5610" stop-color="#800000"/>
<stop offset="0.5854" stop-color="#af0000"/>
<stop offset="0.6016" stop-color="#ef0000"/>
<stop offset="0.6098" stop-color="#ff0000"/>
<stop offset="0.6423" stop-color="#ff8000"/>
<stop offset="0.6504" stop-color="#ff8f00"/>
<stop offset="0.6585" stop-color="#ffaf00"/>
<stop offset="0.6992" stop-color="#ffff00"/>
<stop offset="0.7236" stop-color="#cfff30"/>
<stop offset="0.7317" stop-color="#cfff30"/>
<stop offset="0.7398" stop-color="#bfff40"/>
<stop offset="0.7480" stop-color="#bfff40"/>
<stop offset="0.7561" stop-color="#afff50"/>
<stop offset="0.7724" stop-color="#afff50"/>
<stop offset="0.7805" stop-color="#9fff60"/>
<stop offset="0.7967" stop-color="#9fff60"/>
<stop offset="0.8049" stop-color="#8fff70"/>
<stop offset="0.8537" stop-color="#8fff70"/>
<stop offset="0.8618" stop-color="#80ff80"/>
<stop offset="1.0000" stop-color="#80ff80"/>
</linearGradient>
<rect x="423.92" y="583.4" width="12.28" height="216.1" fill="url(#hm2_3)"/>
<linearGradient id="hm2_4" gradientUnits="userSpaceOnUse" x1="528.22" y1="819.92" x2="481.61" y2="562.56">
<stop offset="0.0000" stop-color="#80ff80"/>
<stop offset="0.0081" stop-color="#80ff80"/>
<stop offset="0.0163" stop-color="#70ff8f"/>
<stop offset="0.1463" stop-color="#70ff8f"/>
<stop offset="0.1545" stop-color="#60ff9f"/>
<stop offset="0.1870" stop-color="#60ff9f"/>
<stop offset="0.1951" stop-color="#50ffaf"/>
<stop offset="0.2195" stop-color="#50ffaf"/>
<stop offset="0.2276" stop-color="#40ffbf"/>
<stop offset="0.2358" stop-color="#40ffbf"/>
<stop offset="0.2439" stop-color="#30ffcf"/>
<stop offset="0.2520" stop-color="#30ffcf"/>
<stop offset="0.2602" stop-color="#20ffdf"/>
<stop offset="0.2683" stop-color="#20ffdf"/>
<stop offset="0.2846" stop-color="#00ffff"/>
<stop offset="0.2927" stop-color="#00ffff"/>
<stop offset="0.3171" stop-color="#00cfff"/>
<stop offset="0.3252" stop-color="#00afff"/>
<stop offset="0.3333" stop-color="#009fff"/>
<stop offset="0.3415" stop-color="#0080ff"/>
<stop offset="0.3496" stop-color="#0070ff"/>
<stop offset="0.3659" stop-color="#0030ff"/>
<stop offset="0.3740" stop-color="#0020ff"/>
<stop offset="0.3821" stop-color="#0000ff"/>
<stop offset="0.4065" stop-color="#00009f"/>
<stop offset="0.4146" stop-color="#00008f"/>
<stop offset="0.4472" stop-color="#00008f"/>
<stop offset="0.4634" stop-color="#0000ef"/>
<stop offset="0.4715" stop-color="#0040ff"/>
<stop offset="0.4797" stop-color="#009fff"/>
<stop offset="0.4878" stop-color="#10ffef"/>
<stop offset="0.5041" stop-color="#efff10"/>
<stop offset="0.5122" stop-color="#ffaf00"/>
<stop offset="0.5203" stop-color="#ff5000"/>
<stop offset="0.5285" stop-color="#ff0000"/>
<stop offset="0.5366" stop-color="#bf0000"/>
<stop offset="0.5447" stop-color="#9f0000"/>
<stop offset="0.5610" stop-color="#800000"/>
<stop offset="0.5691" stop-color="#8f0000"/>
<stop offset="0.5772" stop-color="#8f0000"/>
<stop offset="0.5935" stop-color="#cf0000"/>
<stop offset="0.6016" stop-color="#df0000"/>
<stop offset="0.6098" stop-color="#ff0000"/>
<stop offset="0.6423" stop-color="#ff8000"/>
<stop offset="0.6504" stop-color="#ff8f00"/>
<stop offset="0.6585" stop-color="#ffaf00"/>
<stop offset="0.6992" stop-color="#ffff00"/>
<stop offset="0.7154" stop-color="#dfff20"/>
<stop offset="0.7236" stop-color="#dfff20"/>
<stop offset="0.7398" stop-color="#bfff40"/>
<stop offset="0.7480" stop-color="#bfff40"/>
<stop offset="0.7561" stop-color="#afff50"/>
<stop offset="0.7724" stop-color="#afff50"/>
<stop offset="0.7805" stop-color="#9fff60"/>
<stop offset="0.8049" stop-color="#9fff60"/>
<stop offset="0.8130" stop-color="#8fff70"/>
<stop offset="0.8618" stop-color="#8fff70"/>
<stop offset="0.8699" stop-color="#80ff80"/>
<stop offset="1.0000" stop-color="#80ff80"/>
</linearGradient>
<rect x="435.50" y="583.4" width="12.27" height="216.1" fill="url(#hm2_4)"/>
<linearGradient id="hm2_5" gradientUnits="userSpaceOnUse" x1="528.22" y1="819.92" x2="481.61" y2="562.56">
<stop offset="0.0000" stop-color="#80ff80"/>
<stop offset="0.0488" stop-color="#80ff80"/>
<stop offset="0.0569" stop-color="#70ff8f"/>
<stop offset="0.1545" stop-color="#70ff8f"/>
<stop offset="0.1626" stop-color="#60ff9f"/>
<stop offset="0.1951" stop-color="#60ff9f"/>
<stop offset="0.2033" stop-color="#50ffaf"/>
<stop offset="0.2195" stop-color="#50ffaf"/>
<stop offset="0.2276" stop-color="#40ffbf"/>
<stop offset="0.2439" stop-color="#40ffbf"/>
<stop offset="0.2520" stop-color="#30ffcf"/>
<stop offset="0.2602" stop-color="#30ffcf"/>
<stop offset="0.2764" stop-color="#10ffef"/>
<stop offset="0.2846" stop-color="#10ffef"/>
<stop offset="0.2927" stop-color="#00ffff"/>
<stop offset="0.3171" stop-color="#00cfff"/>
<stop offset="0.3252" stop-color="#00afff"/>
<stop offset="0.3415" stop-color="#008fff"/>
<stop offset="0.3577" stop-color="#0050ff"/>
<stop offset="0.3659" stop-color="#0040ff"/>
<stop offset="0.3821" stop-color="#0000ff"/>
<stop offset="0.4065" stop-color="#00009f"/>
<stop offset="0.4146" stop-color="#00008f"/>
<stop offset="0.4390" stop-color="#00008f"/>
<stop offset="0.4472" stop-color="#00009f"/>
<stop offset="0.4553" stop-color="#0000bf"/>
<stop offset="0.4634" stop-color="#0000ff"/>
<stop offset="0.4715" stop-color="#0040ff"/>
<stop offset="0.4797" stop-color="#009fff"/>
<stop offset="0.4878" stop-color="#10ffef"/>
<stop offset="0.5041" stop-color="#efff10"/>
<stop offset="0.5122" stop-color="#ffaf00"/>
<stop offset="0.5203" stop-color="#ff5000"/>
<stop offset="0.5285" stop-color="#ff0000"/>
<stop offset="0.5366" stop-color="#bf0000"/>
<stop offset="0.5528" stop-color="#800000"/>
<stop offset="0.5691" stop-color="#800000"/>
<stop offset="0.5772" stop-color="#8f0000"/>
<stop offset="0.5854" stop-color="#af0000"/>
<stop offset="0.5935" stop-color="#bf0000"/>
<stop offset="0.6098" stop-color="#ff0000"/>
<stop offset="0.6341" stop-color="#ff6000"/>
<stop offset="0.6423" stop-color="#ff7000"/>
<stop offset="0.6504" stop-color="#ff8f00"/>
<stop offset="0.6585" stop-color="#ff9f00"/>
<stop offset="0.6667" stop-color="#ffbf00"/>
<stop offset="0.6992" stop-color="#ffff00"/>
<stop offset="0.7154" stop-color="#dfff20"/>
<stop offset="0.7236" stop-color="#dfff20"/>
<stop offset="0.7317" stop-color="#cfff30"/>
<stop offset="0.7398" stop-color="#cfff30"/>
<stop offset="0.7480" stop-color="#bfff40"/>
<stop offset="0.7561" stop-color="#bfff40"/>
<stop offset="0.7642" stop-color="#afff50"/>
<stop offset="0.7805" stop-color="#afff50"/>
<stop offset="0.7886" stop-color="#9fff60"/>
<stop offset="0.8130" stop-color="#9fff60"/>
<stop offset="0.8211" stop-color="#8fff70"/>
<stop offset="0.8780" stop-color="#8fff70"/>
<stop offset="0.8862" stop-color="#80ff80"/>
<stop offset="1.0000" stop-color="#80ff80"/>
</linearGradient>
<rect x="447.07" y="583.4" width="12.27" height="216.1" fill="url(#hm2_5)"/>
<linearGradient id="hm2_6" gradientUnits="userSpaceOnUse" x1="528.22" y1="819.92" x2="481.61" y2="562.56">
<stop offset="0.0000" stop-color="#80ff80"/>
<stop offset="0.0813" stop-color="#80ff80"/>
<stop offset="0.0894" stop-color="#70ff8f"/>
<stop offset="0.1626" stop-color="#70ff8f"/>
<stop offset="0.1707" stop-color="#60ff9f"/>
<stop offset="0.2033" stop-color="#60ff9f"/>
<stop offset="0.2114" stop-color="#50ffaf"/>
<stop offset="0.2276" stop-color="#50ffaf"/>
<stop offset="0.2358" stop-color="#40ffbf"/>
<stop offset="0.2439" stop-color="#40ffbf"/>
<stop offset="0.2520" stop-color="#30ffcf"/>
<stop offset="0.2602" stop-color="#30ffcf"/>
<stop offset="0.2764" stop-color="#10ffef"/>
<stop offset="0.2846" stop-color="#10ffef"/>
<stop offset="0.2927" stop-color="#00ffff"/>
<stop offset="0.3252" stop-color="#00bfff"/>
<stop offset="0.3333" stop-color="#009fff"/>
<stop offset="0.3415" stop-color="#008fff"/>
<stop offset="0.3496" stop-color="#0070ff"/>
<stop offset="0.3577" stop-color="#0060ff"/>
<stop offset="0.3821" stop-color="#0000ff"/>
<stop offset="0.3984" stop-color="#0000bf"/>
<stop offset="0.4065" stop-color="#0000af"/>
<stop offset="0.4146" stop-color="#00008f"/>
<stop offset="0.4390" stop-color="#00008f"/>
<stop offset="0.4472" stop-color="#00009f"/>
<stop offset="0.4553" stop-color="#0000bf"/>
<stop offset="0.4634" stop-color="#0000ff"/>
<stop offset="0.4797" stop-color="#009fff"/>
<stop offset="0.4878" stop-color="#10ffef"/>
<stop offset="0.5041" stop-color="#efff10"/>
<stop offset="0.5122" stop-color="#ff9f00"/>
<stop offset="0.5285" stop-color="#ff0000"/>
<stop offset="0.5366" stop-color="#bf0000"/>
<stop offset="0.5528" stop-color="#800000"/>
<stop offset="0.5691" stop-color="#800000"/>
<stop offset="0.5772" stop-color="#8f0000"/>
<stop offset="0.5854" stop-color="#af0000"/>
<stop offset="0.5935" stop-color="#bf0000"/>
<stop offset="0.6098" stop-color="#ff0000"/>
<stop offset="0.6341" stop-color="#ff6000"/>
<stop offset="0.6423" stop-color="#ff7000"/>
<stop offset="0.6504" stop-color="#ff8f00"/>
<stop offset="0.6585" stop-color="#ff9f00"/>
<stop offset="0.6667" stop-color="#ffbf00"/>
<stop offset="0.6992" stop-color="#ffff00"/>
<stop offset="0.7073" stop-color="#efff10"/>
<stop offset="0.7154" stop-color="#efff10"/>
<stop offset="0.7317" stop-color="#cfff30"/>
<stop offset="0.7398" stop-color="#cfff30"/>
<stop offset="0.7480" stop-color="#bfff40"/>
<stop offset="0.7561" stop-color="#bfff40"/>
<stop offset="0.7642" stop-color="#afff50"/>
<stop offset="0.7805" stop-color="#afff50"/>
<stop offset="0.7886" stop-color="#9fff60"/>
<stop offset="0.8211" stop-color="#9fff60"/>
<stop offset="0.8293" stop-color="#8fff70"/>
<stop offset="0.9024" stop-color="#8fff70"/>
<stop offset="0.9106" stop-color="#80ff80"/>
<stop offset="1.0000" stop-color="#80ff80"/>
</linearGradient>
<rect x="458.65" y="583.4" width="12.27" height="216.1" fill="url(#hm2_6)"/>
<linearGradient id="hm2_7" gradientUnits="userSpaceOnUse" x1="528.22" y1="819.92" x2="481.61" y2="562.56">
<stop offset="0.0000" stop-color="#80ff80"/>
<stop offset="0.0976" stop-color="#80ff80"/>
<stop offset="0.1057" stop-color="#70ff8f"/>
<stop offset="0.1707" stop-color="#70ff8f"/>
<stop offset="0.1789" stop-color="#60ff9f"/>
<stop offset="0.2033" stop-color="#60ff9f"/>
<stop offset="0.2114" stop-color="#50ffaf"/>
<stop offset="0.2276" stop-color="#50ffaf"/>
<stop offset="0.2358" stop-color="#40ffbf"/>
<stop offset="0.2439" stop-color="#40ffbf"/>
<stop offset="0.2520" stop-color="#30ffcf"/>
<stop offset="0.2602" stop-color="#30ffcf"/>
<stop offset="0.2683" stop-color="#20ffdf"/>
<stop offset="0.2764" stop-color="#20ffdf"/>
<stop offset="0.2927" stop-color="#00ffff"/>
<stop offset="0.3252" stop-color="#00bfff"/>
<stop offset="0.3333" stop-color="#009fff"/>
<stop offset="0.3415" stop-color="#008fff"/>
<stop offset="0.3496" stop-color="#0070ff"/>
<stop offset="0.3577" stop-color="#0060ff"/>
<stop offset="0.3821" stop-color="#0000ff"/>
<stop offset="0.3984" stop-color="#0000bf"/>
<stop offset="0.4065" stop-color="#0000af"/>
<stop offset="0.4146" stop-color="#00008f"/>
<stop offset="0.4390" stop-color="#00008f"/>
<stop offset="0.4472" stop-color="#00009f"/>
<stop offset="0.4553" stop-color="#0000bf"/>
<stop offset="0.4634" stop-color="#0000ff"/>
<stop offset="0.4715" stop-color="#0050ff"/>
<stop offset="0.4797" stop-color="#00afff"/>
<stop offset="0.4878" stop-color="#10ffef"/>
<stop offset="0.5041" stop-color="#efff10"/>
<stop offset="0.5122" stop-color="#ff9f00"/>
<stop offset="0.5203" stop-color="#ff4000"/>
<stop offset="0.5285" stop-color="#ff0000"/>
<stop offset="0.5366" stop-color="#bf0000"/>
<stop offset="0.5528" stop-color="#800000"/>
<stop offset="0.5691" stop-color="#800000"/>
<stop offset="0.5854" stop-color="#9f0000"/>
<stop offset="0.6098" stop-color="#ff0000"/>
<stop offset="0.6260" stop-color="#ff4000"/>
<stop offset="0.6341" stop-color="#ff5000"/>
<stop offset="0.6504" stop-color="#ff8f00"/>
<stop offset="0.6667" stop-color="#ffaf00"/>
<stop offset="0.6748" stop-color="#ffcf00"/>
<stop offset="0.6992" stop-color="#ffff00"/>
<stop offset="0.7073" stop-color="#efff10"/>
<stop offset="0.7154" stop-color="#efff10"/>
<stop offset="0.7317" stop-color="#cfff30"/>
<stop offset="0.7398" stop-color="#cfff30"/>
<stop offset="0.7480" stop-color="#bfff40"/>
<stop offset="0.7642" stop-color="#bfff40"/>
<stop offset="0.7724" stop-color="#afff50"/>
<stop offset="0.7886" stop-color="#afff50"/>
<stop offset="0.7967" stop-color="#9fff60"/>
<stop offset="0.8293" stop-color="#9fff60"/>
<stop offset="0.8374" stop-color="#8fff70"/>
<stop offset="0.9268" stop-color="#8fff70"/>
<stop offset="0.9350" stop-color="#80ff80"/>
<stop offset="1.0000" stop-color="#80ff80"/>
</linearGradient>
<rect x="470.22" y="583.4" width="12.27" height="216.1" fill="url(#hm2_7)"/>
<linearGradient id="hm2_8" gradientUnits="userSpaceOnUse" x1="528.22" y1="819.92" x2="481.61" y2="562.56">
<stop offset="0.0000" stop-color="#80ff80"/>
<stop offset="0.1138" stop-color="#80ff80"/>
<stop offset="0.1220" stop-color="#70ff8f"/>
<stop offset="0.1789" stop-color="#70ff8f"/>
<stop offset="0.1870" stop-color="#60ff9f"/>
<stop offset="0.2114" stop-color="#60ff9f"/>
<stop offset="0.2195" stop-color="#50ffaf"/>
<stop offset="0.2276" stop-color="#50ffaf"/>
<stop offset="0.2358" stop-color="#40ffbf"/>
<stop offset="0.2520" stop-color="#40ffbf"/>
<stop offset="0.2683" stop-color="#20ffdf"/>
<stop offset="0.2764" stop-color="#20ffdf"/>
<stop offset="0.2927" stop-color="#00ffff"/>
<stop offset="0.3333" stop-color="#00afff"/>
<stop offset="0.3415" stop-color="#008fff"/>
<stop offset="0.3496" stop-color="#0080ff"/>
<stop offset="0.3821" stop-color="#0000ff"/>
<stop offset="0.3984" stop-color="#0000bf"/>
<stop offset="0.4065" stop-color="#0000af"/>
<stop offset="0.4146" stop-color="#00008f"/>
<stop offset="0.4390" stop-color="#00008f"/>
<stop offset="0.4472" stop-color="#00009f"/>
<stop offset="0.4553" stop-color="#0000bf"/>
<stop offset="0.4634" stop-color="#0000ff"/>
<stop offset="0.4715" stop-color="#0050ff"/>
<stop offset="0.4797" stop-color="#00afff"/>
<stop offset="0.4878" stop-color="#10ffef"/>
<stop offset="0.5041" stop-color="#efff10"/>
<stop offset="0.5122" stop-color="#ff9f00"/>
<stop offset="0.5203" stop-color="#ff4000"/>
<stop offset="0.5285" stop-color="#ff0000"/>
<stop offset="0.5366" stop-color="#bf0000"/>
<stop offset="0.5447" stop-color="#8f0000"/>
<stop offset="0.5528" stop-color="#800000"/>
<stop offset="0.5691" stop-color="#800000"/>
<stop offset="0.5854" stop-color="#9f0000"/>
<stop offset="0.6098" stop-color="#ff0000"/>
<stop offset="0.6179" stop-color="#ff2000"/>
<stop offset="0.6260" stop-color="#ff3000"/>
<stop offset="0.6504" stop-color="#ff8f00"/>
<stop offset="0.6667" stop-color="#ffaf00"/>
<stop offset="0.6748" stop-color="#ffcf00"/>
<stop offset="0.6992" stop-color="#ffff00"/>
<stop offset="0.7073" stop-color="#ffff00"/>
<stop offset="0.7236" stop-color="#dfff20"/>
<stop offset="0.7317" stop-color="#dfff20"/>
<stop offset="0.7398" stop-color="#cfff30"/>
<stop offset="0.7480" stop-color="#cfff30"/>
<stop offset="0.7561" stop-color="#bfff40"/>
<stop offset="0.7642" stop-color="#bfff40"/>
<stop offset="0.7724" stop-color="#afff50"/>
<stop offset="0.7886" stop-color="#afff50"/>
<stop offset="0.7967" stop-color="#9fff60"/>
<stop offset="0.8374" stop-color="#9fff60"/>
<stop offset="0.8455" stop-color="#8fff70"/>
<stop offset="0.9593" stop-color="#8fff70"/>
<stop offset="0.9675" stop-color="#80ff80"/>
<stop offset="1.0000" stop-color="#80ff80"/>
</linearGradient>
<rect x="481.80" y="583.4" width="12.28" height="216.1" fill="url(#hm2_8)"/>
<linearGradient id="hm2_9" gradientUnits="userSpaceOnUse" x1="528.22" y1="819.92" x2="481.61" y2="562.56">
<stop offset="0.0000" stop-color="#80ff80"/>
<stop offset="0.1301" stop-color="#80ff80"/>
<stop offset="0.1382" stop-color="#70ff8f"/>
<stop offset="0.1789" stop-color="#70ff8f"/>
<stop offset="0.1870" stop-color="#60ff9f"/>
<stop offset="0.2114" stop-color="#60ff9f"/>
<stop offset="0.2195" stop-color="#50ffaf"/>
<stop offset="0.2358" stop-color="#50ffaf"/>
<stop offset="0.2439" stop-color="#40ffbf"/>
<stop offset="0.2520" stop-color="#40ffbf"/>
<stop offset="0.2602" stop-color="#30ffcf"/>
<stop offset="0.2683" stop-color="#30ffcf"/>
<stop offset="0.2927" stop-color="#00ffff"/>
<stop offset="0.3333" stop-color="#00afff"/>
<stop offset="0.3415" stop-color="#008fff"/>
<stop offset="0.3496" stop-color="#0080ff"/>
<stop offset="0.3821" stop-color="#0000ff"/>
<stop offset="0.3902" stop-color="#0000df"/>
<stop offset="0.3984" stop-color="#0000cf"/>
<stop offset="0.4065" stop-color="#0000af"/>
<stop offset="0.4228" stop-color="#00008f"/>
<stop offset="0.4390" stop-color="#00008f"/>
<stop offset="0.4472" stop-color="#00009f"/>
<stop offset="0.4634" stop-color="#0000ff"/>
<stop offset="0.4715" stop-color="#0050ff"/>
<stop offset="0.4797" stop-color="#00afff"/>
<stop offset="0.4878" stop-color="#10ffef"/>
<stop offset="0.5041" stop-color="#efff10"/>
<stop offset="0.5122" stop-color="#ff9f00"/>
<stop offset="0.5203" stop-color="#ff4000"/>
<stop offset="0.5285" stop-color="#ef0000"/>
<stop offset="0.5447" stop-color="#8f0000"/>
<stop offset="0.5528" stop-color="#800000"/>
<stop offset="0.5691" stop-color="#800000"/>
<stop offset="0.5854" stop-color="#9f0000"/>
<stop offset="0.6098" stop-color="#ff0000"/>
<stop offset="0.6179" stop-color="#ff1000"/>
<stop offset="0.6423" stop-color="#ff7000"/>
<stop offset="0.6504" stop-color="#ff8000"/>
<stop offset="0.6585" stop-color="#ff9f00"/>
<stop offset="0.6748" stop-color="#ffbf00"/>
<stop offset="0.6829" stop-color="#ffdf00"/>
<stop offset="0.6911" stop-color="#ffef00"/>
<stop offset="0.6992" stop-color="#ffef00"/>
<stop offset="0.7073" stop-color="#ffff00"/>
<stop offset="0.7236" stop-color="#dfff20"/>
<stop offset="0.7317" stop-color="#dfff20"/>
<stop offset="0.7398" stop-color="#cfff30"/>
<stop offset="0.7480" stop-color="#cfff30"/>
<stop offset="0.7561" stop-color="#bfff40"/>
<stop offset="0.7642" stop-color="#bfff40"/>
<stop offset="0.7724" stop-color="#afff50"/>
<stop offset="0.7967" stop-color="#afff50"/>
<stop offset="0.8049" stop-color="#9fff60"/>
<stop offset="0.8455" stop-color="#9fff60"/>
<stop offset="0.8537" stop-color="#8fff70"/>
<stop offset="1.0000" stop-color="#8fff70"/>
</linearGradient>
<rect x="493.38" y="583.4" width="12.27" height="216.1" fill="url(#hm2_9)"/>
<linearGradient id="hm2_10" gradientUnits="userSpaceOnUse" x1="528.22" y1="819.92" x2="481.61" y2="562.56">
<stop offset="0.0000" stop-color="#80ff80"/>
<stop offset="0.1382" stop-color="#80ff80"/>
<stop offset="0.1463" stop-color="#70ff8f"/>
<stop offset="0.1870" stop-color="#70ff8f"/>
<stop offset="0.1951" stop-color="#60ff9f"/>
<stop offset="0.2195" stop-color="#60ff9f"/>
<stop offset="0.2276" stop-color="#50ffaf"/>
<stop offset="0.2358" stop-color="#50ffaf"/>
<stop offset="0.2439" stop-color="#40ffbf"/>
<stop offset="0.2520" stop-color="#40ffbf"/>
<stop offset="0.2602" stop-color="#30ffcf"/>
<stop offset="0.2683" stop-color="#30ffcf"/>
<stop offset="0.2927" stop-color="#00ffff"/>
<stop offset="0.3008" stop-color="#00ffff"/>
<stop offset="0.3089" stop-color="#00efff"/>
<stop offset="0.3171" stop-color="#00cfff"/>
<stop offset="0.3333" stop-color="#00afff"/>
<stop offset="0.3415" stop-color="#008fff"/>
<stop offset="0.3496" stop-color="#0080ff"/>
<stop offset="0.3740" stop-color="#0020ff"/>
<stop offset="0.3821" stop-color="#0010ff"/>
<stop offset="0.3902" stop-color="#0000ef"/>
<stop offset="0.4065" stop-color="#0000af"/>
<stop offset="0.4228" stop-color="#00008f"/>
<stop offset="0.4390" stop-color="#00008f"/>
<stop offset="0.4472" stop-color="#00009f"/>
<stop offset="0.4634" stop-color="#0000ff"/>
<stop offset="0.4715" stop-color="#0050ff"/>
<stop offset="0.4797" stop-color="#00afff"/>
<stop offset="0.4878" stop-color="#20ffdf"/>
<stop offset="0.5041" stop-color="#ffff00"/>
<stop offset="0.5203" stop-color="#ff4000"/>
<stop offset="0.5285" stop-color="#ef0000"/>
<stop offset="0.5447" stop-color="#8f0000"/>
<stop offset="0.5528" stop-color="#800000"/>
<stop offset="0.5691" stop-color="#800000"/>
<stop offset="0.5854" stop-color="#9f0000"/>
<stop offset="0.5935" stop-color="#bf0000"/>
<stop offset="0.6016" stop-color="#cf0000"/>
<stop offset="0.6098" stop-color="#ef0000"/>
<stop offset="0.6179" stop-color="#ff1000"/>
<stop offset="0.6423" stop-color="#ff7000"/>
<stop offset="0.6504" stop-color="#ff8000"/>
<stop offset="0.6585" stop-color="#ff9f00"/>
<stop offset="0.7073" stop-color="#ffff00"/>
<stop offset="0.7236" stop-color="#dfff20"/>
<stop offset="0.7317" stop-color="#dfff20"/>
<stop offset="0.7398" stop-color="#cfff30"/>
<stop offset="0.7480" stop-color="#cfff30"/>
<stop offset="0.7561" stop-color="#bfff40"/>
<stop offset="0.7724" stop-color="#bfff40"/>
<stop offset="0.7805" stop-color="#afff50"/>
<stop offset="0.8049" stop-color="#afff50"/>
<stop offset="0.8130" stop-color="#9fff60"/>
<stop offset="0.8537" stop-color="#9fff60"/>
<stop offset="0.8618" stop-color="#8fff70"/>
<stop offset="1.0000" stop-color="#8fff70"/>
</linearGradient>
<rect x="504.95" y="583.4" width="12.28" height="216.1" fill="url(#hm2_10)"/>
<linearGradient id="hm2_11" gradientUnits="userSpaceOnUse" x1="528.22" y1="819.92" x2="481.61" y2="562.56">
<stop offset="0.0000" stop-color="#8fff70"/>
<stop offset="0.0244" stop-color="#8fff70"/>
<stop offset="0.0325" stop-color="#80ff80"/>
<stop offset="0.1463" stop-color="#80ff80"/>
<stop offset="0.1545" stop-color="#70ff8f"/>
<stop offset="0.1951" stop-color="#70ff8f"/>
<stop offset="0.2033" stop-color="#60ff9f"/>
<stop offset="0.2195" stop-color="#60ff9f"/>
<stop offset="0.2276" stop-color="#50ffaf"/>
<stop offset="0.2358" stop-color="#50ffaf"/>
<stop offset="0.2439" stop-color="#40ffbf"/>
<stop offset="0.2520" stop-color="#40ffbf"/>
<stop offset="0.2602" stop-color="#30ffcf"/>
<stop offset="0.2683" stop-color="#30ffcf"/>
<stop offset="0.2846" stop-color="#10ffef"/>
<stop offset="0.2927" stop-color="#10ffef"/>
<stop offset="0.3008" stop-color="#00ffff"/>
<stop offset="0.3171" stop-color="#00dfff"/>
<stop offset="0.3252" stop-color="#00bfff"/>
<stop offset="0.3415" stop-color="#009fff"/>
<stop offset="0.3659" stop-color="#0040ff"/>
<stop offset="0.3740" stop-color="#0030ff"/>
<stop offset="0.3821" stop-color="#0010ff"/>
<stop offset="0.3902" stop-color="#0000ef"/>
<stop offset="0.4065" stop-color="#0000af"/>
<stop offset="0.4228" stop-color="#00008f"/>
<stop offset="0.4390" stop-color="#00008f"/>
<stop offset="0.4472" stop-color="#00009f"/>
<stop offset="0.4553" stop-color="#0000cf"/>
<stop offset="0.4634" stop-color="#0010ff"/>
<stop offset="0.4715" stop-color="#0050ff"/>
<stop offset="0.4797" stop-color="#00afff"/>
<stop offset="0.4878" stop-color="#20ffdf"/>
<stop offset="0.5041" stop-color="#ffff00"/>
<stop offset="0.5203" stop-color="#ff4000"/>
<stop offset="0.5285" stop-color="#ef0000"/>
<stop offset="0.5366" stop-color="#af0000"/>
<stop offset="0.5447" stop-color="#8f0000"/>
<stop offset="0.5528" stop-color="#800000"/>
<stop offset="0.5772" stop-color="#800000"/>
<stop offset="0.5854" stop-color="#9f0000"/>
<stop offset="0.5935" stop-color="#af0000"/>
<stop offset="0.6098" stop-color="#ef0000"/>
<stop offset="0.6179" stop-color="#ff1000"/>
<stop offset="0.6423" stop-color="#ff7000"/>
<stop offset="0.6504" stop-color="#ff8000"/>
<stop offset="0.6585" stop-color="#ff9f00"/>
<stop offset="0.7073" stop-color="#ffff00"/>
<stop offset="0.7154" stop-color="#efff10"/>
<stop offset="0.7236" stop-color="#efff10"/>
<stop offset="0.7398" stop-color="#cfff30"/>
<stop offset="0.7561" stop-color="#cfff30"/>
<stop offset="0.7642" stop-color="#bfff40"/>
<stop offset="0.7724" stop-color="#bfff40"/>
<stop offset="0.7805" stop-color="#afff50"/>
<stop offset="0.8049" stop-color="#afff50"/>
<stop offset="0.8130" stop-color="#9fff60"/>
<stop offset="0.8699" stop-color="#9fff60"/>
<stop offset="0.8780" stop-color="#8fff70"/>
<stop offset="1.0000" stop-color="#8fff70"/>
</linearGradient>
<rect x="516.52" y="583.4" width="12.27" height="216.1" fill="url(#hm2_11)"/>
<linearGradient id="hm2_12" gradientUnits="userSpaceOnUse" x1="528.22" y1="819.92" x2="481.61" y2="562.56">
<stop offset="0.0000" stop-color="#8fff70"/>
<stop offset="0.0569" stop-color="#8fff70"/>
<stop offset="0.0650" stop-color="#80ff7f"/>
<stop offset="0.1545" stop-color="#80ff80"/>
<stop offset="0.1626" stop-color="#70ff8f"/>
<stop offset="0.1951" stop-color="#70ff8f"/>
<stop offset="0.2033" stop-color="#60ff9f"/>
<stop offset="0.2195" stop-color="#60ff9f"/>
<stop offset="0.2276" stop-color="#50ffaf"/>
<stop offset="0.2439" stop-color="#50ffaf"/>
<stop offset="0.2520" stop-color="#40ffbf"/>
<stop offset="0.2602" stop-color="#40ffbf"/>
<stop offset="0.2764" stop-color="#20ffdf"/>
<stop offset="0.2846" stop-color="#20ffdf"/>
<stop offset="0.3008" stop-color="#00ffff"/>
<stop offset="0.3171" stop-color="#00dfff"/>
<stop offset="0.3252" stop-color="#00bfff"/>
<stop offset="0.3415" stop-color="#009fff"/>
<stop offset="0.3577" stop-color="#0060ff"/>
<stop offset="0.3659" stop-color="#0050ff"/>
<stop offset="0.3821" stop-color="#0010ff"/>
<stop offset="0.3902" stop-color="#0000ef"/>
<stop offset="0.4065" stop-color="#0000af"/>
<stop offset="0.4228" stop-color="#00008f"/>
<stop offset="0.4390" stop-color="#00008f"/>
<stop offset="0.4553" stop-color="#0000cf"/>
<stop offset="0.4634" stop-color="#0010ff"/>
<stop offset="0.4715" stop-color="#0050ff"/>
<stop offset="0.4797" stop-color="#00afff"/>
<stop offset="0.4878" stop-color="#20ffdf"/>
<stop offset="0.5041" stop-color="#ffff00"/>
<stop offset="0.5203" stop-color="#ff4000"/>
<stop offset="0.5285" stop-color="#ef0000"/>
<stop offset="0.5366" stop-color="#af0000"/>
<stop offset="0.5447" stop-color="#8f0000"/>
<stop offset="0.5528" stop-color="#800000"/>
<stop offset="0.5772" stop-color="#800000"/>
<stop offset="0.5854" stop-color="#9f0000"/>
<stop offset="0.5935" stop-color="#af0000"/>
<stop offset="0.6098" stop-color="#ef0000"/>
<stop offset="0.6179" stop-color="#ff1000"/>
<stop offset="0.6341" stop-color="#ff5000"/>
<stop offset="0.6423" stop-color="#ff6000"/>
<stop offset="0.6504" stop-color="#ff8000"/>
<stop offset="0.6585" stop-color="#ff8f00"/>
<stop offset="0.6667" stop-color="#ffaf00"/>
<stop offset="0.7073" stop-color="#ffff00"/>
<stop offset="0.7154" stop-color="#efff10"/>
<stop offset="0.7236" stop-color="#efff10"/>
<stop offset="0.7317" stop-color="#dfff20"/>
<stop offset="0.7398" stop-color="#dfff20"/>
<stop offset="0.7480" stop-color="#cfff30"/>
<stop offset="0.7561" stop-color="#cfff30"/>
<stop offset="0.7642" stop-color="#bfff40"/>
<stop offset="0.7805" stop-color="#bfff40"/>
<stop offset="0.7886" stop-color="#afff50"/>
<stop offset="0.8130" stop-color="#afff50"/>
<stop offset="0.8211" stop-color="#9fff60"/>
<stop offset="0.8862" stop-color="#9fff60"/>
<stop offset="0.8943" stop-color="#8fff70"/>
<stop offset="1.0000" stop-color="#8fff70"/>
</linearGradient>
<rect x="528.10" y="583.4" width="12.28" height="216.1" fill="url(#hm2_12)"/>
<linearGradient id="hm2_13" gradientUnits="userSpaceOnUse" x1="528.22" y1="819.92" x2="481.61" y2="562.56">
<stop offset="0.0000" stop-color="#8fff70"/>
<stop offset="0.0813" stop-color="#8fff70"/>
<stop offset="0.0894" stop-color="#80ff80"/>
<stop offset="0.1626" stop-color="#80ff80"/>
<stop offset="0.1707" stop-color="#70ff8f"/>
<stop offset="0.2033" stop-color="#70ff8f"/>
<stop offset="0.2114" stop-color="#60ff9f"/>
<stop offset="0.2276" stop-color="#60ff9f"/>
<stop offset="0.2358" stop-color="#50ffaf"/>
<stop offset="0.2439" stop-color="#50ffaf"/>
<stop offset="0.2520" stop-color="#40ffbf"/>
<stop offset="0.2602" stop-color="#40ffbf"/>
<stop offset="0.2764" stop-color="#20ffdf"/>
<stop offset="0.2846" stop-color="#20ffdf"/>
<stop offset="0.3008" stop-color="#00ffff"/>
<stop offset="0.3252" stop-color="#00cfff"/>
<stop offset="0.3333" stop-color="#00afff"/>
<stop offset="0.3415" stop-color="#009fff"/>
<stop offset="0.3496" stop-color="#0080ff"/>
<stop offset="0.3577" stop-color="#0070ff"/>
<stop offset="0.3821" stop-color="#0010ff"/>
<stop offset="0.3902" stop-color="#0000ef"/>
<stop offset="0.3984" stop-color="#0000cf"/>
<stop offset="0.4065" stop-color="#0000bf"/>
<stop offset="0.4146" stop-color="#00009f"/>
<stop offset="0.4228" stop-color="#00008f"/>
<stop offset="0.4390" stop-color="#00008f"/>
<stop offset="0.4553" stop-color="#0000cf"/>
<stop offset="0.4634" stop-color="#0010ff"/>
<stop offset="0.4797" stop-color="#00afff"/>
<stop offset="0.4878" stop-color="#20ffdf"/>
<stop offset="0.5041" stop-color="#ffff00"/>
<stop offset="0.5122" stop-color="#ff8f00"/>
<stop offset="0.5203" stop-color="#ff4000"/>
<stop offset="0.5285" stop-color="#ef0000"/>
<stop offset="0.5366" stop-color="#af0000"/>
<stop offset="0.5447" stop-color="#8f0000"/>
<stop offset="0.5528" stop-color="#800000"/>
<stop offset="0.5772" stop-color="#800000"/>
<stop offset="0.5854" stop-color="#9f0000"/>
<stop offset="0.5935" stop-color="#af0000"/>
<stop offset="0.6098" stop-color="#ef0000"/>
<stop offset="0.6179" stop-color="#ff1000"/>
<stop offset="0.6341" stop-color="#ff5000"/>
<stop offset="0.6423" stop-color="#ff6000"/>
<stop offset="0.6504" stop-color="#ff8000"/>
<stop offset="0.6585" stop-color="#ff8f00"/>
<stop offset="0.6667" stop-color="#ffaf00"/>
<stop offset="0.7073" stop-color="#ffff00"/>
<stop offset="0.7154" stop-color="#ffff00"/>
<stop offset="0.7317" stop-color="#dfff20"/>
<stop offset="0.7398" stop-color="#dfff20"/>
<stop offset="0.7480" stop-color="#cfff30"/>
<stop offset="0.7561" stop-color="#cfff30"/>
<stop offset="0.7642" stop-color="#bfff40"/>
<stop offset="0.7805" stop-color="#bfff40"/>
<stop offset="0.7886" stop-color="#afff50"/>
<stop offset="0.8211" stop-color="#afff50"/>
<stop offset="0.8293" stop-color="#9fff60"/>
<stop offset="0.9024" stop-color="#9fff60"/>
<stop offset="0.9106" stop-color="#8fff70"/>
<stop offset="1.0000" stop-color="#8fff70"/>
</linearGradient>
<rect x="539.67" y="583.4" width="12.28" height="216.1" fill="url(#hm2_13)"/>
<linearGradient id="hm2_14" gradientUnits="userSpaceOnUse" x1="528.22" y1="819.92" x2="481.61" y2="562.56">
<stop offset="0.0000" stop-color="#8fff70"/>
<stop offset="0.1057" stop-color="#8fff70"/>
<stop offset="0.1138" stop-color="#80ff80"/>
<stop offset="0.1707" stop-color="#80ff80"/>
<stop offset="0.1789" stop-color="#70ff8f"/>
<stop offset="0.2033" stop-color="#70ff8f"/>
<stop offset="0.2114" stop-color="#60ff9f"/>
<stop offset="0.2276" stop-color="#60ff9f"/>
<stop offset="0.2358" stop-color="#50ffaf"/>
<stop offset="0.2439" stop-color="#50ffaf"/>
<stop offset="0.2520" stop-color="#40ffbf"/>
<stop offset="0.2602" stop-color="#40ffbf"/>
<stop offset="0.2683" stop-color="#30ffcf"/>
<stop offset="0.2764" stop-color="#30ffcf"/>
<stop offset="0.3008" stop-color="#00ffff"/>
<stop offset="0.3252" stop-color="#00cfff"/>
<stop offset="0.3333" stop-color="#00afff"/>
<stop offset="0.3415" stop-color="#009fff"/>
<stop offset="0.3496" stop-color="#0080ff"/>
<stop offset="0.3577" stop-color="#0070ff"/>
<stop offset="0.3821" stop-color="#0010ff"/>
<stop offset="0.3902" stop-color="#0000ef"/>
<stop offset="0.3984" stop-color="#0000cf"/>
<stop offset="0.4065" stop-color="#0000bf"/>
<stop offset="0.4146" stop-color="#00009f"/>
<stop offset="0.4228" stop-color="#00008f"/>
<stop offset="0.4390" stop-color="#00008f"/>
<stop offset="0.4553" stop-color="#0000cf"/>
<stop offset="0.4634" stop-color="#0010ff"/>
<stop offset="0.4715" stop-color="#0060ff"/>
<stop offset="0.4797" stop-color="#00bfff"/>
<stop offset="0.4878" stop-color="#20ffdf"/>
<stop offset="0.5041" stop-color="#ffff00"/>
<stop offset="0.5122" stop-color="#ff8f00"/>
<stop offset="0.5203" stop-color="#ff3000"/>
<stop offset="0.5285" stop-color="#ef0000"/>
<stop offset="0.5366" stop-color="#af0000"/>
<stop offset="0.5447" stop-color="#8f0000"/>
<stop offset="0.5528" stop-color="#800000"/>
<stop offset="0.5772" stop-color="#800000"/>
<stop offset="0.5854" stop-color="#8f0000"/>
<stop offset="0.6098" stop-color="#ef0000"/>
<stop offset="0.6179" stop-color="#ff1000"/>
<stop offset="0.6260" stop-color="#ff3000"/>
<stop offset="0.6341" stop-color="#ff4000"/>
<stop offset="0.6504" stop-color="#ff8000"/>
<stop offset="0.6667" stop-color="#ff9f00"/>
<stop offset="0.6748" stop-color="#ffbf00"/>
<stop offset="0.7073" stop-color="#ffff00"/>
<stop offset="0.7154" stop-color="#ffff00"/>
<stop offset="0.7317" stop-color="#dfff20"/>
<stop offset="0.7398" stop-color="#dfff20"/>
<stop offset="0.7480" stop-color="#cfff30"/>
<stop offset="0.7642" stop-color="#cfff30"/>
<stop offset="0.7724" stop-color="#bfff40"/>
<stop offset="0.7886" stop-color="#bfff40"/>
<stop offset="0.7967" stop-color="#afff50"/>
<stop offset="0.8293" stop-color="#afff50"/>
<stop offset="0.8374" stop-color="#9fff60"/>
<stop offset="0.9350" stop-color="#9fff60"/>
<stop offset="0.9431" stop-color="#8fff70"/>
<stop offset="1.0000" stop-color="#8fff70"/>
</linearGradient>
<rect x="551.25" y="583.4" width="12.27" height="216.1" fill="url(#hm2_14)"/>
<linearGradient id="hm2_15" gradientUnits="userSpaceOnUse" x1="528.22" y1="819.92" x2="481.61" y2="562.56">
<stop offset="0.0000" stop-color="#8fff70"/>
<stop offset="0.1220" stop-color="#8fff70"/>
<stop offset="0.1301" stop-color="#80ff80"/>
<stop offset="0.1789" stop-color="#80ff80"/>
<stop offset="0.1870" stop-color="#70ff8f"/>
<stop offset="0.2114" stop-color="#70ff8f"/>
<stop offset="0.2195" stop-color="#60ff9f"/>
<stop offset="0.2358" stop-color="#60ff9f"/>
<stop offset="0.2439" stop-color="#50ffaf"/>
<stop offset="0.2520" stop-color="#50ffaf"/>
<stop offset="0.2683" stop-color="#30ffcf"/>
<stop offset="0.2764" stop-color="#30ffcf"/>
<stop offset="0.3008" stop-color="#00ffff"/>
<stop offset="0.3333" stop-color="#00bfff"/>
<stop offset="0.3415" stop-color="#009fff"/>
<stop offset="0.3496" stop-color="#008fff"/>
<stop offset="0.3821" stop-color="#0010ff"/>
<stop offset="0.3902" stop-color="#0000ef"/>
<stop offset="0.3984" stop-color="#0000df"/>
<stop offset="0.4146" stop-color="#00009f"/>
<stop offset="0.4228" stop-color="#00009f"/>
<stop offset="0.4309" stop-color="#00008f"/>
<stop offset="0.4472" stop-color="#0000af"/>
<stop offset="0.4553" stop-color="#0000cf"/>
<stop offset="0.4634" stop-color="#0010ff"/>
<stop offset="0.4715" stop-color="#0060ff"/>
<stop offset="0.4797" stop-color="#00bfff"/>
<stop offset="0.4878" stop-color="#20ffdf"/>
<stop offset="0.5041" stop-color="#ffff00"/>
<stop offset="0.5122" stop-color="#ff8f00"/>
<stop offset="0.5203" stop-color="#ff3000"/>
<stop offset="0.5285" stop-color="#df0000"/>
<stop offset="0.5447" stop-color="#800000"/>
<stop offset="0.5772" stop-color="#800000"/>
<stop offset="0.5854" stop-color="#8f0000"/>
<stop offset="0.6098" stop-color="#ef0000"/>
<stop offset="0.6179" stop-color="#ff1000"/>
<stop offset="0.6260" stop-color="#ff2000"/>
<stop offset="0.6423" stop-color="#ff6000"/>
<stop offset="0.6504" stop-color="#ff7000"/>
<stop offset="0.6585" stop-color="#ff8f00"/>
<stop offset="0.6667" stop-color="#ff9f00"/>
<stop offset="0.6748" stop-color="#ffbf00"/>
<stop offset="0.6992" stop-color="#ffef00"/>
<stop offset="0.7073" stop-color="#ffef00"/>
<stop offset="0.7154" stop-color="#ffff00"/>
<stop offset="0.7236" stop-color="#efff10"/>
<stop offset="0.7317" stop-color="#efff10"/>
<stop offset="0.7398" stop-color="#dfff20"/>
<stop offset="0.7480" stop-color="#dfff20"/>
<stop offset="0.7561" stop-color="#cfff30"/>
<stop offset="0.7642" stop-color="#cfff30"/>
<stop offset="0.7724" stop-color="#bfff40"/>
<stop offset="0.7967" stop-color="#bfff40"/>
<stop offset="0.8049" stop-color="#afff50"/>
<stop offset="0.8374" stop-color="#afff50"/>
<stop offset="0.8455" stop-color="#9fff60"/>
<stop offset="0.9756" stop-color="#9fff60"/>
<stop offset="0.9837" stop-color="#8fff70"/>
<stop offset="1.0000" stop-color="#8fff70"/>
</linearGradient>
<rect x="562.82" y="583.4" width="12.28" height="216.1" fill="url(#hm2_15)"/>
<linearGradient id="hm2_16" gradientUnits="userSpaceOnUse" x1="528.22" y1="819.92" x2="481.61" y2="562.56">
<stop offset="0.0000" stop-color="#8fff70"/>
<stop offset="0.1301" stop-color="#8fff70"/>
<stop offset="0.1382" stop-color="#80ff80"/>
<stop offset="0.1870" stop-color="#80ff80"/>
<stop offset="0.1951" stop-color="#70ff8f"/>
<stop offset="0.2114" stop-color="#70ff8f"/>
<stop offset="0.2195" stop-color="#60ff9f"/>
<stop offset="0.2358" stop-color="#60ff9f"/>
<stop offset="0.2439" stop-color="#50ffaf"/>
<stop offset="0.2520" stop-color="#50ffaf"/>
<stop offset="0.2602" stop-color="#40ffbf"/>
<stop offset="0.2683" stop-color="#40ffbf"/>
<stop offset="0.3008" stop-color="#00ffff"/>
<stop offset="0.3333" stop-color="#00bfff"/>
<stop offset="0.3415" stop-color="#009fff"/>
<stop offset="0.3496" stop-color="#008fff"/>
<stop offset="0.3821" stop-color="#0010ff"/>
<stop offset="0.3902" stop-color="#0000ff"/>
<stop offset="0.4065" stop-color="#0000bf"/>
<stop offset="0.4309" stop-color="#00008f"/>
<stop offset="0.4472" stop-color="#0000af"/>
<stop offset="0.4553" stop-color="#0000df"/>
<stop offset="0.4634" stop-color="#0010ff"/>
<stop offset="0.4715" stop-color="#0060ff"/>
<stop offset="0.4797" stop-color="#00bfff"/>
<stop offset="0.4878" stop-color="#20ffdf"/>
<stop offset="0.5041" stop-color="#ffff00"/>
<stop offset="0.5122" stop-color="#ff8f00"/>
<stop offset="0.5203" stop-color="#ff3000"/>
<stop offset="0.5285" stop-color="#df0000"/>
<stop offset="0.5447" stop-color="#800000"/>
<stop offset="0.5772" stop-color="#800000"/>
<stop offset="0.5854" stop-color="#8f0000"/>
<stop offset="0.6016" stop-color="#cf0000"/>
<stop offset="0.6098" stop-color="#df0000"/>
<stop offset="0.6179" stop-color="#ff0000"/>
<stop offset="0.6423" stop-color="#ff6000"/>
<stop offset="0.6504" stop-color="#ff7000"/>
<stop offset="0.6585" stop-color="#ff8f00"/>
<stop offset="0.7154" stop-color="#ffff00"/>
<stop offset="0.7236" stop-color="#efff10"/>
<stop offset="0.7317" stop-color="#efff10"/>
<stop offset="0.7398" stop-color="#dfff20"/>
<stop offset="0.7480" stop-color="#dfff20"/>
<stop offset="0.7561" stop-color="#cfff30"/>
<stop offset="0.7724" stop-color="#cfff30"/>
<stop offset="0.7805" stop-color="#bfff40"/>
<stop offset="0.7967" stop-color="#bfff40"/>
<stop offset="0.8049" stop-color="#afff50"/>
<stop offset="0.8455" stop-color="#afff50"/>
<stop offset="0.8537" stop-color="#9fff60"/>
<stop offset="1.0000" stop-color="#9fff60"/>
</linearGradient>
<rect x="574.40" y="583.4" width="12.27" height="216.1" fill="url(#hm2_16)"/>
<linearGradient id="hm2_17" gradientUnits="userSpaceOnUse" x1="528.22" y1="819.92" x2="481.61" y2="562.56">
<stop offset="0.0000" stop-color="#8fff70"/>
<stop offset="0.1382" stop-color="#8fff70"/>
<stop offset="0.1463" stop-color="#80ff80"/>
<stop offset="0.1870" stop-color="#80ff80"/>
<stop offset="0.1951" stop-color="#70ff8f"/>
<stop offset="0.2195" stop-color="#70ff8f"/>
<stop offset="0.2276" stop-color="#60ff9f"/>
<stop offset="0.2358" stop-color="#60ff9f"/>
<stop offset="0.2439" stop-color="#50ffaf"/>
<stop offset="0.2520" stop-color="#50ffaf"/>
<stop offset="0.2602" stop-color="#40ffbf"/>
<stop offset="0.2683" stop-color="#40ffbf"/>
<stop offset="0.2846" stop-color="#20ffdf"/>
<stop offset="0.2927" stop-color="#20ffdf"/>
<stop offset="0.3089" stop-color="#00ffff"/>
<stop offset="0.3171" stop-color="#00dfff"/>
<stop offset="0.3333" stop-color="#00bfff"/>
<stop offset="0.3415" stop-color="#009fff"/>
<stop offset="0.3496" stop-color="#008fff"/>
<stop offset="0.3659" stop-color="#0050ff"/>
<stop offset="0.3740" stop-color="#0040ff"/>
<stop offset="0.3902" stop-color="#0000ff"/>
<stop offset="0.4065" stop-color="#0000bf"/>
<stop offset="0.4309" stop-color="#00008f"/>
<stop offset="0.4472" stop-color="#0000af"/>
<stop offset="0.4553" stop-color="#0000df"/>
<stop offset="0.4634" stop-color="#0010ff"/>
<stop offset="0.4715" stop-color="#0060ff"/>
<stop offset="0.4797" stop-color="#00bfff"/>
<stop offset="0.4878" stop-color="#30ffcf"/>
<stop offset="0.4959" stop-color="#9fff60"/>
<stop offset="0.5041" stop-color="#ffef00"/>
<stop offset="0.5203" stop-color="#ff3000"/>
<stop offset="0.5285" stop-color="#df0000"/>
<stop offset="0.5447" stop-color="#800000"/>
<stop offset="0.5772" stop-color="#800000"/>
<stop offset="0.5854" stop-color="#8f0000"/>
<stop offset="0.5935" stop-color="#af0000"/>
<stop offset="0.6016" stop-color="#bf0000"/>
<stop offset="0.6179" stop-color="#ff0000"/>
<stop offset="0.6423" stop-color="#ff6000"/>
<stop offset="0.6504" stop-color="#ff7000"/>
<stop offset="0.6585" stop-color="#ff8f00"/>
<stop offset="0.7154" stop-color="#ffff00"/>
<stop offset="0.7236" stop-color="#efff10"/>
<stop offset="0.7317" stop-color="#efff10"/>
<stop offset="0.7398" stop-color="#dfff20"/>
<stop offset="0.7480" stop-color="#dfff20"/>
<stop offset="0.7561" stop-color="#cfff30"/>
<stop offset="0.7724" stop-color="#cfff30"/>
<stop offset="0.7805" stop-color="#bfff40"/>
<stop offset="0.8049" stop-color="#bfff40"/>
<stop offset="0.8130" stop-color="#afff50"/>
<stop offset="0.8618" stop-color="#afff50"/>
<stop offset="0.8699" stop-color="#9fff60"/>
<stop offset="1.0000" stop-color="#9fff60"/>
</linearGradient>
<rect x="585.97" y="583.4" width="12.28" height="216.1" fill="url(#hm2_17)"/>
<linearGradient id="hm2_18" gradientUnits="userSpaceOnUse" x1="528.22" y1="819.92" x2="481.61" y2="562.56">
<stop offset="0.0000" stop-color="#9fff60"/>
<stop offset="0.0325" stop-color="#9fff60"/>
<stop offset="0.0407" stop-color="#8fff70"/>
<stop offset="0.1545" stop-color="#8fff70"/>
<stop offset="0.1626" stop-color="#80ff80"/>
<stop offset="0.1951" stop-color="#80ff80"/>
<stop offset="0.2033" stop-color="#70ff8f"/>
<stop offset="0.2195" stop-color="#70ff8f"/>
<stop offset="0.2276" stop-color="#60ff9f"/>
<stop offset="0.2439" stop-color="#60ff9f"/>
<stop offset="0.2520" stop-color="#50ffaf"/>
<stop offset="0.2602" stop-color="#50ffaf"/>
<stop offset="0.2846" stop-color="#20ffdf"/>
<stop offset="0.2927" stop-color="#20ffdf"/>
<stop offset="0.3089" stop-color="#00ffff"/>
<stop offset="0.3171" stop-color="#00efff"/>
<stop offset="0.3252" stop-color="#00cfff"/>
<stop offset="0.3415" stop-color="#00afff"/>
<stop offset="0.3577" stop-color="#0070ff"/>
<stop offset="0.3659" stop-color="#0060ff"/>
<stop offset="0.3902" stop-color="#0000ff"/>
<stop offset="0.4065" stop-color="#0000bf"/>
<stop offset="0.4228" stop-color="#00009f"/>
<stop offset="0.4390" stop-color="#00009f"/>
<stop offset="0.4472" stop-color="#0000af"/>
<stop offset="0.4553" stop-color="#0000df"/>
<stop offset="0.4634" stop-color="#0020ff"/>
<stop offset="0.4715" stop-color="#0060ff"/>
<stop offset="0.4797" stop-color="#00bfff"/>
<stop offset="0.4878" stop-color="#30ffcf"/>
<stop offset="0.4959" stop-color="#9fff60"/>
<stop offset="0.5041" stop-color="#ffef00"/>
<stop offset="0.5203" stop-color="#ff3000"/>
<stop offset="0.5285" stop-color="#df0000"/>
<stop offset="0.5366" stop-color="#9f0000"/>
<stop offset="0.5447" stop-color="#800000"/>
<stop offset="0.5772" stop-color="#800000"/>
<stop offset="0.5935" stop-color="#9f0000"/>
<stop offset="0.6179" stop-color="#ff0000"/>
<stop offset="0.6341" stop-color="#ff4000"/>
<stop offset="0.6423" stop-color="#ff5000"/>
<stop offset="0.6585" stop-color="#ff8f00"/>
<stop offset="0.7154" stop-color="#ffff00"/>
<stop offset="0.7236" stop-color="#ffff00"/>
<stop offset="0.7398" stop-color="#dfff20"/>
<stop offset="0.7561" stop-color="#dfff20"/>
<stop offset="0.7642" stop-color="#cfff30"/>
<stop offset="0.7724" stop-color="#cfff30"/>
<stop offset="0.7805" stop-color="#bfff40"/>
<stop offset="0.8130" stop-color="#bfff40"/>
<stop offset="0.8211" stop-color="#afff50"/>
<stop offset="0.8699" stop-color="#afff50"/>
<stop offset="0.8780" stop-color="#9fff60"/>
<stop offset="1.0000" stop-color="#9fff60"/>
</linearGradient>
<rect x="597.55" y="583.4" width="12.28" height="216.1" fill="url(#hm2_18)"/>
<linearGradient id="hm2_19" gradientUnits="userSpaceOnUse" x1="528.22" y1="819.92" x2="481.61" y2="562.56">
<stop offset="0.0000" stop-color="#9fff60"/>
<stop offset="0.0650" stop-color="#9fff60"/>
<stop offset="0.0732" stop-color="#8fff70"/>
<stop offset="0.1626" stop-color="#8fff70"/>
<stop offset="0.1707" stop-color="#80ff80"/>
<stop offset="0.1951" stop-color="#80ff80"/>
<stop offset="0.2033" stop-color="#70ff8f"/>
<stop offset="0.2276" stop-color="#70ff8f"/>
<stop offset="0.2358" stop-color="#60ff9f"/>
<stop offset="0.2439" stop-color="#60ff9f"/>
<stop offset="0.2520" stop-color="#50ffaf"/>
<stop offset="0.2602" stop-color="#50ffaf"/>
<stop offset="0.2764" stop-color="#30ffcf"/>
<stop offset="0.2846" stop-color="#30ffcf"/>
<stop offset="0.3089" stop-color="#00ffff"/>
<stop offset="0.3252" stop-color="#00dfff"/>
<stop offset="0.3333" stop-color="#00bfff"/>
<stop offset="0.3415" stop-color="#00afff"/>
<stop offset="0.3577" stop-color="#0070ff"/>
<stop offset="0.3659" stop-color="#0060ff"/>
<stop offset="0.3902" stop-color="#0000ff"/>
<stop offset="0.4065" stop-color="#0000bf"/>
<stop offset="0.4228" stop-color="#00009f"/>
<stop offset="0.4390" stop-color="#00009f"/>
<stop offset="0.4553" stop-color="#0000df"/>
<stop offset="0.4634" stop-color="#0020ff"/>
<stop offset="0.4797" stop-color="#00bfff"/>
<stop offset="0.4878" stop-color="#30ffcf"/>
<stop offset="0.4959" stop-color="#9fff60"/>
<stop offset="0.5041" stop-color="#ffef00"/>
<stop offset="0.5122" stop-color="#ff8000"/>
<stop offset="0.5203" stop-color="#ff3000"/>
<stop offset="0.5285" stop-color="#df0000"/>
<stop offset="0.5366" stop-color="#9f0000"/>
<stop offset="0.5447" stop-color="#800000"/>
<stop offset="0.5772" stop-color="#800000"/>
<stop offset="0.5935" stop-color="#9f0000"/>
<stop offset="0.6179" stop-color="#ff0000"/>
<stop offset="0.6341" stop-color="#ff4000"/>
<stop offset="0.6423" stop-color="#ff5000"/>
<stop offset="0.6504" stop-color="#ff7000"/>
<stop offset="0.6585" stop-color="#ff8000"/>
<stop offset="0.6667" stop-color="#ff9f00"/>
<stop offset="0.7154" stop-color="#ffff00"/>
<stop offset="0.7236" stop-color="#ffff00"/>
<stop offset="0.7317" stop-color="#efff10"/>
<stop offset="0.7398" stop-color="#efff10"/>
<stop offset="0.7480" stop-color="#dfff20"/>
<stop offset="0.7561" stop-color="#dfff20"/>
<stop offset="0.7642" stop-color="#cfff30"/>
<stop offset="0.7805" stop-color="#cfff30"/>
<stop offset="0.7886" stop-color="#bfff40"/>
<stop offset="0.8130" stop-color="#bfff40"/>
<stop offset="0.8211" stop-color="#afff50"/>
<stop offset="0.8943" stop-color="#afff50"/>
<stop offset="0.9024" stop-color="#9fff60"/>
<stop offset="1.0000" stop-color="#9fff60"/>
</linearGradient>
<rect x="609.12" y="583.4" width="11.57" height="216.1" fill="url(#hm2_19)"/>
<text x="387.5" y="804" font-size="12" text-anchor="end" font-weight="bold" font-style="normal">-10</text>
<text x="387.6" y="813.1" font-size="12" text-anchor="middle" font-weight="bold" font-style="normal">-10</text>
<text x="387.5" y="750" font-size="12" text-anchor="end" font-weight="bold" font-style="normal">-5</text>
<text x="445.5" y="813.1" font-size="12" text-anchor="middle" font-weight="bold" font-style="normal">-5</text>
<text x="387.5" y="696" font-size="12" text-anchor="end" font-weight="bold" font-style="normal">0</text>
<text x="504.9" y="813.1" font-size="12" text-anchor="middle" font-weight="bold" font-style="normal">0</text>
<text x="387.5" y="641.9" font-size="12" text-anchor="end" font-weight="bold" font-style="normal">5</text>
<text x="562.8" y="813.1" font-size="12" text-anchor="middle" font-weight="bold" font-style="normal">5</text>
<text x="387.5" y="587.9" font-size="12" text-anchor="end" font-weight="bold" font-style="normal">10</text>
<text x="620.7" y="813.1" font-size="12" text-anchor="middle" font-weight="bold" font-style="normal">10</text>
<text x="504.2" y="826.3" font-size="12" text-anchor="middle" font-weight="bold" font-style="normal">x</text>
<text transform="translate(363.2 692.2) rotate(-90)" font-size="12" text-anchor="middle" font-weight="bold">t</text>
<rect x="633.4" y="582.6" width="17.3" height="217.1" fill="url(#jet)"/>
<path class="cb" d="M650.3 582.6V799.7"/>
<text x="651.9" y="603.6" font-size="12" text-anchor="start" font-weight="bold" font-style="normal">0.01</text>
<text x="651.9" y="649.7" font-size="12" text-anchor="start" font-weight="bold" font-style="normal">0.005</text>
<text x="651.9" y="695.8" font-size="12" text-anchor="start" font-weight="bold" font-style="normal">0</text>
<text x="651.9" y="741.9" font-size="12" text-anchor="start" font-weight="bold" font-style="normal">-0.005</text>
<text x="651.9" y="788" font-size="12" text-anchor="start" font-weight="bold" font-style="normal">-0.01</text>
<path class="cb" d="M633.4 599.3h2.2M650.7 599.3h-2.2M633.4 645.4h2.2M650.7 645.4h-2.2M633.4 691.5h2.2M650.7 691.5h-2.2M633.4 737.6h2.2M650.7 737.6h-2.2M633.4 783.7h2.2M650.7 783.7h-2.2"/>
<text x="340.8" y="852.7" font-size="17" text-anchor="middle" font-weight="normal" font-style="italic" class="cap">(iii)</text>
</g>
</svg>
</body></html>
